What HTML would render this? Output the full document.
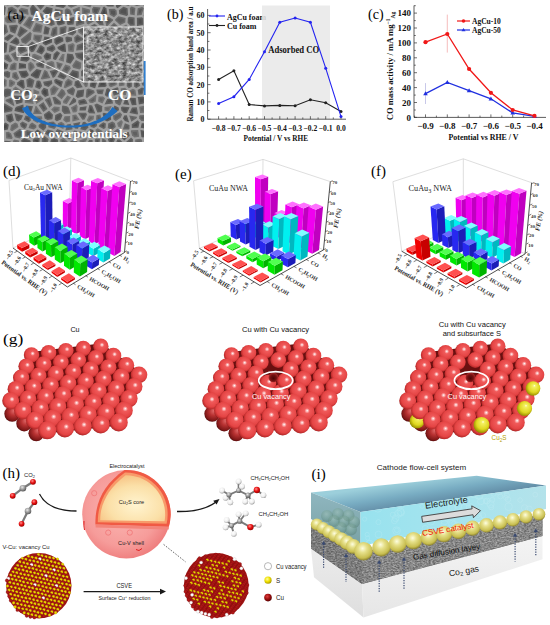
<!DOCTYPE html>
<html><head><meta charset="utf-8"><style>
html,body{margin:0;padding:0;background:#fff;}
svg{display:block;font-family:"Liberation Sans",sans-serif;}
</style></head><body>
<svg width="550" height="625" viewBox="0 0 550 625">
<rect width="550" height="625" fill="#fff"/>
<clipPath id="ca"><rect x="4" y="5" width="140" height="137"/></clipPath>
<g clip-path="url(#ca)">
<rect x="4" y="5" width="140" height="137" fill="#a0a0a0"/>
<filter id="bl5"><feGaussianBlur stdDeviation="0.6"/></filter><g filter="url(#bl5)">
<polygon points="13.2,-2.2 9.0,-4.2 2.5,-1.0 3.0,1.7 7.3,5.6 11.3,4.5" fill="rgb(111,111,111)"/>
<polygon points="11.3,-1.3 9.0,-2.4 4.2,-0.1 4.4,0.9 7.7,3.8 10.0,3.2" fill="rgb(96,96,96)" opacity="0.7"/>
<polygon points="17.7,7.8 19.9,5.9 20.6,-0.8 17.7,-2.4 15.5,-1.8 13.6,5.0" fill="rgb(110,110,110)"/>
<polygon points="17.6,5.8 18.4,5.1 18.9,0.1 17.5,-0.7 16.7,-0.5 15.4,4.3" fill="rgb(92,92,92)" opacity="0.7"/>
<polygon points="22.2,5.6 28.3,7.0 31.4,1.8 31.4,1.1 28.7,-1.6 22.9,-0.4" fill="rgb(108,108,108)"/>
<polygon points="24.0,4.4 27.5,5.2 29.6,1.6 28.2,0.2 24.3,0.9" fill="rgb(82,82,82)" opacity="0.7"/>
<polygon points="33.7,1.8 40.7,9.9 44.6,5.3 42.1,-0.9 33.7,1.6" fill="rgb(101,101,101)"/>
<polygon points="36.4,2.5 40.7,7.4 42.8,5.0 41.1,1.1" fill="rgb(86,86,86)" opacity="0.7"/>
<polygon points="46.8,4.5 53.2,6.0 55.3,-1.9 54.3,-2.9 44.2,-2.7 44.0,-2.3" fill="rgb(96,96,96)"/>
<polygon points="46.2,-1.2 48.0,3.1 52.1,4.1 53.5,-1.3" fill="rgb(80,80,80)" opacity="0.7"/>
<polygon points="66.2,-0.3 64.2,-2.0 57.5,-1.2 55.5,6.5 63.4,7.9 65.6,6.2" fill="rgb(92,92,92)"/>
<polygon points="64.5,0.4 63.7,-0.3 58.8,0.3 57.5,5.2 63.0,6.2 64.1,5.4" fill="rgb(73,73,73)" opacity="0.7"/>
<polygon points="68.5,0.0 67.9,6.1 71.2,7.7 77.2,5.2 72.8,-1.2" fill="rgb(106,106,106)"/>
<polygon points="70.0,1.3 69.6,5.2 71.2,5.9 74.7,4.4 72.1,0.6" fill="rgb(88,88,88)" opacity="0.7"/>
<polygon points="75.3,-1.7 79.6,4.7 80.6,5.0 84.9,-2.4 84.4,-2.8" fill="rgb(114,114,114)"/>
<polygon points="78.1,-0.4 80.2,2.6 82.2,-0.9" fill="rgb(86,86,86)" opacity="0.7"/>
<polygon points="90.3,7.4 91.5,5.2 90.0,-1.5 87.0,-1.5 83.1,5.3" fill="rgb(110,110,110)"/>
<polygon points="89.5,5.5 89.8,5.0 88.7,0.1 87.9,0.1 85.5,4.3" fill="rgb(84,84,84)" opacity="0.7"/>
<polygon points="92.2,-2.1 93.7,4.4 101.9,5.3 103.0,4.6 103.5,-1.2 102.1,-2.8" fill="rgb(98,98,98)"/>
<polygon points="94.2,-0.6 95.0,2.9 101.4,3.7 101.8,-0.7 101.4,-1.1" fill="rgb(73,73,73)" opacity="0.7"/>
<polygon points="113.7,0.2 110.4,-1.4 105.7,-0.6 105.3,4.7 107.8,6.6 113.7,6.5" fill="rgb(91,91,91)"/>
<polygon points="112.1,1.2 110.2,0.3 107.2,0.8 106.9,3.9 108.3,5.0 112.1,4.9" fill="rgb(79,79,79)" opacity="0.7"/>
<polygon points="116.0,0.4 116.0,7.1 117.6,8.3 121.9,4.9 120.8,-0.3 120.4,-0.6" fill="rgb(91,91,91)"/>
<polygon points="117.6,1.7 117.6,6.3 117.6,6.3 120.1,4.3 119.5,1.2" fill="rgb(74,74,74)" opacity="0.7"/>
<polygon points="131.5,-1.6 123.2,0.0 124.1,4.5 128.5,6.0 130.4,4.6" fill="rgb(108,108,108)"/>
<polygon points="129.5,0.5 125.1,1.3 125.5,3.3 128.2,4.2 128.9,3.7" fill="rgb(96,96,96)" opacity="0.7"/>
<polygon points="139.5,0.6 133.6,-0.5 132.7,4.5 136.8,6.1 140.9,5.1" fill="rgb(99,99,99)"/>
<polygon points="138.3,2.0 134.9,1.4 134.5,3.5 136.9,4.4 138.9,3.9" fill="rgb(77,77,77)" opacity="0.7"/>
<polygon points="141.7,-0.2 143.3,5.2 145.4,6.6 146.7,6.3 148.2,-0.2 143.4,-2.3" fill="rgb(112,112,112)"/>
<polygon points="143.5,0.2 144.7,4.2 145.5,4.7 146.4,0.7 143.9,-0.3" fill="rgb(90,90,90)" opacity="0.7"/>
<polygon points="2.0,4.0 -1.7,8.0 -0.6,15.0 3.1,16.5 5.0,14.3 5.8,7.3" fill="rgb(96,96,96)"/>
<polygon points="2.1,6.2 0.0,8.5 0.9,13.8 2.7,14.6 3.5,13.6 4.1,8.0" fill="rgb(83,83,83)" opacity="0.7"/>
<polygon points="16.7,9.8 12.0,6.7 8.0,7.8 7.4,13.6 15.9,13.8 16.7,12.7" fill="rgb(103,103,103)"/>
<polygon points="15.1,10.7 11.8,8.5 9.5,9.0 9.2,12.1 15.1,12.2" fill="rgb(77,77,77)" opacity="0.7"/>
<polygon points="19.0,9.7 19.0,12.2 27.9,14.8 28.6,14.5 27.8,9.3 21.3,7.7" fill="rgb(111,111,111)"/>
<polygon points="20.6,10.5 20.6,11.0 26.7,12.8 26.4,10.6 21.7,9.5" fill="rgb(88,88,88)" opacity="0.7"/>
<polygon points="30.0,8.6 30.9,14.5 33.7,15.8 39.0,11.4 32.7,4.1" fill="rgb(94,94,94)"/>
<polygon points="31.7,8.9 32.4,13.5 33.4,14.0 36.7,11.2 32.9,6.8" fill="rgb(81,81,81)" opacity="0.7"/>
<polygon points="42.5,11.3 48.0,16.6 51.6,15.8 52.7,8.3 46.4,6.8" fill="rgb(91,91,91)"/>
<polygon points="44.7,11.2 48.5,14.9 50.1,14.5 50.9,9.5 47.0,8.5" fill="rgb(75,75,75)" opacity="0.7"/>
<polygon points="55.0,8.7 53.8,16.4 54.9,17.4 62.6,15.0 62.6,10.1" fill="rgb(103,103,103)"/>
<polygon points="55.5,15.6 61.0,13.8 61.0,11.4 56.3,10.6" fill="rgb(89,89,89)" opacity="0.7"/>
<polygon points="66.9,8.2 64.8,9.7 64.9,15.4 65.8,16.5 72.3,14.9 70.2,9.8" fill="rgb(106,106,106)"/>
<polygon points="66.5,14.7 70.1,13.8 69.0,10.9 67.1,10.0 66.5,10.5" fill="rgb(89,89,89)" opacity="0.7"/>
<polygon points="74.7,14.9 75.8,15.6 79.9,13.9 79.8,7.1 79.0,6.9 72.6,9.5" fill="rgb(110,110,110)"/>
<polygon points="76.0,13.8 78.2,12.9 78.2,9.0 74.7,10.4" fill="rgb(89,89,89)" opacity="0.7"/>
<polygon points="82.1,7.4 82.2,14.0 84.1,15.1 90.1,12.5 89.8,9.6" fill="rgb(109,109,109)"/>
<polygon points="83.7,9.5 83.7,13.1 84.2,13.3 88.4,11.5 88.3,10.9" fill="rgb(93,93,93)" opacity="0.7"/>
<polygon points="97.7,14.5 100.6,7.5 93.4,6.7 92.0,9.0 92.4,12.6 96.1,15.1" fill="rgb(104,104,104)"/>
<polygon points="96.5,13.3 98.3,8.8 94.2,8.4 93.7,9.3 93.9,11.7 96.3,13.3" fill="rgb(77,77,77)" opacity="0.7"/>
<polygon points="100.1,14.8 103.3,16.1 107.4,14.7 106.4,8.4 104.1,6.6 103.2,7.3" fill="rgb(90,90,90)"/>
<polygon points="102.2,13.9 103.3,14.4 105.6,13.7 104.9,9.3 104.3,8.8" fill="rgb(62,62,62)" opacity="0.7"/>
<polygon points="114.0,17.3 116.9,14.5 116.6,10.4 114.5,8.8 108.8,8.9 109.7,14.8" fill="rgb(105,105,105)"/>
<polygon points="113.8,15.3 115.3,13.9 115.0,11.2 113.9,10.4 110.6,10.4 111.2,13.8" fill="rgb(76,76,76)" opacity="0.7"/>
<polygon points="119.2,14.0 126.6,15.9 128.0,14.9 127.6,8.2 123.4,6.7 118.9,10.3" fill="rgb(97,97,97)"/>
<polygon points="120.7,12.7 126.3,14.2 126.3,14.2 126.1,9.3 123.7,8.5 120.5,11.0" fill="rgb(77,77,77)" opacity="0.7"/>
<polygon points="135.4,8.1 131.6,6.5 129.9,7.9 130.2,14.5 134.6,15.3" fill="rgb(107,107,107)"/>
<polygon points="133.7,9.1 131.9,8.4 131.6,8.6 131.8,13.2 133.2,13.4" fill="rgb(85,85,85)" opacity="0.7"/>
<polygon points="136.9,15.4 141.6,15.0 143.8,8.3 142.1,7.1 137.7,8.2" fill="rgb(106,106,106)"/>
<polygon points="138.7,13.6 140.4,13.5 141.9,8.9 141.8,8.9 139.2,9.5" fill="rgb(79,79,79)" opacity="0.7"/>
<polygon points="170.1,15.8 147.6,8.5 146.1,8.8 143.7,15.8 144.7,16.9" fill="rgb(94,94,94)"/>
<polygon points="145.6,15.3 161.2,14.6 147.6,10.1 147.3,10.2" fill="rgb(70,70,70)" opacity="0.7"/>
<polygon points="-1.5,26.9 3.3,22.4 2.5,18.7 -1.7,17.0 -10.8,19.0" fill="rgb(101,101,101)"/>
<polygon points="-1.5,24.8 1.5,21.9 1.1,19.9 -1.8,18.7 -7.3,19.9" fill="rgb(73,73,73)" opacity="0.7"/>
<polygon points="15.8,22.5 15.4,16.1 6.7,15.9 4.7,18.2 5.5,22.1 7.8,23.3" fill="rgb(114,114,114)"/>
<polygon points="14.1,21.1 13.9,17.6 7.4,17.5 6.4,18.6 7.0,21.0 8.2,21.7" fill="rgb(95,95,95)" opacity="0.7"/>
<polygon points="18.3,14.4 17.7,15.3 18.1,23.0 19.7,24.2 20.7,24.2 26.1,16.7" fill="rgb(99,99,99)"/>
<polygon points="19.3,16.4 19.7,22.2 20.0,22.4 23.5,17.6" fill="rgb(71,71,71)" opacity="0.7"/>
<polygon points="29.8,16.6 28.7,17.0 23.0,25.0 30.2,29.4 34.0,21.4 32.9,18.0" fill="rgb(114,114,114)"/>
<polygon points="29.7,18.3 29.7,18.3 25.3,24.5 29.5,27.1 32.3,21.3 31.6,19.2" fill="rgb(89,89,89)" opacity="0.7"/>
<polygon points="35.2,17.6 36.2,20.5 43.2,22.7 46.2,18.0 40.8,12.8" fill="rgb(113,113,113)"/>
<polygon points="37.1,18.1 37.4,19.2 42.5,20.8 44.1,18.3 40.7,15.0" fill="rgb(84,84,84)" opacity="0.7"/>
<polygon points="45.3,23.8 51.3,26.1 54.9,24.5 53.6,19.3 52.2,18.0 48.3,18.9" fill="rgb(102,102,102)"/>
<polygon points="47.6,23.0 51.2,24.4 53.0,23.6 52.2,20.2 51.7,19.8 49.3,20.3" fill="rgb(84,84,84)" opacity="0.7"/>
<polygon points="64.7,24.0 64.3,18.2 63.4,17.2 56.0,19.5 57.2,24.4 58.7,25.4" fill="rgb(91,91,91)"/>
<polygon points="62.8,19.1 57.9,20.6 58.6,23.4 59.0,23.7 63.0,22.8" fill="rgb(72,72,72)" opacity="0.7"/>
<polygon points="73.6,16.9 66.6,18.7 67.0,24.3 68.1,24.9 73.6,24.6 74.4,17.5" fill="rgb(95,95,95)"/>
<polygon points="68.5,23.3 72.2,23.1 72.7,18.8 68.3,19.9" fill="rgb(70,70,70)" opacity="0.7"/>
<polygon points="76.7,17.7 75.9,25.2 76.8,26.0 84.4,23.7 83.0,17.1 80.9,16.0" fill="rgb(105,105,105)"/>
<polygon points="77.6,24.1 82.5,22.6 81.6,18.2 80.8,17.7 78.2,18.8" fill="rgb(77,77,77)" opacity="0.7"/>
<polygon points="94.7,17.0 91.2,14.6 85.3,17.0 86.8,23.8 88.3,24.6 93.7,21.5" fill="rgb(107,107,107)"/>
<polygon points="92.9,17.7 91.0,16.4 87.2,18.0 88.2,22.7 88.3,22.8 92.3,20.5" fill="rgb(91,91,91)" opacity="0.7"/>
<polygon points="98.6,16.6 97.0,17.3 96.0,21.8 99.5,24.9 103.7,25.2 102.2,18.2" fill="rgb(99,99,99)"/>
<polygon points="98.6,18.4 98.4,18.4 97.8,21.3 100.2,23.3 101.7,23.4 100.8,19.3" fill="rgb(78,78,78)" opacity="0.7"/>
<polygon points="112.9,20.6 113.0,19.4 108.5,16.8 104.6,18.1 106.2,25.7 107.1,26.3" fill="rgb(103,103,103)"/>
<polygon points="107.4,23.8 111.1,20.1 108.3,18.5 106.4,19.2" fill="rgb(75,75,75)" opacity="0.7"/>
<polygon points="125.3,22.4 125.6,18.1 118.4,16.2 115.3,19.3 115.2,20.6 120.1,25.1" fill="rgb(106,106,106)"/>
<polygon points="116.8,20.0 120.4,23.1 123.8,21.4 123.9,19.3 118.9,18.0" fill="rgb(89,89,89)" opacity="0.7"/>
<polygon points="130.3,25.8 134.7,25.4 134.6,17.6 129.4,16.7 127.9,17.8 127.6,22.7" fill="rgb(97,97,97)"/>
<polygon points="131.0,24.1 133.1,24.0 133.0,18.9 129.8,18.4 129.5,18.7 129.3,22.2" fill="rgb(75,75,75)" opacity="0.7"/>
<polygon points="137.1,26.0 143.3,24.8 143.1,18.5 142.0,17.3 136.9,17.7 137.0,25.9" fill="rgb(92,92,92)"/>
<polygon points="138.6,24.1 141.6,23.5 141.5,19.2 141.3,18.9 138.5,19.2" fill="rgb(72,72,72)" opacity="0.7"/>
<polygon points="145.6,25.2 145.8,25.4 166.8,22.8 178.4,18.1 176.4,17.8 145.4,19.2" fill="rgb(113,113,113)"/>
<polygon points="147.1,23.7 166.4,21.2 170.3,19.6 147.0,20.7" fill="rgb(85,85,85)" opacity="0.7"/>
<polygon points="8.1,32.1 6.6,25.3 4.7,24.2 -0.4,29.1 -1.0,31.0 3.3,35.7" fill="rgb(104,104,104)"/>
<polygon points="6.3,31.5 5.2,26.3 5.0,26.2 1.0,30.0 0.8,30.6 3.6,33.6" fill="rgb(83,83,83)" opacity="0.7"/>
<polygon points="10.4,31.8 15.2,33.7 18.0,25.8 16.6,24.7 9.0,25.5" fill="rgb(98,98,98)"/>
<polygon points="11.8,30.6 14.3,31.6 16.1,26.4 11.0,26.9" fill="rgb(76,76,76)" opacity="0.7"/>
<polygon points="17.2,35.0 19.7,37.4 27.9,30.7 21.0,26.5 20.2,26.5" fill="rgb(101,101,101)"/>
<polygon points="19.1,34.6 19.8,35.2 25.2,30.9 21.2,28.5" fill="rgb(78,78,78)" opacity="0.7"/>
<polygon points="32.2,30.5 33.4,32.0 41.2,32.7 42.7,24.9 35.9,22.8" fill="rgb(114,114,114)"/>
<polygon points="34.0,30.3 34.2,30.5 39.9,31.0 40.9,26.0 36.7,24.8" fill="rgb(89,89,89)" opacity="0.7"/>
<polygon points="44.1,34.2 48.3,34.5 49.9,28.1 44.8,26.1 43.4,33.6" fill="rgb(93,93,93)"/>
<polygon points="45.2,32.7 47.1,32.9 48.1,29.1 46.0,28.3" fill="rgb(78,78,78)" opacity="0.7"/>
<polygon points="50.5,35.3 53.2,37.1 57.3,34.4 57.3,27.2 56.1,26.4 52.3,28.2" fill="rgb(107,107,107)"/>
<polygon points="52.4,34.6 53.2,35.2 55.7,33.6 55.7,28.4 53.6,29.3" fill="rgb(78,78,78)" opacity="0.7"/>
<polygon points="65.7,26.1 59.6,27.5 59.6,34.3 63.9,35.7 65.7,34.5 66.6,26.7" fill="rgb(105,105,105)"/>
<polygon points="64.8,28.0 61.2,28.8 61.2,33.1 63.7,33.9 64.2,33.6" fill="rgb(78,78,78)" opacity="0.7"/>
<polygon points="68.8,27.2 68.0,34.3 72.7,35.4 76.1,32.5 75.5,27.9 74.3,26.9" fill="rgb(97,97,97)"/>
<polygon points="70.2,28.7 69.8,33.1 72.2,33.7 74.4,31.9 74.0,28.7 73.7,28.5" fill="rgb(81,81,81)" opacity="0.7"/>
<polygon points="84.4,36.4 88.0,31.0 87.2,26.6 85.6,25.8 77.8,28.1 78.4,32.4" fill="rgb(115,115,115)"/>
<polygon points="84.0,34.2 86.3,30.6 85.8,27.7 85.5,27.5 79.6,29.3 79.9,31.4" fill="rgb(88,88,88)" opacity="0.7"/>
<polygon points="95.3,32.0 97.7,26.3 94.6,23.7 89.5,26.5 90.2,30.4" fill="rgb(101,101,101)"/>
<polygon points="94.4,30.0 95.8,26.8 94.4,25.6 91.3,27.4 91.6,29.1" fill="rgb(75,75,75)" opacity="0.7"/>
<polygon points="105.8,34.3 107.1,33.1 106.3,28.5 104.8,27.6 99.8,27.2 97.6,32.5" fill="rgb(106,106,106)"/>
<polygon points="105.3,32.5 105.4,32.5 104.8,29.5 104.3,29.1 100.8,28.9 99.8,31.3" fill="rgb(80,80,80)" opacity="0.7"/>
<polygon points="118.5,32.1 118.7,26.9 114.0,22.7 108.6,28.1 109.4,32.7 111.4,33.4" fill="rgb(105,105,105)"/>
<polygon points="117.0,30.8 117.1,27.6 114.1,24.9 110.3,28.7 110.8,31.5 111.6,31.8" fill="rgb(81,81,81)" opacity="0.7"/>
<polygon points="127.0,31.4 128.5,27.2 126.2,24.6 121.0,27.2 120.8,32.5 122.5,33.7" fill="rgb(114,114,114)"/>
<polygon points="125.7,30.3 126.7,27.6 125.8,26.6 122.6,28.2 122.5,31.7 122.7,31.9" fill="rgb(95,95,95)" opacity="0.7"/>
<polygon points="136.0,33.6 135.7,27.8 135.6,27.7 130.7,28.1 129.3,31.8 134.1,34.9" fill="rgb(109,109,109)"/>
<polygon points="134.2,29.4 131.8,29.6 131.3,31.1 134.0,33.0 134.4,32.8" fill="rgb(80,80,80)" opacity="0.7"/>
<polygon points="138.3,33.4 142.7,35.2 144.8,33.9 144.4,27.2 144.1,27.0 138.1,28.1" fill="rgb(91,91,91)"/>
<polygon points="139.8,32.3 142.6,33.4 143.1,33.0 142.9,28.9 139.7,29.5" fill="rgb(75,75,75)" opacity="0.7"/>
<polygon points="150.2,34.7 162.7,25.6 146.7,27.7 147.0,33.6" fill="rgb(99,99,99)"/>
<polygon points="149.9,32.9 156.7,28.0 148.4,29.1 148.6,32.5" fill="rgb(77,77,77)" opacity="0.7"/>
<polygon points="2.2,39.7 2.1,37.8 -2.5,32.6 -14.4,38.0 0.2,41.7" fill="rgb(101,101,101)"/>
<polygon points="0.6,39.1 0.5,38.4 -3.0,34.6 -9.6,37.6 -0.3,40.0" fill="rgb(73,73,73)" opacity="0.7"/>
<polygon points="9.6,33.9 4.4,37.8 4.5,39.4 7.9,41.0 13.9,35.7" fill="rgb(94,94,94)"/>
<polygon points="6.2,38.5 7.6,39.1 10.9,36.2 9.8,35.7" fill="rgb(77,77,77)" opacity="0.7"/>
<polygon points="9.9,42.4 17.1,45.0 19.5,42.9 18.6,39.5 16.0,37.0" fill="rgb(91,91,91)"/>
<polygon points="13.0,41.8 16.8,43.1 17.7,42.3 17.2,40.4 15.9,39.2" fill="rgb(76,76,76)" opacity="0.7"/>
<polygon points="25.9,44.0 30.9,39.4 31.6,33.5 30.2,31.8 20.9,39.3 21.8,42.4" fill="rgb(105,105,105)"/>
<polygon points="25.5,42.1 29.4,38.6 29.9,34.1 22.7,39.9 23.1,41.2" fill="rgb(93,93,93)" opacity="0.7"/>
<polygon points="40.3,43.0 42.3,35.7 41.6,35.1 33.8,34.4 33.2,39.4 39.1,43.4" fill="rgb(114,114,114)"/>
<polygon points="39.1,41.4 40.4,36.6 35.2,36.1 34.9,38.6" fill="rgb(89,89,89)" opacity="0.7"/>
<polygon points="45.7,45.5 52.1,42.5 52.0,39.1 48.8,36.9 44.4,36.6 42.6,43.4" fill="rgb(92,92,92)"/>
<polygon points="45.9,43.7 50.5,41.5 50.4,39.9 48.3,38.5 45.6,38.3 44.4,42.7" fill="rgb(66,66,66)" opacity="0.7"/>
<polygon points="54.4,42.7 56.3,44.9 63.5,41.3 63.0,37.8 58.6,36.3 54.3,39.1" fill="rgb(93,93,93)"/>
<polygon points="56.0,42.1 56.7,43.0 61.7,40.4 61.6,39.0 58.8,38.1 55.9,39.9" fill="rgb(72,72,72)" opacity="0.7"/>
<polygon points="67.0,36.4 65.3,37.5 65.8,41.4 66.9,42.6 72.1,41.0 71.9,37.6" fill="rgb(95,95,95)"/>
<polygon points="67.3,38.2 67.0,38.3 67.3,40.7 67.4,40.8 70.4,39.8 70.4,38.9" fill="rgb(80,80,80)" opacity="0.7"/>
<polygon points="83.9,39.8 83.7,38.7 77.4,34.5 74.2,37.2 74.5,41.3 76.1,43.0 83.9,39.8" fill="rgb(103,103,103)"/>
<polygon points="81.4,39.1 77.5,36.5 75.8,37.9 76.0,40.6 76.5,41.1" fill="rgb(76,76,76)" opacity="0.7"/>
<polygon points="94.0,40.6 94.7,34.2 89.7,32.6 86.0,38.2 86.1,39.0" fill="rgb(92,92,92)"/>
<polygon points="88.2,37.8 92.6,38.7 93.0,35.3 90.4,34.5" fill="rgb(77,77,77)" opacity="0.7"/>
<polygon points="96.9,34.7 96.3,40.7 102.2,41.7 104.5,36.3" fill="rgb(102,102,102)"/>
<polygon points="98.4,36.6 98.1,39.4 101.3,39.9 102.3,37.5" fill="rgb(73,73,73)" opacity="0.7"/>
<polygon points="111.3,45.4 113.1,43.1 110.4,35.5 108.6,34.8 107.1,36.2 104.2,43.1 104.8,44.5" fill="rgb(99,99,99)"/>
<polygon points="105.9,43.0 110.6,43.7 111.3,42.8 109.1,36.7 109.0,36.7 108.4,37.2" fill="rgb(72,72,72)" opacity="0.7"/>
<polygon points="121.4,35.8 119.4,34.3 112.8,35.5 115.2,42.2 121.3,42.3 122.5,41.3" fill="rgb(104,104,104)"/>
<polygon points="119.9,36.7 119.0,36.0 115.0,36.7 116.4,40.6 120.7,40.7 120.7,40.7" fill="rgb(84,84,84)" opacity="0.7"/>
<polygon points="132.7,36.8 127.8,33.6 123.7,35.7 124.8,40.9 128.9,42.5 131.6,41.1" fill="rgb(109,109,109)"/>
<polygon points="130.9,37.5 127.7,35.4 125.5,36.6 126.2,39.7 128.8,40.7 130.3,40.0" fill="rgb(94,94,94)" opacity="0.7"/>
<polygon points="137.3,35.5 135.1,37.0 134.0,41.2 140.7,44.0 141.1,43.5 141.6,37.2" fill="rgb(103,103,103)"/>
<polygon points="137.5,37.3 136.5,38.0 135.9,40.2 139.6,41.8 139.9,38.3" fill="rgb(91,91,91)" opacity="0.7"/>
<polygon points="143.5,42.5 150.7,41.5 149.5,36.8 146.1,35.8 143.9,37.1" fill="rgb(103,103,103)"/>
<polygon points="145.2,40.7 148.7,40.2 148.1,38.1 146.3,37.5 145.5,38.1" fill="rgb(74,74,74)" opacity="0.7"/>
<polygon points="7.4,43.4 7.3,43.3 3.7,41.6 1.6,43.6 0.6,51.0 3.8,53.0 6.5,52.3" fill="rgb(91,91,91)"/>
<polygon points="5.7,44.3 4.0,43.5 3.1,44.3 2.4,50.2 4.1,51.3 5.0,51.0" fill="rgb(78,78,78)" opacity="0.7"/>
<polygon points="15.9,47.0 9.6,44.7 8.8,52.3 9.1,52.4 15.0,49.5" fill="rgb(104,104,104)"/>
<polygon points="10.7,49.9 13.7,48.4 13.8,47.9 11.0,46.9" fill="rgb(76,76,76)" opacity="0.7"/>
<polygon points="25.3,46.2 21.0,44.6 18.3,46.9 17.2,50.1 20.4,54.1 27.4,51.1" fill="rgb(104,104,104)"/>
<polygon points="24.1,47.5 21.4,46.5 19.7,47.9 19.0,49.8 20.9,52.1 25.3,50.2" fill="rgb(75,75,75)" opacity="0.7"/>
<polygon points="27.5,45.6 29.9,51.0 31.6,52.3 33.9,51.6 37.5,45.0 32.1,41.4" fill="rgb(98,98,98)"/>
<polygon points="29.4,46.0 31.2,49.9 32.0,50.5 32.9,50.3 35.4,45.6 32.2,43.4" fill="rgb(69,69,69)" opacity="0.7"/>
<polygon points="44.5,47.5 41.1,45.2 39.8,45.6 36.3,52.0 41.8,54.4 44.6,50.7" fill="rgb(95,95,95)"/>
<polygon points="40.8,47.0 38.6,51.3 41.3,52.4 43.0,50.2 43.0,48.3" fill="rgb(70,70,70)" opacity="0.7"/>
<polygon points="46.8,47.5 46.9,50.2 52.3,52.1 55.6,49.2 55.0,46.9 53.0,44.6" fill="rgb(98,98,98)"/>
<polygon points="48.5,48.5 48.5,49.1 52.0,50.3 53.8,48.7 53.6,47.7 52.6,46.6" fill="rgb(71,71,71)" opacity="0.7"/>
<polygon points="57.9,48.9 62.0,51.5 65.7,51.9 66.1,51.8 65.4,44.4 64.5,43.4 57.4,47.0" fill="rgb(90,90,90)"/>
<polygon points="59.3,47.9 62.5,50.0 64.3,50.2 63.9,45.5 59.3,47.8" fill="rgb(73,73,73)" opacity="0.7"/>
<polygon points="68.3,51.4 73.2,52.0 73.8,51.4 74.7,44.7 73.0,43.1 67.8,44.7" fill="rgb(114,114,114)"/>
<polygon points="69.8,50.0 72.3,50.3 73.0,45.3 72.6,44.9 69.5,45.9" fill="rgb(89,89,89)" opacity="0.7"/>
<polygon points="84.6,49.7 83.8,42.4 76.9,45.1 76.2,50.6" fill="rgb(102,102,102)"/>
<polygon points="82.8,48.3 82.4,44.6 78.4,46.3 78.0,48.8" fill="rgb(84,84,84)" opacity="0.7"/>
<polygon points="86.0,41.3 86.9,50.1 88.8,51.9 91.8,51.0 93.2,42.8" fill="rgb(114,114,114)"/>
<polygon points="87.8,43.3 88.4,49.4 89.2,50.1 90.4,49.7 91.4,44.0" fill="rgb(99,99,99)" opacity="0.7"/>
<polygon points="95.5,42.9 94.1,51.0 99.2,52.4 100.8,51.8 102.7,45.6 102.1,44.1" fill="rgb(94,94,94)"/>
<polygon points="96.8,44.7 95.9,49.9 99.1,50.7 99.5,50.6 101.0,45.6 101.0,45.5" fill="rgb(81,81,81)" opacity="0.7"/>
<polygon points="103.2,51.9 112.5,51.5 111.0,47.6 104.7,46.8" fill="rgb(107,107,107)"/>
<polygon points="105.4,50.2 110.2,50.0 109.9,49.1 105.9,48.6" fill="rgb(79,79,79)" opacity="0.7"/>
<polygon points="113.1,46.8 115.2,52.0 116.1,52.9 118.9,51.6 120.3,44.6 115.0,44.5" fill="rgb(93,93,93)"/>
<polygon points="115.0,47.1 116.5,51.0 117.5,50.5 118.3,46.2 115.7,46.1" fill="rgb(68,68,68)" opacity="0.7"/>
<polygon points="128.0,44.6 124.0,43.1 122.7,44.1 121.2,51.6 124.6,52.7 128.8,50.4" fill="rgb(109,109,109)"/>
<polygon points="126.5,45.7 124.3,44.9 124.2,45.0 123.1,50.6 124.5,51.0 127.1,49.5" fill="rgb(94,94,94)" opacity="0.7"/>
<polygon points="140.1,46.2 132.7,43.1 130.3,44.4 131.1,50.3 133.3,51.6 140.4,49.1" fill="rgb(103,103,103)"/>
<polygon points="138.6,47.3 132.8,44.9 132.0,45.3 132.6,49.3 133.5,49.9 138.6,48.0" fill="rgb(81,81,81)" opacity="0.7"/>
<polygon points="142.7,49.1 149.1,50.1 151.2,43.7 142.9,44.9 142.3,45.7" fill="rgb(91,91,91)"/>
<polygon points="144.0,46.4 144.1,47.7 148.0,48.3 148.9,45.7" fill="rgb(62,62,62)" opacity="0.7"/>
<polygon points="2.4,54.8 -0.8,52.8 -11.3,54.8 -1.5,64.5 1.9,59.4" fill="rgb(93,93,93)"/>
<polygon points="0.7,55.6 -1.1,54.5 -8.0,55.8 -1.7,62.0 0.4,58.9" fill="rgb(79,79,79)" opacity="0.7"/>
<polygon points="4.7,55.1 4.3,59.2 9.8,62.5 12.4,60.9 8.6,54.6 7.6,54.4" fill="rgb(108,108,108)"/>
<polygon points="6.2,56.4 6.0,58.4 9.8,60.6 10.2,60.4 7.6,56.1" fill="rgb(87,87,87)" opacity="0.7"/>
<polygon points="18.8,55.8 15.6,51.8 10.9,54.1 14.7,60.3 17.7,61.1 17.9,61.0" fill="rgb(110,110,110)"/>
<polygon points="16.6,59.1 17.1,56.2 15.1,53.8 13.2,54.8 15.7,58.9" fill="rgb(87,87,87)" opacity="0.7"/>
<polygon points="28.8,53.0 21.1,56.3 20.3,60.8 26.7,61.7 29.4,59.7 30.1,54.0" fill="rgb(92,92,92)"/>
<polygon points="28.4,54.9 22.5,57.4 22.1,59.4 26.3,60.0 27.9,58.8" fill="rgb(72,72,72)" opacity="0.7"/>
<polygon points="41.3,56.6 34.6,53.8 32.4,54.4 31.7,59.8 34.4,61.8 42.0,58.6" fill="rgb(115,115,115)"/>
<polygon points="39.8,57.7 34.5,55.5 33.8,55.7 33.4,59.1 34.6,59.9" fill="rgb(98,98,98)" opacity="0.7"/>
<polygon points="46.2,52.4 43.5,56.0 44.5,58.6 46.1,60.4 50.7,58.9 51.3,54.2" fill="rgb(94,94,94)"/>
<polygon points="46.8,54.3 45.3,56.2 45.9,57.7 46.6,58.5 49.2,57.7 49.6,55.3" fill="rgb(67,67,67)" opacity="0.7"/>
<polygon points="53.7,54.0 53.0,59.0 55.2,60.1 56.1,59.8 60.0,53.0 57.0,51.1" fill="rgb(92,92,92)"/>
<polygon points="55.1,58.3 57.9,53.5 57.1,53.1 55.2,54.8 54.7,58.1" fill="rgb(73,73,73)" opacity="0.7"/>
<polygon points="58.6,60.0 63.8,61.7 64.6,54.1 62.2,53.9" fill="rgb(115,115,115)"/>
<polygon points="61.0,59.1 62.4,59.5 62.8,56.0" fill="rgb(88,88,88)" opacity="0.7"/>
<polygon points="67.0,53.9 66.1,62.2 70.5,63.8 74.3,58.3 72.8,54.2 67.5,53.6" fill="rgb(93,93,93)"/>
<polygon points="68.4,55.3 67.8,61.2 69.9,61.9 72.5,58.1 71.7,55.7" fill="rgb(80,80,80)" opacity="0.7"/>
<polygon points="86.3,58.1 87.3,53.6 85.4,51.9 75.4,53.1 75.0,53.5 76.5,57.7 82.4,60.8" fill="rgb(102,102,102)"/>
<polygon points="77.1,54.5 77.8,56.5 82.3,58.9 84.9,57.2 85.5,54.1 84.9,53.6" fill="rgb(78,78,78)" opacity="0.7"/>
<polygon points="97.9,54.4 92.8,53.1 89.5,54.1 88.6,58.4 92.7,61.7 96.5,61.0" fill="rgb(111,111,111)"/>
<polygon points="96.0,55.6 92.8,54.7 90.9,55.3 90.4,57.7 93.1,60.0 95.2,59.6" fill="rgb(96,96,96)" opacity="0.7"/>
<polygon points="101.5,54.0 100.2,54.5 98.7,61.6 101.5,64.2 106.9,61.5" fill="rgb(101,101,101)"/>
<polygon points="101.4,56.6 100.5,61.0 101.8,62.2 104.5,60.9" fill="rgb(81,81,81)" opacity="0.7"/>
<polygon points="104.4,54.1 108.8,60.1 113.8,57.9 114.6,54.7 113.7,53.8" fill="rgb(97,97,97)"/>
<polygon points="107.5,55.6 109.3,58.1 112.4,56.7 112.8,55.4" fill="rgb(73,73,73)" opacity="0.7"/>
<polygon points="116.8,55.1 116.1,58.4 119.6,62.1 125.0,61.4 123.8,54.9 120.0,53.7" fill="rgb(104,104,104)"/>
<polygon points="118.2,56.3 117.8,57.9 120.2,60.4 123.1,60.1 122.4,56.1 120.1,55.4" fill="rgb(85,85,85)" opacity="0.7"/>
<polygon points="127.3,61.3 132.4,58.3 132.1,53.6 130.0,52.3 126.1,54.6" fill="rgb(110,110,110)"/>
<polygon points="128.5,58.8 130.7,57.4 130.5,54.5 130.0,54.2 127.8,55.4" fill="rgb(93,93,93)" opacity="0.7"/>
<polygon points="140.7,51.4 134.4,53.7 134.7,58.3 138.6,60.4 141.0,59.0" fill="rgb(105,105,105)"/>
<polygon points="139.2,53.6 136.1,54.8 136.2,57.3 138.6,58.6 139.4,58.1" fill="rgb(79,79,79)" opacity="0.7"/>
<polygon points="143.0,51.5 143.3,58.8 146.1,59.7 153.2,56.9 149.3,52.5" fill="rgb(98,98,98)"/>
<polygon points="144.7,53.4 144.8,57.6 146.0,58.0 150.5,56.3 148.5,54.0" fill="rgb(86,86,86)" opacity="0.7"/>
<polygon points="-0.1,66.5 2.2,69.8 7.0,68.9 8.4,64.4 3.4,61.4" fill="rgb(90,90,90)"/>
<polygon points="1.9,66.5 2.9,68.0 5.7,67.5 6.5,65.1 3.9,63.5" fill="rgb(64,64,64)" opacity="0.7"/>
<polygon points="11.7,70.5 16.3,69.8 16.3,69.8 16.7,63.2 14.1,62.5 10.8,64.6 9.3,69.3" fill="rgb(111,111,111)"/>
<polygon points="12.0,68.9 14.8,68.4 15.0,64.4 14.4,64.2 12.1,65.6 11.2,68.5" fill="rgb(87,87,87)" opacity="0.7"/>
<polygon points="18.7,68.8 26.0,68.3 25.9,63.9 19.2,62.9 19.0,63.0" fill="rgb(90,90,90)"/>
<polygon points="20.5,64.7 20.4,67.1 24.4,66.8 24.3,65.3" fill="rgb(74,74,74)" opacity="0.7"/>
<polygon points="28.3,69.0 30.0,71.9 34.9,67.3 33.3,63.8 30.5,61.8 28.2,63.5" fill="rgb(114,114,114)"/>
<polygon points="29.9,68.6 30.4,69.4 33.0,66.9 32.0,64.9 30.5,63.7 29.8,64.3" fill="rgb(92,92,92)" opacity="0.7"/>
<polygon points="43.0,68.3 43.7,67.9 44.6,62.1 43.2,60.6 35.8,63.7 37.1,66.6" fill="rgb(101,101,101)"/>
<polygon points="42.3,66.5 42.9,62.6 42.8,62.5 37.9,64.5 38.3,65.3" fill="rgb(72,72,72)" opacity="0.7"/>
<polygon points="54.1,62.1 51.7,61.0 46.8,62.6 46.0,68.0 48.2,69.1 54.8,67.4" fill="rgb(115,115,115)"/>
<polygon points="52.6,63.2 51.6,62.7 48.3,63.8 47.8,67.1 48.4,67.4 53.0,66.2" fill="rgb(99,99,99)" opacity="0.7"/>
<polygon points="57.0,61.9 56.4,62.1 57.1,67.6 59.8,69.5 62.9,63.8" fill="rgb(108,108,108)"/>
<polygon points="58.3,64.0 58.6,66.7 59.2,67.2 60.6,64.7" fill="rgb(82,82,82)" opacity="0.7"/>
<polygon points="65.3,64.4 61.9,70.4 67.1,73.4 70.8,68.6 70.0,66.1" fill="rgb(112,112,112)"/>
<polygon points="66.0,66.4 64.1,69.8 66.7,71.3 69.0,68.3 68.7,67.4" fill="rgb(84,84,84)" opacity="0.7"/>
<polygon points="81.3,62.8 75.9,60.0 72.2,65.4 73.0,67.8 79.5,69.4 81.0,68.0" fill="rgb(109,109,109)"/>
<polygon points="79.7,63.7 76.5,62.0 74.0,65.7 74.2,66.5 79.1,67.7 79.5,67.3" fill="rgb(96,96,96)" opacity="0.7"/>
<polygon points="91.1,63.4 87.3,60.2 83.6,62.7 83.3,67.7 86.9,68.7 90.6,67.6" fill="rgb(97,97,97)"/>
<polygon points="89.4,64.1 87.2,62.2 85.2,63.6 85.0,66.5 86.9,67.1 89.1,66.4" fill="rgb(82,82,82)" opacity="0.7"/>
<polygon points="97.1,63.2 93.4,63.9 92.8,68.0 95.8,70.6 99.5,69.0 100.0,66.0" fill="rgb(106,106,106)"/>
<polygon points="96.6,64.9 94.8,65.3 94.5,67.4 96.1,68.7 98.1,67.9 98.3,66.5" fill="rgb(85,85,85)" opacity="0.7"/>
<polygon points="107.4,63.8 102.3,66.3 101.8,69.4 105.4,72.8 109.9,70.2" fill="rgb(115,115,115)"/>
<polygon points="106.6,66.0 103.7,67.4 103.5,68.8 105.6,70.8 107.9,69.5" fill="rgb(99,99,99)" opacity="0.7"/>
<polygon points="109.3,62.4 112.1,69.8 114.0,70.2 116.7,68.5 117.9,63.7 114.5,60.1" fill="rgb(93,93,93)"/>
<polygon points="111.4,63.2 113.3,68.4 113.7,68.5 115.3,67.5 116.1,64.1 114.1,62.0" fill="rgb(81,81,81)" opacity="0.7"/>
<polygon points="128.2,69.3 126.2,63.6 126.2,63.6 120.0,64.4 119.0,68.6 124.9,71.8" fill="rgb(95,95,95)"/>
<polygon points="126.3,68.7 125.1,65.3 121.3,65.8 120.9,67.8 124.7,69.9" fill="rgb(67,67,67)" opacity="0.7"/>
<polygon points="137.4,62.4 133.6,60.3 128.5,63.3 130.3,68.1 136.9,66.6" fill="rgb(105,105,105)"/>
<polygon points="135.7,63.3 133.6,62.1 130.5,64.0 131.3,66.2 135.5,65.3" fill="rgb(89,89,89)" opacity="0.7"/>
<polygon points="139.8,62.4 139.2,67.2 142.3,70.4 145.8,69.8 145.0,61.8 142.3,60.9" fill="rgb(104,104,104)"/>
<polygon points="141.3,63.4 140.9,66.6 142.9,68.7 144.1,68.5 143.5,63.0 142.5,62.6" fill="rgb(81,81,81)" opacity="0.7"/>
<polygon points="9.8,77.3 10.3,72.4 7.7,71.1 2.7,72.0 2.1,75.0 7.9,78.0" fill="rgb(98,98,98)"/>
<polygon points="8.3,76.2 8.6,73.3 7.5,72.7 4.0,73.4 3.9,74.1 8.0,76.3" fill="rgb(86,86,86)" opacity="0.7"/>
<polygon points="19.2,78.2 16.4,72.1 12.6,72.7 12.1,77.5 16.6,80.2" fill="rgb(108,108,108)"/>
<polygon points="17.2,77.7 15.4,73.9 14.1,74.1 13.8,76.7 16.5,78.3" fill="rgb(86,86,86)" opacity="0.7"/>
<polygon points="18.5,71.2 21.4,77.5 24.8,78.0 28.5,75.8 28.6,74.0 26.5,70.6" fill="rgb(92,92,92)"/>
<polygon points="20.9,72.6 22.5,76.1 24.5,76.3 27.0,74.9 27.0,74.4 25.7,72.2" fill="rgb(71,71,71)" opacity="0.7"/>
<polygon points="36.0,78.5 38.6,78.2 41.6,70.3 36.6,68.9 30.9,74.2 30.8,75.8" fill="rgb(93,93,93)"/>
<polygon points="32.5,74.9 36.3,76.9 37.4,76.7 39.5,71.4 37.0,70.7" fill="rgb(74,74,74)" opacity="0.7"/>
<polygon points="40.8,78.8 41.9,79.6 50.3,78.1 47.2,71.2 44.8,69.9 44.1,70.4" fill="rgb(109,109,109)"/>
<polygon points="42.9,77.8 48.0,76.9 46.0,72.3 45.2,71.9" fill="rgb(87,87,87)" opacity="0.7"/>
<polygon points="52.8,78.1 55.0,76.7 58.2,71.2 55.8,69.5 49.7,71.1" fill="rgb(98,98,98)"/>
<polygon points="53.5,75.7 53.8,75.5 56.1,71.7 55.5,71.3 51.9,72.2" fill="rgb(73,73,73)" opacity="0.7"/>
<polygon points="60.3,72.1 57.5,76.9 63.9,79.5 66.6,76.6 66.4,75.7" fill="rgb(96,96,96)"/>
<polygon points="60.9,74.3 59.8,76.1 63.5,77.6 64.6,76.5" fill="rgb(73,73,73)" opacity="0.7"/>
<polygon points="78.3,77.7 78.8,77.0 78.7,71.6 72.5,70.1 68.7,75.2 68.9,76.2 73.9,79.4" fill="rgb(97,97,97)"/>
<polygon points="70.6,75.4 74.1,77.6 77.2,76.4 77.1,72.9 73.2,71.9" fill="rgb(74,74,74)" opacity="0.7"/>
<polygon points="87.7,76.9 85.9,70.9 82.5,69.8 81.0,71.2 81.1,76.3" fill="rgb(104,104,104)"/>
<polygon points="85.5,75.1 84.7,72.1 82.9,71.6 82.6,71.9 82.6,74.8" fill="rgb(82,82,82)" opacity="0.7"/>
<polygon points="90.2,77.2 93.2,76.2 94.3,72.3 91.3,69.8 88.3,70.7" fill="rgb(111,111,111)"/>
<polygon points="91.3,75.1 91.9,74.9 92.5,72.9 90.9,71.6 90.3,71.8" fill="rgb(85,85,85)" opacity="0.7"/>
<polygon points="99.0,79.6 103.8,78.5 104.1,74.7 100.3,71.2 96.5,72.8 95.4,76.6" fill="rgb(115,115,115)"/>
<polygon points="99.4,77.8 102.3,77.2 102.4,75.3 100.0,73.1 97.9,74.0 97.2,76.1" fill="rgb(99,99,99)" opacity="0.7"/>
<polygon points="106.1,79.0 107.5,80.4 114.5,77.9 113.2,72.4 111.4,72.0 106.4,74.9" fill="rgb(115,115,115)"/>
<polygon points="107.7,78.4 107.9,78.5 112.6,76.9 111.9,73.7 111.7,73.7 107.9,75.9" fill="rgb(91,91,91)" opacity="0.7"/>
<polygon points="118.2,78.9 122.9,77.5 123.7,73.8 117.8,70.5 115.5,72.0 116.8,77.9" fill="rgb(93,93,93)"/>
<polygon points="118.5,77.1 121.5,76.2 121.9,74.6 117.8,72.4 117.3,72.7 118.2,76.9" fill="rgb(81,81,81)" opacity="0.7"/>
<polygon points="133.7,78.5 129.1,71.5 126.0,73.9 125.2,78.0 126.3,79.1 132.5,79.6" fill="rgb(96,96,96)"/>
<polygon points="131.4,77.9 128.7,73.8 127.4,74.8 126.9,77.4 127.0,77.6" fill="rgb(76,76,76)" opacity="0.7"/>
<polygon points="131.0,70.3 135.8,77.5 137.9,77.2 138.3,76.8 140.5,71.9 137.6,68.8" fill="rgb(106,106,106)"/>
<polygon points="133.6,71.3 136.5,75.8 137.0,75.7 138.6,72.2 137.1,70.6" fill="rgb(79,79,79)" opacity="0.7"/>
<polygon points="140.8,76.9 149.1,79.9 145.8,72.1 142.7,72.7" fill="rgb(111,111,111)"/>
<polygon points="143.0,76.0 146.2,77.1 144.8,73.9 143.8,74.1" fill="rgb(83,83,83)" opacity="0.7"/>
<polygon points="6.7,80.0 1.1,77.1 -0.6,79.2 -0.3,82.7 4.1,86.8 6.5,86.3" fill="rgb(112,112,112)"/>
<polygon points="5.1,80.9 1.5,79.1 1.0,79.7 1.2,82.0 4.6,85.1 4.9,85.0" fill="rgb(85,85,85)" opacity="0.7"/>
<polygon points="14.5,84.4 15.3,82.1 10.7,79.4 9.0,80.1 8.8,86.4 11.4,87.0" fill="rgb(115,115,115)"/>
<polygon points="13.1,83.4 13.3,82.8 10.6,81.2 10.6,81.2 10.4,85.1 10.9,85.3" fill="rgb(90,90,90)" opacity="0.7"/>
<polygon points="23.3,89.1 24.8,87.5 24.0,80.2 20.9,79.8 17.6,82.3 16.8,84.6" fill="rgb(93,93,93)"/>
<polygon points="23.1,87.0 23.1,86.9 22.5,81.6 21.4,81.5 19.0,83.3 18.7,84.0" fill="rgb(71,71,71)" opacity="0.7"/>
<polygon points="32.7,87.3 34.5,80.3 29.7,77.8 26.3,79.8 27.1,86.9 32.0,87.8" fill="rgb(101,101,101)"/>
<polygon points="31.3,86.0 32.6,81.1 29.7,79.6 28.0,80.7 28.5,85.5" fill="rgb(77,77,77)" opacity="0.7"/>
<polygon points="35.1,87.3 39.8,89.3 42.1,86.1 40.6,81.5 39.1,80.4 36.7,80.7" fill="rgb(97,97,97)"/>
<polygon points="36.9,86.3 39.2,87.3 40.3,85.8 39.2,82.5 38.7,82.1 38.0,82.2" fill="rgb(69,69,69)" opacity="0.7"/>
<polygon points="43.1,81.7 44.3,85.5 48.6,87.1 52.4,83.4 51.8,80.2 51.7,80.2" fill="rgb(97,97,97)"/>
<polygon points="45.2,83.0 45.6,84.3 48.2,85.3 50.7,82.9 50.5,82.0" fill="rgb(77,77,77)" opacity="0.7"/>
<polygon points="60.8,87.0 61.4,86.9 62.9,81.6 56.0,78.8 54.1,80.0 54.7,83.1" fill="rgb(94,94,94)"/>
<polygon points="60.3,84.8 61.0,82.5 56.2,80.6 55.9,80.8 56.1,82.1" fill="rgb(66,66,66)" opacity="0.7"/>
<polygon points="72.1,84.9 72.6,81.2 68.1,78.4 65.3,81.5 63.7,87.4 65.2,88.3" fill="rgb(113,113,113)"/>
<polygon points="65.6,86.4 70.6,83.9 70.9,82.0 68.4,80.5 66.7,82.3" fill="rgb(84,84,84)" opacity="0.7"/>
<polygon points="82.7,87.3 78.5,80.0 74.9,81.5 74.4,85.3 77.0,88.3" fill="rgb(95,95,95)"/>
<polygon points="80.1,86.1 77.8,82.0 76.3,82.6 76.1,84.8 77.6,86.6" fill="rgb(77,77,77)" opacity="0.7"/>
<polygon points="87.5,86.5 88.5,79.3 80.5,78.5 80.4,78.6 85.3,87.3 85.4,87.3" fill="rgb(113,113,113)"/>
<polygon points="83.2,80.4 86.0,85.3 86.7,80.7" fill="rgb(86,86,86)" opacity="0.7"/>
<polygon points="95.3,87.8 97.4,81.2 93.9,78.3 90.9,79.4 89.8,86.6 94.8,88.2" fill="rgb(92,92,92)"/>
<polygon points="94.1,86.3 95.5,81.8 93.5,80.2 92.3,80.6 91.6,85.5" fill="rgb(72,72,72)" opacity="0.7"/>
<polygon points="97.9,87.3 105.0,87.1 106.6,86.0 106.1,82.3 104.5,80.7 99.6,81.8" fill="rgb(91,91,91)"/>
<polygon points="100.1,85.6 104.5,85.6 104.9,85.3 104.5,83.0 104.0,82.4 100.9,83.2" fill="rgb(65,65,65)" opacity="0.7"/>
<polygon points="108.9,85.9 110.9,87.3 116.6,85.1 116.9,80.7 115.7,79.9 108.4,82.5" fill="rgb(111,111,111)"/>
<polygon points="110.4,85.0 111.1,85.5 115.1,84.0 115.2,81.8 110.2,83.6" fill="rgb(83,83,83)" opacity="0.7"/>
<polygon points="119.8,86.3 124.4,85.5 124.6,80.7 123.6,79.7 119.2,81.0 118.9,85.5" fill="rgb(111,111,111)"/>
<polygon points="120.5,84.6 122.9,84.2 123.0,81.5 120.7,82.2" fill="rgb(92,92,92)" opacity="0.7"/>
<polygon points="126.9,81.5 126.7,86.1 128.8,88.3 131.8,86.8 131.8,81.8" fill="rgb(99,99,99)"/>
<polygon points="128.4,83.2 128.3,85.5 129.1,86.3 130.2,85.8 130.2,83.3" fill="rgb(76,76,76)" opacity="0.7"/>
<polygon points="137.7,79.5 135.7,79.8 134.1,81.3 134.1,86.8 136.4,88.0 140.2,85.8" fill="rgb(101,101,101)"/>
<polygon points="136.7,81.3 136.4,81.3 135.7,82.0 135.7,85.8 136.3,86.2 138.2,85.1" fill="rgb(72,72,72)" opacity="0.7"/>
<polygon points="140.0,79.0 142.5,85.4 145.5,86.3 148.4,85.3 149.3,82.4" fill="rgb(102,102,102)"/>
<polygon points="142.8,81.7 143.7,84.1 145.5,84.6 147.1,84.1 147.3,83.4" fill="rgb(82,82,82)" opacity="0.7"/>
<polygon points="2.4,88.4 -1.5,84.8 -11.6,92.7 -7.1,94.2 0.7,93.2" fill="rgb(115,115,115)"/>
<polygon points="0.6,88.9 -1.6,86.9 -8.3,92.1 -6.9,92.5 -0.5,91.7" fill="rgb(99,99,99)" opacity="0.7"/>
<polygon points="12.3,94.3 10.7,89.2 7.6,88.4 4.7,89.1 2.8,94.1 5.2,97.4 11.8,95.2" fill="rgb(98,98,98)"/>
<polygon points="10.5,93.9 9.5,90.6 7.5,90.1 5.9,90.4 4.6,93.9 5.8,95.5" fill="rgb(85,85,85)" opacity="0.7"/>
<polygon points="22.2,91.1 15.5,86.5 13.0,88.7 14.4,93.4 21.7,93.6" fill="rgb(114,114,114)"/>
<polygon points="20.4,91.8 15.6,88.5 14.8,89.2 15.6,91.8 20.4,92.0" fill="rgb(93,93,93)" opacity="0.7"/>
<polygon points="31.1,90.0 26.4,89.1 24.5,91.2 23.8,94.6 24.6,95.9 31.2,94.6" fill="rgb(101,101,101)"/>
<polygon points="25.5,94.1 29.6,93.3 29.6,91.3 27.0,90.8 26.0,91.9" fill="rgb(73,73,73)" opacity="0.7"/>
<polygon points="33.5,95.0 39.3,93.4 39.1,91.5 33.9,89.3 33.4,89.6" fill="rgb(113,113,113)"/>
<polygon points="35.1,91.5 35.1,92.9 37.0,92.4" fill="rgb(98,98,98)" opacity="0.7"/>
<polygon points="41.3,91.0 41.7,93.7 45.0,96.9 48.7,95.4 47.9,89.3 43.8,87.7" fill="rgb(93,93,93)"/>
<polygon points="43.0,91.5 43.2,92.9 45.3,95.0 46.9,94.4 46.4,90.5 44.4,89.7" fill="rgb(66,66,66)" opacity="0.7"/>
<polygon points="51.0,95.2 51.0,95.2 54.8,94.5 58.9,88.5 53.8,85.2 50.1,88.9" fill="rgb(114,114,114)"/>
<polygon points="52.3,93.4 53.8,93.1 56.7,89.0 54.0,87.3 51.8,89.5" fill="rgb(93,93,93)" opacity="0.7"/>
<polygon points="61.6,99.3 65.8,94.0 64.3,90.4 62.1,89.1 61.2,89.2 57.0,95.4" fill="rgb(108,108,108)"/>
<polygon points="61.4,97.0 63.9,93.7 63.0,91.5 62.0,90.9 59.1,95.1" fill="rgb(96,96,96)" opacity="0.7"/>
<polygon points="72.9,87.1 66.7,90.2 68.0,93.3 72.9,95.5 73.5,95.5 75.2,89.8" fill="rgb(102,102,102)"/>
<polygon points="72.4,93.5 73.4,90.2 72.5,89.1 68.7,91.0 69.2,92.1" fill="rgb(89,89,89)" opacity="0.7"/>
<polygon points="84.2,89.4 77.4,90.5 75.6,96.3 77.7,98.0 83.4,96.6" fill="rgb(93,93,93)"/>
<polygon points="82.4,91.3 78.6,92.0 77.5,95.7 78.1,96.2 81.9,95.3" fill="rgb(81,81,81)" opacity="0.7"/>
<polygon points="94.1,90.4 88.5,88.6 86.5,89.4 85.7,97.1 87.0,98.1 94.7,92.7" fill="rgb(103,103,103)"/>
<polygon points="87.4,95.8 92.9,92.1 92.8,91.6 88.6,90.3 88.0,90.5" fill="rgb(81,81,81)" opacity="0.7"/>
<polygon points="96.7,89.6 96.4,89.9 97.0,92.7 98.1,94.1 102.6,94.3 103.9,89.5" fill="rgb(101,101,101)"/>
<polygon points="98.3,91.2 98.5,92.0 98.9,92.5 101.4,92.6 101.8,91.1" fill="rgb(77,77,77)" opacity="0.7"/>
<polygon points="106.4,89.0 104.8,95.1 106.8,96.8 111.4,96.1 109.8,89.3 107.8,88.0" fill="rgb(92,92,92)"/>
<polygon points="107.8,90.0 106.6,94.5 107.3,95.1 109.4,94.8 108.4,90.3 107.8,89.9" fill="rgb(76,76,76)" opacity="0.7"/>
<polygon points="113.7,95.7 119.0,94.0 118.3,88.1 117.4,87.3 112.1,89.3" fill="rgb(94,94,94)"/>
<polygon points="114.8,93.6 117.2,92.9 116.8,89.2 114.0,90.3" fill="rgb(73,73,73)" opacity="0.7"/>
<polygon points="125.8,95.1 127.2,90.0 125.1,87.7 120.6,88.5 121.3,94.0 124.8,95.3" fill="rgb(110,110,110)"/>
<polygon points="124.6,93.5 125.4,90.4 124.5,89.5 122.4,89.8 122.7,92.8" fill="rgb(95,95,95)" opacity="0.7"/>
<polygon points="128.0,95.5 136.2,95.7 136.3,95.6 135.4,90.0 132.9,88.8 129.5,90.5" fill="rgb(113,113,113)"/>
<polygon points="130.1,93.9 134.4,94.0 134.0,91.1 132.9,90.6 130.8,91.6" fill="rgb(95,95,95)" opacity="0.7"/>
<polygon points="141.8,87.6 137.7,89.9 138.5,94.7 142.5,94.4 144.1,88.3" fill="rgb(95,95,95)"/>
<polygon points="142.0,89.3 139.5,90.7 139.8,93.0 141.3,92.9 142.2,89.4" fill="rgb(79,79,79)" opacity="0.7"/>
<polygon points="155.8,95.2 149.0,87.6 146.5,88.4 144.7,95.1 146.9,97.1" fill="rgb(109,109,109)"/>
<polygon points="152.8,94.2 148.5,89.4 147.8,89.7 146.5,94.5 147.4,95.3" fill="rgb(97,97,97)" opacity="0.7"/>
<polygon points="-0.6,105.1 -0.4,105.1 3.2,101.2 3.5,99.1 1.0,95.5 -5.4,96.3" fill="rgb(101,101,101)"/>
<polygon points="-0.2,102.5 1.7,100.5 1.8,99.5 0.2,97.2 -2.8,97.6" fill="rgb(84,84,84)" opacity="0.7"/>
<polygon points="14.4,105.4 11.9,97.6 5.7,99.7 5.5,101.1 13.8,106.1" fill="rgb(103,103,103)"/>
<polygon points="7.9,100.6 12.0,103.1 10.9,99.6" fill="rgb(84,84,84)" opacity="0.7"/>
<polygon points="21.9,95.9 14.2,95.6 13.9,96.2 16.4,104.2 22.5,102.4 22.8,97.5" fill="rgb(92,92,92)"/>
<polygon points="15.9,97.3 17.5,102.2 21.0,101.2 21.2,97.9 21.0,97.5" fill="rgb(78,78,78)" opacity="0.7"/>
<polygon points="32.2,96.9 32.1,96.8 25.1,98.2 24.8,102.8 25.0,103.0 33.7,103.9" fill="rgb(115,115,115)"/>
<polygon points="26.4,101.6 31.7,102.1 31.0,98.7 26.6,99.5" fill="rgb(93,93,93)" opacity="0.7"/>
<polygon points="34.6,97.1 36.1,103.7 36.7,103.8 42.9,99.5 43.3,98.5 40.3,95.5" fill="rgb(113,113,113)"/>
<polygon points="36.5,98.2 37.2,101.5 41.2,98.7 39.8,97.3" fill="rgb(84,84,84)" opacity="0.7"/>
<polygon points="45.6,99.1 45.1,100.2 49.4,107.8 52.4,105.0 50.0,97.3 50.0,97.3" fill="rgb(105,105,105)"/>
<polygon points="47.0,100.3 49.8,105.2 50.5,104.5 49.0,99.5" fill="rgb(77,77,77)" opacity="0.7"/>
<polygon points="52.4,97.3 54.5,104.3 60.4,104.7 61.0,104.0 60.7,101.5 55.1,96.8" fill="rgb(100,100,100)"/>
<polygon points="54.5,98.5 55.8,102.7 59.3,103.0 59.2,102.3 54.7,98.5" fill="rgb(83,83,83)" opacity="0.7"/>
<polygon points="63.0,101.2 63.3,103.3 66.8,103.9 71.0,97.2 67.4,95.6" fill="rgb(111,111,111)"/>
<polygon points="64.7,101.7 64.7,101.9 66.0,102.1 68.7,97.9 67.9,97.5" fill="rgb(94,94,94)" opacity="0.7"/>
<polygon points="68.9,104.9 69.7,105.5 76.1,102.0 76.2,99.7 73.9,97.8 73.3,97.8" fill="rgb(96,96,96)"/>
<polygon points="72.5,102.1 74.5,101.0 74.6,100.4 73.9,99.9" fill="rgb(76,76,76)" opacity="0.7"/>
<polygon points="87.5,103.8 87.6,103.7 86.0,100.3 84.2,98.8 78.5,100.2 78.3,102.5 79.4,105.0" fill="rgb(100,100,100)"/>
<polygon points="85.3,102.5 84.7,101.3 83.8,100.5 80.0,101.4 79.9,102.2 80.4,103.3" fill="rgb(71,71,71)" opacity="0.7"/>
<polygon points="95.8,101.5 96.4,95.6 95.8,94.8 88.4,99.9 89.7,102.7 92.7,103.1" fill="rgb(113,113,113)"/>
<polygon points="94.3,100.5 94.6,97.6 90.4,100.5 90.8,101.3 92.4,101.5" fill="rgb(88,88,88)" opacity="0.7"/>
<polygon points="98.1,101.5 102.5,103.5 105.1,98.3 103.0,96.6 98.6,96.4" fill="rgb(113,113,113)"/>
<polygon points="99.8,100.5 101.7,101.4 103.1,98.7 102.4,98.2 100.0,98.1" fill="rgb(97,97,97)" opacity="0.7"/>
<polygon points="104.5,104.6 113.0,103.4 112.0,98.3 107.2,99.1" fill="rgb(96,96,96)"/>
<polygon points="107.3,102.6 111.1,102.1 110.7,100.1 108.3,100.5" fill="rgb(78,78,78)" opacity="0.7"/>
<polygon points="120.7,104.5 123.3,97.2 120.2,96.0 114.3,97.9 115.4,103.2 119.5,105.5" fill="rgb(105,105,105)"/>
<polygon points="119.3,103.6 121.3,98.1 120.1,97.7 116.1,99.0 116.8,102.2" fill="rgb(93,93,93)" opacity="0.7"/>
<polygon points="123.2,104.2 129.3,104.9 126.7,97.4 126.5,97.3 125.6,97.5" fill="rgb(92,92,92)"/>
<polygon points="125.4,102.8 127.0,103.0 126.2,100.7" fill="rgb(76,76,76)" opacity="0.7"/>
<polygon points="131.9,105.2 136.5,104.9 135.7,98.0 129.3,97.8" fill="rgb(92,92,92)"/>
<polygon points="133.0,103.5 134.7,103.4 134.3,99.5 131.6,99.5" fill="rgb(76,76,76)" opacity="0.7"/>
<polygon points="145.3,98.7 143.0,96.6 138.1,97.1 137.9,97.2 138.8,104.6 143.7,103.5" fill="rgb(92,92,92)"/>
<polygon points="139.7,98.5 140.2,102.6 142.5,102.1 143.4,99.2 142.5,98.3" fill="rgb(75,75,75)" opacity="0.7"/>
<polygon points="196.2,112.1 157.9,97.1 147.5,99.3 145.9,104.0 147.1,105.0 171.3,110.8" fill="rgb(101,101,101)"/>
<polygon points="186.3,110.0 157.8,98.8 148.7,100.7 147.8,103.5 147.8,103.5 171.5,109.2" fill="rgb(80,80,80)" opacity="0.7"/>
<polygon points="-1.2,107.3 -8.1,109.5 -2.1,115.5 1.9,113.0 -0.8,107.4" fill="rgb(110,110,110)"/>
<polygon points="-1.8,109.2 -5.2,110.2 -1.9,113.5 -0.2,112.4" fill="rgb(93,93,93)" opacity="0.7"/>
<polygon points="12.1,111.2 12.8,108.1 4.5,103.2 1.3,106.6 4.2,112.6 4.8,112.8" fill="rgb(100,100,100)"/>
<polygon points="5.3,111.1 10.8,109.8 11.0,108.9 4.8,105.2 3.2,106.9" fill="rgb(73,73,73)" opacity="0.7"/>
<polygon points="23.3,104.6 16.3,106.7 15.1,108.1 14.5,111.0 24.1,113.3 23.4,104.7" fill="rgb(90,90,90)"/>
<polygon points="22.0,106.7 17.3,108.0 16.6,108.8 16.4,109.8 22.4,111.3" fill="rgb(69,69,69)" opacity="0.7"/>
<polygon points="25.8,105.4 26.4,113.2 30.7,114.1 33.0,106.2" fill="rgb(93,93,93)"/>
<polygon points="27.5,107.2 27.9,111.9 29.6,112.2 30.9,107.6" fill="rgb(81,81,81)" opacity="0.7"/>
<polygon points="35.5,106.0 33.1,114.1 41.8,114.0 41.9,113.7 36.4,106.1" fill="rgb(113,113,113)"/>
<polygon points="36.3,108.7 35.2,112.5 39.0,112.4" fill="rgb(90,90,90)" opacity="0.7"/>
<polygon points="43.5,101.9 38.7,105.2 43.4,111.9 47.5,109.0" fill="rgb(102,102,102)"/>
<polygon points="42.9,104.2 40.9,105.6 43.8,109.6 45.4,108.5" fill="rgb(76,76,76)" opacity="0.7"/>
<polygon points="51.1,109.4 54.5,112.9 59.5,110.7 59.7,106.9 54.1,106.5" fill="rgb(114,114,114)"/>
<polygon points="53.4,109.4 54.9,111.0 58.0,109.6 58.0,108.4 54.7,108.2" fill="rgb(92,92,92)" opacity="0.7"/>
<polygon points="62.7,105.6 62.0,106.3 61.8,111.0 64.3,113.9 70.7,113.5 68.6,107.6 66.9,106.2" fill="rgb(101,101,101)"/>
<polygon points="63.6,107.3 63.4,110.5 65.0,112.3 68.5,112.1 67.2,108.5 66.2,107.7" fill="rgb(89,89,89)" opacity="0.7"/>
<polygon points="77.2,111.0 77.6,106.5 76.6,104.3 70.9,107.4 72.8,112.6 76.1,112.2" fill="rgb(114,114,114)"/>
<polygon points="75.6,110.3 75.9,106.8 75.8,106.6 72.9,108.1 73.9,110.8 75.3,110.6" fill="rgb(89,89,89)" opacity="0.7"/>
<polygon points="85.7,110.4 86.7,106.3 79.8,107.3 79.5,110.4" fill="rgb(92,92,92)"/>
<polygon points="84.4,108.8 84.6,108.2 81.3,108.7 81.3,108.8" fill="rgb(72,72,72)" opacity="0.7"/>
<polygon points="95.2,113.3 92.1,105.4 89.5,105.0 89.3,105.3 87.8,111.3 89.0,113.2 94.9,113.5" fill="rgb(96,96,96)"/>
<polygon points="90.6,106.8 89.6,111.0 89.9,111.6 92.9,111.8 90.9,106.8" fill="rgb(67,67,67)" opacity="0.7"/>
<polygon points="102.2,111.0 102.2,106.2 102.1,105.9 96.9,103.5 94.3,104.8 97.4,112.5 100.8,112.3" fill="rgb(97,97,97)"/>
<polygon points="100.6,107.0 96.9,105.3 96.3,105.6 98.4,110.8 100.1,110.7 100.6,110.3" fill="rgb(83,83,83)" opacity="0.7"/>
<polygon points="109.0,111.6 111.7,105.9 104.5,106.9 104.5,110.6" fill="rgb(113,113,113)"/>
<polygon points="108.1,109.7 109.0,107.9 106.1,108.3 106.1,109.3" fill="rgb(96,96,96)" opacity="0.7"/>
<polygon points="111.0,112.7 111.9,113.6 119.0,110.2 118.6,107.6 114.5,105.4" fill="rgb(93,93,93)"/>
<polygon points="113.6,111.0 117.3,109.3 117.2,108.7 115.2,107.6" fill="rgb(80,80,80)" opacity="0.7"/>
<polygon points="123.9,113.1 127.0,113.0 129.6,107.2 122.0,106.4 120.9,107.4 121.4,110.4" fill="rgb(94,94,94)"/>
<polygon points="122.6,108.1 122.9,109.7 124.6,111.5 125.9,111.4 127.2,108.6" fill="rgb(75,75,75)" opacity="0.7"/>
<polygon points="132.0,107.5 129.5,113.1 137.5,114.6 138.0,113.8 136.8,107.2" fill="rgb(96,96,96)"/>
<polygon points="133.0,109.0 131.8,111.9 136.2,112.7 135.5,108.9" fill="rgb(72,72,72)" opacity="0.7"/>
<polygon points="144.1,112.8 145.3,106.5 144.3,105.7 139.1,106.8 140.1,112.9" fill="rgb(113,113,113)"/>
<polygon points="142.8,111.3 143.5,107.5 140.9,108.1 141.5,111.3" fill="rgb(99,99,99)" opacity="0.7"/>
<polygon points="147.1,113.7 164.6,111.5 147.5,107.4 146.3,113.4" fill="rgb(90,90,90)"/>
<polygon points="148.2,112.0 155.7,111.0 148.7,109.4" fill="rgb(65,65,65)" opacity="0.7"/>
<polygon points="3.6,114.8 3.5,114.8 -1.4,117.8 -2.6,119.9 0.1,124.0 4.4,120.6" fill="rgb(107,107,107)"/>
<polygon points="2.3,117.3 -0.3,118.9 -0.8,119.8 0.5,121.6 2.7,119.9" fill="rgb(80,80,80)" opacity="0.7"/>
<polygon points="12.1,113.5 6.0,114.9 6.7,120.5 10.1,122.8 13.9,120.6" fill="rgb(93,93,93)"/>
<polygon points="10.9,115.4 7.7,116.2 8.2,119.5 10.1,120.9 12.0,119.8" fill="rgb(69,69,69)" opacity="0.7"/>
<polygon points="14.4,113.3 16.2,120.4 18.5,121.6 21.4,119.3 23.0,115.4" fill="rgb(97,97,97)"/>
<polygon points="16.6,115.5 17.6,119.3 18.3,119.7 20.1,118.3 20.8,116.5" fill="rgb(82,82,82)" opacity="0.7"/>
<polygon points="25.5,115.4 23.8,119.6 28.7,122.2 30.8,120.6 30.3,116.4 25.6,115.4" fill="rgb(99,99,99)"/>
<polygon points="26.5,117.2 25.8,118.8 28.6,120.3 29.1,119.9 28.8,117.7" fill="rgb(72,72,72)" opacity="0.7"/>
<polygon points="32.6,116.5 33.1,120.4 37.4,123.1 42.4,118.8 41.8,116.3" fill="rgb(111,111,111)"/>
<polygon points="34.4,118.0 34.6,119.5 37.2,121.1 40.6,118.3 40.6,117.9" fill="rgb(84,84,84)" opacity="0.7"/>
<polygon points="49.1,110.7 44.1,114.2 43.9,115.1 44.7,118.5 47.5,120.1 52.4,119.2 53.0,114.7" fill="rgb(96,96,96)"/>
<polygon points="48.9,112.8 45.5,115.1 45.5,115.2 46.1,117.4 47.8,118.5 51.0,117.9 51.4,115.3" fill="rgb(76,76,76)" opacity="0.7"/>
<polygon points="56.8,121.3 60.8,119.5 62.5,115.3 60.3,112.8 55.3,115.1 54.7,119.7" fill="rgb(94,94,94)"/>
<polygon points="57.0,119.4 59.5,118.3 60.6,115.6 59.9,114.8 56.8,116.2 56.4,119.0" fill="rgb(79,79,79)" opacity="0.7"/>
<polygon points="70.1,121.5 70.1,115.9 64.6,116.2 63.1,120.0 66.2,122.4" fill="rgb(111,111,111)"/>
<polygon points="68.5,120.2 68.5,117.6 65.7,117.7 65.0,119.5 66.6,120.7" fill="rgb(98,98,98)" opacity="0.7"/>
<polygon points="72.4,121.4 79.6,119.8 76.1,114.5 72.6,114.9 72.4,115.1" fill="rgb(113,113,113)"/>
<polygon points="74.0,116.4 74.0,119.4 77.0,118.8 75.3,116.2" fill="rgb(84,84,84)" opacity="0.7"/>
<polygon points="86.0,112.7 78.8,112.7 78.1,113.4 82.4,119.8 82.4,119.8 84.6,119.5 87.0,114.4" fill="rgb(101,101,101)"/>
<polygon points="80.6,114.3 83.2,118.1 83.5,118.1 85.2,114.5 85.1,114.3" fill="rgb(79,79,79)" opacity="0.7"/>
<polygon points="86.8,120.3 88.8,122.2 93.7,119.3 94.0,115.8 89.0,115.5" fill="rgb(115,115,115)"/>
<polygon points="88.7,120.0 89.0,120.2 92.2,118.3 92.3,117.3 90.0,117.2" fill="rgb(91,91,91)" opacity="0.7"/>
<polygon points="100.4,114.6 97.0,114.9 96.4,115.3 96.0,119.6 98.5,122.7 101.9,120.4" fill="rgb(110,110,110)"/>
<polygon points="97.9,116.4 97.6,119.1 98.8,120.6 100.1,119.7 99.2,116.3" fill="rgb(85,85,85)" opacity="0.7"/>
<polygon points="109.0,114.0 103.7,112.7 102.6,113.8 104.2,120.1 107.1,121.6 111.2,119.7 110.6,115.5" fill="rgb(91,91,91)"/>
<polygon points="104.4,114.5 105.6,119.0 107.1,119.8 109.4,118.7 109.1,116.3 108.2,115.4" fill="rgb(65,65,65)" opacity="0.7"/>
<polygon points="120.7,117.8 122.1,114.5 120.0,112.3 113.0,115.6 113.5,119.6 115.8,121.0" fill="rgb(108,108,108)"/>
<polygon points="119.4,116.8 120.2,114.9 119.6,114.3 114.7,116.6 115.0,118.7 115.7,119.1" fill="rgb(90,90,90)" opacity="0.7"/>
<polygon points="124.9,120.9 129.2,122.4 126.8,115.3 124.2,115.4 122.9,118.4" fill="rgb(91,91,91)"/>
<polygon points="125.9,119.5 126.6,119.8 125.6,116.9 125.3,116.9 124.8,118.2" fill="rgb(73,73,73)" opacity="0.7"/>
<polygon points="129.2,115.4 131.4,121.8 136.9,118.1 136.9,116.8" fill="rgb(104,104,104)"/>
<polygon points="131.6,117.5 132.2,119.3 134.2,118.0" fill="rgb(86,86,86)" opacity="0.7"/>
<polygon points="139.2,118.3 141.3,120.9 144.9,120.9 145.6,115.6 144.8,115.1 139.8,115.2 139.2,116.2" fill="rgb(105,105,105)"/>
<polygon points="140.8,117.8 142.0,119.3 143.5,119.3 143.8,116.8 140.8,116.8" fill="rgb(86,86,86)" opacity="0.7"/>
<polygon points="147.2,121.1 164.0,122.0 199.8,114.6 171.1,113.1 147.9,115.9" fill="rgb(108,108,108)"/>
<polygon points="149.0,119.6 163.9,120.3 187.3,115.5 171.2,114.7 149.3,117.4" fill="rgb(80,80,80)" opacity="0.7"/>
<polygon points="5.6,122.5 0.9,126.2 0.8,129.3 4.6,130.2 7.9,129.6 8.8,124.7" fill="rgb(90,90,90)"/>
<polygon points="5.7,124.5 2.5,127.0 2.5,128.0 4.6,128.6 6.5,128.2 7.0,125.4" fill="rgb(67,67,67)" opacity="0.7"/>
<polygon points="15.2,122.5 11.1,124.9 10.1,130.0 12.1,131.3 18.5,126.9 17.6,123.7" fill="rgb(111,111,111)"/>
<polygon points="15.3,124.3 12.5,125.9 11.9,129.3 12.1,129.4 16.7,126.2 16.3,124.8" fill="rgb(99,99,99)" opacity="0.7"/>
<polygon points="22.5,121.4 19.9,123.4 20.9,126.7 24.3,129.1 26.1,128.0 27.4,124.1" fill="rgb(101,101,101)"/>
<polygon points="22.6,123.3 21.7,124.0 22.3,125.7 24.3,127.2 24.7,127.0 25.5,124.9" fill="rgb(75,75,75)" opacity="0.7"/>
<polygon points="32.1,122.5 29.8,124.3 28.5,128.0 33.8,129.4 36.4,127.4 36.3,125.2" fill="rgb(107,107,107)"/>
<polygon points="32.2,124.5 31.2,125.2 30.6,126.9 33.4,127.6 34.8,126.6 34.8,126.1" fill="rgb(89,89,89)" opacity="0.7"/>
<polygon points="38.6,125.0 38.7,127.3 43.4,130.8 46.1,127.7 46.1,122.0 43.9,120.6" fill="rgb(98,98,98)"/>
<polygon points="40.3,125.8 40.3,126.5 43.2,128.7 44.5,127.1 44.5,122.9 44.0,122.6" fill="rgb(86,86,86)" opacity="0.7"/>
<polygon points="55.9,127.2 55.5,123.2 53.2,121.4 48.4,122.3 48.4,127.2 54.4,128.9" fill="rgb(103,103,103)"/>
<polygon points="54.2,126.6 54.0,124.1 52.8,123.1 50.0,123.6 50.0,126.0 53.8,127.1" fill="rgb(77,77,77)" opacity="0.7"/>
<polygon points="64.6,124.1 61.5,121.7 57.8,123.3 58.1,126.7 63.3,128.9" fill="rgb(111,111,111)"/>
<polygon points="62.8,124.7 61.3,123.6 59.5,124.3 59.6,125.6 62.3,126.7" fill="rgb(87,87,87)" opacity="0.7"/>
<polygon points="70.7,123.7 66.9,124.6 65.4,130.3 65.5,130.5 71.8,129.6 72.7,129.0" fill="rgb(102,102,102)"/>
<polygon points="67.5,128.6 70.7,128.2 69.7,125.6 68.2,126.0" fill="rgb(86,86,86)" opacity="0.7"/>
<polygon points="73.2,123.6 74.9,128.4 77.9,128.8 80.4,122.0" fill="rgb(97,97,97)"/>
<polygon points="75.3,124.8 76.1,126.9 76.8,127.1 77.9,124.2" fill="rgb(82,82,82)" opacity="0.7"/>
<polygon points="88.5,127.5 87.6,124.3 85.0,121.8 82.9,122.0 80.2,129.2 85.3,130.5" fill="rgb(98,98,98)"/>
<polygon points="86.7,127.0 86.2,125.1 84.4,123.5 84.0,123.5 82.3,128.1 84.8,128.7" fill="rgb(86,86,86)" opacity="0.7"/>
<polygon points="96.7,126.3 97.1,124.6 94.5,121.5 89.9,124.2 90.7,126.9 94.1,127.9" fill="rgb(101,101,101)"/>
<polygon points="95.3,125.3 95.3,125.0 94.2,123.5 91.8,124.9 92.0,125.7 93.8,126.2" fill="rgb(75,75,75)" opacity="0.7"/>
<polygon points="105.9,123.5 103.3,122.2 99.4,125.0 99.0,126.4 103.7,129.1 105.5,128.0" fill="rgb(98,98,98)"/>
<polygon points="101.1,125.7 103.7,127.3 103.9,127.1 104.2,124.4 103.5,124.1" fill="rgb(71,71,71)" opacity="0.7"/>
<polygon points="115.8,127.0 114.8,123.1 112.3,121.6 108.2,123.6 107.8,128.0 112.1,130.1" fill="rgb(104,104,104)"/>
<polygon points="114.0,126.4 113.4,124.2 112.2,123.5 109.7,124.7 109.5,127.0 111.9,128.2" fill="rgb(78,78,78)" opacity="0.7"/>
<polygon points="118.0,126.6 120.9,128.0 122.9,122.1 121.4,120.1 117.1,122.9" fill="rgb(115,115,115)"/>
<polygon points="119.4,125.5 119.9,125.7 121.1,122.4 121.0,122.3 118.9,123.6" fill="rgb(102,102,102)" opacity="0.7"/>
<polygon points="122.9,129.2 123.2,129.6 129.0,129.6 129.5,128.8 129.5,124.9 124.9,123.3" fill="rgb(100,100,100)"/>
<polygon points="125.0,128.0 127.9,128.0 127.9,126.0 125.9,125.4" fill="rgb(86,86,86)" opacity="0.7"/>
<polygon points="131.7,124.3 131.8,128.0 138.4,127.8 139.5,122.4 137.8,120.3" fill="rgb(93,93,93)"/>
<polygon points="133.4,125.2 133.4,126.3 137.1,126.2 137.8,122.8 137.5,122.4" fill="rgb(69,69,69)" opacity="0.7"/>
<polygon points="140.7,127.8 145.1,128.4 144.9,123.2 141.7,123.2" fill="rgb(90,90,90)"/>
<polygon points="142.6,126.5 143.4,126.6 143.4,124.8 143.0,124.8" fill="rgb(68,68,68)" opacity="0.7"/>
<polygon points="147.2,123.4 147.5,129.2 147.6,129.2 159.2,124.0" fill="rgb(113,113,113)"/>
<polygon points="149.0,126.9 152.5,125.3 148.9,125.1" fill="rgb(94,94,94)" opacity="0.7"/>
<polygon points="1.8,140.8 3.9,139.1 3.5,132.3 -0.2,131.4 -0.6,131.7 -2.5,137.9" fill="rgb(107,107,107)"/>
<polygon points="0.6,133.2 -0.6,137.2 1.7,138.8 2.3,138.4 1.9,133.6" fill="rgb(93,93,93)" opacity="0.7"/>
<polygon points="11.7,139.0 12.7,138.0 11.1,133.4 8.6,131.8 5.8,132.3 6.2,138.5" fill="rgb(109,109,109)"/>
<polygon points="10.7,137.3 9.8,134.5 8.3,133.5 7.5,133.6 7.7,137.0" fill="rgb(84,84,84)" opacity="0.7"/>
<polygon points="14.9,137.3 19.7,138.5 22.9,136.0 23.0,131.1 19.9,128.8 13.4,133.2" fill="rgb(105,105,105)"/>
<polygon points="16.1,136.0 19.3,136.7 21.3,135.2 21.4,131.9 19.8,130.7 15.3,133.8" fill="rgb(77,77,77)" opacity="0.7"/>
<polygon points="31.1,138.3 32.5,136.7 32.8,131.5 27.2,130.0 25.3,131.2 25.2,135.8" fill="rgb(104,104,104)"/>
<polygon points="30.7,136.4 31.0,136.1 31.2,132.7 27.4,131.8 26.9,132.1 26.9,134.7" fill="rgb(82,82,82)" opacity="0.7"/>
<polygon points="34.9,136.0 40.3,135.7 42.6,133.6 42.6,133.0 37.6,129.4 35.2,131.2" fill="rgb(90,90,90)"/>
<polygon points="36.6,134.3 39.7,134.1 40.4,133.4 37.6,131.4 36.7,132.0" fill="rgb(64,64,64)" opacity="0.7"/>
<polygon points="44.9,133.4 50.0,137.3 53.0,135.9 53.5,131.0 47.7,129.4 44.8,132.7" fill="rgb(98,98,98)"/>
<polygon points="46.8,132.9 50.2,135.4 51.5,134.8 51.8,132.2 48.2,131.2" fill="rgb(74,74,74)" opacity="0.7"/>
<polygon points="63.4,131.4 57.4,128.9 55.9,130.7 55.3,135.9 59.0,137.4 62.7,135.7 63.7,131.9" fill="rgb(102,102,102)"/>
<polygon points="61.9,132.5 57.8,130.8 57.4,131.3 57.0,134.9 58.9,135.7 61.4,134.5" fill="rgb(88,88,88)" opacity="0.7"/>
<polygon points="71.1,132.0 65.9,132.7 65.0,136.1 69.0,139.5 70.9,138.5" fill="rgb(102,102,102)"/>
<polygon points="69.4,133.9 67.1,134.2 66.8,135.5 69.2,137.6 69.3,137.5" fill="rgb(74,74,74)" opacity="0.7"/>
<polygon points="73.4,131.3 73.2,138.2 77.1,138.8 77.1,131.1 74.4,130.6" fill="rgb(107,107,107)"/>
<polygon points="75.0,132.3 74.9,136.9 75.5,137.0 75.5,132.4" fill="rgb(93,93,93)" opacity="0.7"/>
<polygon points="79.4,131.3 79.4,138.0 85.4,135.8 84.6,132.7" fill="rgb(104,104,104)"/>
<polygon points="81.0,133.4 81.0,135.7 83.5,134.8 83.3,134.0" fill="rgb(76,76,76)" opacity="0.7"/>
<polygon points="94.6,136.8 93.3,130.1 90.1,129.1 86.9,132.2 87.8,136.0 89.1,137.4 93.3,137.8" fill="rgb(90,90,90)"/>
<polygon points="92.8,136.1 91.9,131.3 90.5,130.9 88.6,132.7 89.2,135.2 89.9,135.9 92.8,136.1" fill="rgb(78,78,78)" opacity="0.7"/>
<polygon points="102.5,131.1 97.7,128.3 95.5,129.7 96.8,136.2 101.0,136.6 101.5,136.4" fill="rgb(111,111,111)"/>
<polygon points="100.1,134.9 100.7,131.9 97.8,130.2 97.3,130.5 98.2,134.7" fill="rgb(89,89,89)" opacity="0.7"/>
<polygon points="111.2,132.2 106.6,130.0 104.8,131.2 103.8,136.5 106.3,137.6 111.2,134.6" fill="rgb(109,109,109)"/>
<polygon points="109.6,133.2 106.7,131.8 106.2,132.2 105.6,135.5 106.2,135.8 109.6,133.7" fill="rgb(92,92,92)" opacity="0.7"/>
<polygon points="117.2,128.8 113.5,132.0 113.5,134.7 116.8,137.4 119.0,137.0 121.4,131.0 120.9,130.6" fill="rgb(104,104,104)"/>
<polygon points="117.5,130.7 115.1,132.7 115.1,133.9 117.2,135.7 117.8,135.6 119.4,131.6" fill="rgb(90,90,90)" opacity="0.7"/>
<polygon points="123.6,131.9 121.2,137.7 124.3,140.6 129.7,135.7 128.7,131.9" fill="rgb(93,93,93)"/>
<polygon points="124.6,133.5 123.1,137.3 124.3,138.4 127.9,135.2 127.4,133.5" fill="rgb(72,72,72)" opacity="0.7"/>
<polygon points="131.3,130.3 130.8,131.0 132.0,135.4 134.5,137.4 139.1,136.7 138.2,130.1" fill="rgb(112,112,112)"/>
<polygon points="132.7,131.9 133.4,134.5 135.0,135.7 137.3,135.3 136.8,131.7" fill="rgb(91,91,91)" opacity="0.7"/>
<polygon points="140.5,130.1 141.4,136.9 143.1,137.6 146.1,136.0 146.2,131.1 145.9,130.9" fill="rgb(90,90,90)"/>
<polygon points="142.4,132.0 142.9,135.8 143.0,135.8 144.5,135.0 144.6,132.3" fill="rgb(78,78,78)" opacity="0.7"/>
<polygon points="0.8,142.9 -3.9,139.7 -8.9,142.2 -2.3,147.8 1.2,145.4" fill="rgb(109,109,109)"/>
<polygon points="-0.7,143.8 -4.0,141.6 -6.0,142.6 -2.2,145.8 -0.5,144.6" fill="rgb(91,91,91)" opacity="0.7"/>
<polygon points="3.1,142.7 3.5,145.2 8.2,148.0 9.2,147.1 10.7,141.2 5.5,140.8" fill="rgb(95,95,95)"/>
<polygon points="4.8,143.3 5.0,144.2 7.8,146.0 8.7,142.6 6.0,142.4" fill="rgb(79,79,79)" opacity="0.7"/>
<polygon points="13.1,140.7 11.7,146.7 18.6,147.5 19.8,145.9 18.9,140.6 14.3,139.6" fill="rgb(113,113,113)"/>
<polygon points="14.6,141.6 13.7,145.3 17.9,145.8 18.1,145.5 17.5,142.0 14.8,141.3" fill="rgb(93,93,93)" opacity="0.7"/>
<polygon points="30.4,140.5 24.2,137.9 21.2,140.2 22.0,145.2 27.9,146.7 30.9,142.5" fill="rgb(93,93,93)"/>
<polygon points="29.1,141.7 24.5,139.7 22.9,140.9 23.4,143.9 27.3,144.9 29.2,142.2" fill="rgb(78,78,78)" opacity="0.7"/>
<polygon points="32.7,140.0 33.2,141.9 36.7,143.7 39.4,143.5 39.6,138.0 34.2,138.3" fill="rgb(91,91,91)"/>
<polygon points="34.4,140.4 34.5,140.8 37.0,142.0 37.9,142.0 37.9,139.7 34.9,139.9" fill="rgb(62,62,62)" opacity="0.7"/>
<polygon points="41.7,143.9 45.4,145.9 47.3,144.9 48.6,139.1 43.9,135.5 41.9,137.3" fill="rgb(101,101,101)"/>
<polygon points="43.3,142.9 45.4,144.1 45.9,143.8 46.8,139.7 44.0,137.6 43.5,138.1" fill="rgb(81,81,81)" opacity="0.7"/>
<polygon points="49.7,145.0 53.7,147.1 58.4,146.0 57.9,139.5 54.1,137.9 50.9,139.4" fill="rgb(91,91,91)"/>
<polygon points="51.5,144.2 53.9,145.5 56.7,144.8 56.4,140.6 54.1,139.6 52.3,140.5" fill="rgb(75,75,75)" opacity="0.7"/>
<polygon points="61.8,146.9 67.2,145.3 67.6,141.4 63.5,137.8 60.2,139.4 60.7,146.3" fill="rgb(111,111,111)"/>
<polygon points="62.2,145.1 65.7,144.1 66.0,142.1 63.3,139.7 61.9,140.4" fill="rgb(84,84,84)" opacity="0.7"/>
<polygon points="77.1,141.1 72.2,140.4 69.9,141.7 69.5,145.7 70.7,146.7 78.1,144.3" fill="rgb(101,101,101)"/>
<polygon points="71.2,144.8 76.1,143.3 75.9,142.6 72.5,142.1 71.4,142.7" fill="rgb(84,84,84)" opacity="0.7"/>
<polygon points="79.3,140.5 80.5,144.4 81.3,145.0 84.1,144.6 87.2,138.7 86.4,137.9" fill="rgb(114,114,114)"/>
<polygon points="81.3,141.5 81.9,143.3 83.0,143.2 84.6,140.2" fill="rgb(97,97,97)" opacity="0.7"/>
<polygon points="92.5,140.0 89.2,139.7 86.3,145.3 89.7,147.7 92.9,144.4" fill="rgb(97,97,97)"/>
<polygon points="91.1,141.5 90.1,141.4 88.4,144.8 89.5,145.6 91.3,143.8" fill="rgb(83,83,83)" opacity="0.7"/>
<polygon points="96.2,138.4 94.8,139.5 95.2,144.1 99.4,146.1 99.9,138.8" fill="rgb(102,102,102)"/>
<polygon points="96.7,140.1 96.5,140.3 96.7,143.0 98.0,143.6 98.2,140.2" fill="rgb(75,75,75)" opacity="0.7"/>
<polygon points="101.7,146.6 107.8,145.9 107.9,145.8 105.5,139.7 102.5,138.4 102.2,138.5" fill="rgb(103,103,103)"/>
<polygon points="103.7,140.7 103.4,144.8 105.7,144.5 104.2,140.9" fill="rgb(77,77,77)" opacity="0.7"/>
<polygon points="110.0,144.9 112.8,144.8 115.1,139.0 112.2,136.6 107.8,139.3" fill="rgb(98,98,98)"/>
<polygon points="111.1,143.3 111.7,143.2 113.2,139.5 112.1,138.6 109.8,140.0" fill="rgb(74,74,74)" opacity="0.7"/>
<polygon points="115.0,145.6 117.2,147.4 123.3,144.2 123.2,142.7 119.5,139.2 117.3,139.6" fill="rgb(94,94,94)"/>
<polygon points="116.9,145.1 117.4,145.5 121.5,143.3 119.0,140.9 118.5,141.0" fill="rgb(74,74,74)" opacity="0.7"/>
<polygon points="125.7,144.2 132.6,145.7 133.0,139.2 131.1,137.6 125.5,142.6" fill="rgb(98,98,98)"/>
<polygon points="127.5,143.0 131.1,143.8 131.4,139.9 131.1,139.7" fill="rgb(81,81,81)" opacity="0.7"/>
<polygon points="140.2,138.8 135.3,139.6 134.8,146.0 137.5,146.5 142.1,143.7 142.0,139.7" fill="rgb(109,109,109)"/>
<polygon points="140.0,140.5 136.8,141.0 136.5,144.7 137.2,144.8 140.4,142.8 140.4,140.7" fill="rgb(94,94,94)" opacity="0.7"/>
<polygon points="144.4,143.8 147.9,146.7 150.9,144.8 150.5,139.2 147.3,138.0 144.3,139.6" fill="rgb(103,103,103)"/>
<polygon points="145.9,143.0 148.0,144.7 149.2,144.0 149.0,140.3 147.4,139.7 145.9,140.5" fill="rgb(85,85,85)" opacity="0.7"/>
<polygon points="35.3,145.5 32.6,144.2 29.7,148.2 33.6,164.9" fill="rgb(113,113,113)"/>
<polygon points="33.6,146.5 33.1,146.2 31.4,148.6 32.9,154.9" fill="rgb(97,97,97)" opacity="0.7"/>
</g>
</g>
<rect x="83.5" y="27" width="59.5" height="55" fill="#9a9a9a"/>
<filter id="nz2" color-interpolation-filters="sRGB" x="0" y="0" width="1" height="1" filterUnits="objectBoundingBox"><feTurbulence type="fractalNoise" baseFrequency="0.22 0.32" numOctaves="3" seed="9"/><feColorMatrix type="matrix" values="0.95 0 0 0 0.08  0.95 0 0 0 0.08  0.95 0 0 0 0.08  0 0 0 0 1"/></filter>
<rect x="83.5" y="27" width="59.5" height="55" filter="url(#nz2)"/>
<rect x="83.5" y="27" width="59.5" height="55" fill="none" stroke="#f2f2f2" stroke-width="0.9"/>
<rect x="17" y="46.5" width="11.3" height="9.8" fill="none" stroke="#f2f2f2" stroke-width="0.9"/>
<line x1="28.3" y1="46.5" x2="83.5" y2="27" stroke="#f2f2f2" stroke-width="0.9"/>
<line x1="28.3" y1="56.3" x2="83.5" y2="82" stroke="#f2f2f2" stroke-width="0.9"/>
<text x="7.5" y="18.8" font-size="13" fill="#000" font-weight="normal" text-anchor="start" style='font-family:"Liberation Serif",serif'  textLength="16.5" lengthAdjust="spacingAndGlyphs">(a)</text>
<text x="31.5" y="21.3" font-size="15" fill="#fff" font-weight="bold" text-anchor="start" style='font-family:"Liberation Serif",serif'  textLength="76.5" lengthAdjust="spacingAndGlyphs">AgCu foam</text>
<text x="10.2" y="99.7" font-size="15" fill="#fff" font-weight="bold" text-anchor="start" style='font-family:"Liberation Serif",serif' >CO<tspan font-size="9.5" dy="1.5">2</tspan></text>
<text x="108" y="99.7" font-size="15" fill="#fff" font-weight="bold" text-anchor="start" style='font-family:"Liberation Serif",serif'  textLength="23.5" lengthAdjust="spacingAndGlyphs">CO</text>
<polygon points="22.0,108.2 22.5,109.2 23.2,110.3 23.8,111.3 24.5,112.2 25.3,113.1 26.1,114.0 26.9,114.8 27.7,115.6 28.6,116.4 29.6,117.1 30.5,117.8 31.5,118.5 32.5,119.1 33.5,119.7 34.6,120.3 35.7,120.9 36.8,121.4 37.9,121.9 39.1,122.4 40.3,122.8 41.5,123.3 42.7,123.7 44.0,124.1 45.3,124.4 46.6,124.8 47.9,125.1 49.2,125.4 50.6,125.7 52.0,125.9 53.3,126.2 54.8,126.4 56.2,126.6 57.6,126.8 59.1,126.9 60.5,127.1 62.0,127.2 63.5,127.3 65.0,127.4 66.5,127.5 68.0,127.5 68.0,127.5 69.6,127.5 71.3,127.5 72.9,127.5 74.5,127.4 76.0,127.4 77.6,127.3 79.1,127.1 80.6,127.0 82.1,126.8 83.5,126.6 85.0,126.4 86.4,126.2 87.8,125.9 89.1,125.6 90.5,125.3 91.8,125.0 93.1,124.6 94.4,124.3 95.7,123.9 96.9,123.5 98.1,123.0 99.3,122.6 100.5,122.1 101.7,121.6 102.8,121.1 103.9,120.6 105.0,120.0 106.1,119.4 107.2,118.9 108.2,118.2 109.2,117.6 110.2,117.0 111.2,116.3 112.2,115.6 113.1,114.9 114.0,114.2 114.9,113.4 115.8,112.7 116.7,111.9 117.5,111.1 112.5,106.9 111.9,107.8 111.4,108.6 110.8,109.4 110.1,110.2 109.5,111.0 108.8,111.7 108.1,112.5 107.3,113.2 106.5,113.9 105.7,114.6 104.8,115.3 103.9,116.0 103.0,116.7 102.1,117.3 101.1,117.9 100.1,118.5 99.1,119.1 98.0,119.6 96.9,120.2 95.8,120.7 94.7,121.1 93.5,121.6 92.3,122.0 91.1,122.5 89.8,122.9 88.6,123.2 87.3,123.6 85.9,123.9 84.6,124.2 83.2,124.4 81.8,124.7 80.3,124.9 78.9,125.0 77.4,125.2 75.9,125.3 74.4,125.4 72.8,125.5 71.2,125.5 69.6,125.5 68.0,125.5 68.0,125.5 66.5,125.5 65.1,125.4 63.6,125.3 62.2,125.2 60.7,125.0 59.3,124.9 57.9,124.7 56.5,124.5 55.1,124.2 53.7,124.0 52.4,123.7 51.1,123.4 49.8,123.1 48.5,122.7 47.3,122.3 46.1,121.9 44.9,121.5 43.7,121.0 42.6,120.6 41.5,120.1 40.4,119.5 39.3,119.0 38.4,118.4 37.4,117.8 36.5,117.2 35.6,116.6 34.7,115.9 33.9,115.2 33.2,114.5 32.5,113.8 31.8,113.1 31.2,112.3 30.6,111.6 30.1,110.8 29.6,110.0 29.2,109.2 28.9,108.4 28.5,107.5 28.3,106.7 28.0,105.8" fill="#1e6ec0"/>
<text x="20.7" y="138" font-size="12.8" fill="#fff" font-weight="bold" text-anchor="start" style='font-family:"Liberation Serif",serif'  textLength="107" lengthAdjust="spacingAndGlyphs">Low overpotentials</text>
<rect x="143.8" y="61" width="1.8" height="34" fill="#2f7fd0"/>
<rect x="262" y="5.5" width="68" height="113.7" fill="#ebebeb"/>
<line x1="207.6" y1="9" x2="207.6" y2="119.2" stroke="#333" stroke-width="0.8"/>
<line x1="207.6" y1="119.2" x2="346" y2="119.2" stroke="#333" stroke-width="0.8"/>
<line x1="207.6" y1="119.2" x2="210.6" y2="119.2" stroke="#333" stroke-width="0.7"/>
<text x="204.6" y="122.2" font-size="8" fill="#111" font-weight="bold" text-anchor="end" style='font-family:"Liberation Serif",serif' >0</text>
<line x1="207.6" y1="110.5" x2="209.4" y2="110.5" stroke="#333" stroke-width="0.7"/>
<line x1="207.6" y1="101.9" x2="210.6" y2="101.9" stroke="#333" stroke-width="0.7"/>
<text x="204.6" y="104.9" font-size="8" fill="#111" font-weight="bold" text-anchor="end" style='font-family:"Liberation Serif",serif' >10</text>
<line x1="207.6" y1="93.2" x2="209.4" y2="93.2" stroke="#333" stroke-width="0.7"/>
<line x1="207.6" y1="84.6" x2="210.6" y2="84.6" stroke="#333" stroke-width="0.7"/>
<text x="204.6" y="87.6" font-size="8" fill="#111" font-weight="bold" text-anchor="end" style='font-family:"Liberation Serif",serif' >20</text>
<line x1="207.6" y1="76.0" x2="209.4" y2="76.0" stroke="#333" stroke-width="0.7"/>
<line x1="207.6" y1="67.3" x2="210.6" y2="67.3" stroke="#333" stroke-width="0.7"/>
<text x="204.6" y="70.30000000000001" font-size="8" fill="#111" font-weight="bold" text-anchor="end" style='font-family:"Liberation Serif",serif' >30</text>
<line x1="207.6" y1="58.7" x2="209.4" y2="58.7" stroke="#333" stroke-width="0.7"/>
<line x1="207.6" y1="50.0" x2="210.6" y2="50.0" stroke="#333" stroke-width="0.7"/>
<text x="204.6" y="53.0" font-size="8" fill="#111" font-weight="bold" text-anchor="end" style='font-family:"Liberation Serif",serif' >40</text>
<line x1="207.6" y1="41.4" x2="209.4" y2="41.4" stroke="#333" stroke-width="0.7"/>
<line x1="207.6" y1="32.7" x2="210.6" y2="32.7" stroke="#333" stroke-width="0.7"/>
<text x="204.6" y="35.7" font-size="8" fill="#111" font-weight="bold" text-anchor="end" style='font-family:"Liberation Serif",serif' >50</text>
<line x1="207.6" y1="24.0" x2="209.4" y2="24.0" stroke="#333" stroke-width="0.7"/>
<line x1="207.6" y1="15.4" x2="210.6" y2="15.4" stroke="#333" stroke-width="0.7"/>
<text x="204.6" y="18.400000000000006" font-size="8" fill="#111" font-weight="bold" text-anchor="end" style='font-family:"Liberation Serif",serif' >60</text>
<line x1="218.6" y1="119.2" x2="218.6" y2="116.2" stroke="#333" stroke-width="0.7"/>
<text x="218.6" y="130.7" font-size="7.6" fill="#111" font-weight="bold" text-anchor="middle" style='font-family:"Liberation Serif",serif' >−0.8</text>
<line x1="226.2" y1="119.2" x2="226.2" y2="117.4" stroke="#333" stroke-width="0.7"/>
<line x1="233.9" y1="119.2" x2="233.9" y2="116.2" stroke="#333" stroke-width="0.7"/>
<text x="233.89999999999998" y="130.7" font-size="7.6" fill="#111" font-weight="bold" text-anchor="middle" style='font-family:"Liberation Serif",serif' >−0.7</text>
<line x1="241.6" y1="119.2" x2="241.6" y2="117.4" stroke="#333" stroke-width="0.7"/>
<line x1="249.2" y1="119.2" x2="249.2" y2="116.2" stroke="#333" stroke-width="0.7"/>
<text x="249.2" y="130.7" font-size="7.6" fill="#111" font-weight="bold" text-anchor="middle" style='font-family:"Liberation Serif",serif' >−0.6</text>
<line x1="256.9" y1="119.2" x2="256.9" y2="117.4" stroke="#333" stroke-width="0.7"/>
<line x1="264.5" y1="119.2" x2="264.5" y2="116.2" stroke="#333" stroke-width="0.7"/>
<text x="264.5" y="130.7" font-size="7.6" fill="#111" font-weight="bold" text-anchor="middle" style='font-family:"Liberation Serif",serif' >−0.5</text>
<line x1="272.1" y1="119.2" x2="272.1" y2="117.4" stroke="#333" stroke-width="0.7"/>
<line x1="279.8" y1="119.2" x2="279.8" y2="116.2" stroke="#333" stroke-width="0.7"/>
<text x="279.8" y="130.7" font-size="7.6" fill="#111" font-weight="bold" text-anchor="middle" style='font-family:"Liberation Serif",serif' >−0.4</text>
<line x1="287.4" y1="119.2" x2="287.4" y2="117.4" stroke="#333" stroke-width="0.7"/>
<line x1="295.1" y1="119.2" x2="295.1" y2="116.2" stroke="#333" stroke-width="0.7"/>
<text x="295.1" y="130.7" font-size="7.6" fill="#111" font-weight="bold" text-anchor="middle" style='font-family:"Liberation Serif",serif' >−0.3</text>
<line x1="302.8" y1="119.2" x2="302.8" y2="117.4" stroke="#333" stroke-width="0.7"/>
<line x1="310.4" y1="119.2" x2="310.4" y2="116.2" stroke="#333" stroke-width="0.7"/>
<text x="310.4" y="130.7" font-size="7.6" fill="#111" font-weight="bold" text-anchor="middle" style='font-family:"Liberation Serif",serif' >−0.2</text>
<line x1="318.1" y1="119.2" x2="318.1" y2="117.4" stroke="#333" stroke-width="0.7"/>
<line x1="325.7" y1="119.2" x2="325.7" y2="116.2" stroke="#333" stroke-width="0.7"/>
<text x="325.7" y="130.7" font-size="7.6" fill="#111" font-weight="bold" text-anchor="middle" style='font-family:"Liberation Serif",serif' >−0.1</text>
<line x1="333.3" y1="119.2" x2="333.3" y2="117.4" stroke="#333" stroke-width="0.7"/>
<line x1="341.0" y1="119.2" x2="341.0" y2="116.2" stroke="#333" stroke-width="0.7"/>
<text x="341.0" y="130.7" font-size="7.6" fill="#111" font-weight="bold" text-anchor="middle" style='font-family:"Liberation Serif",serif' >0.0</text>
<text x="275.8" y="140.8" font-size="8" fill="#111" font-weight="bold" text-anchor="middle" style='font-family:"Liberation Serif",serif'  textLength="64.5" lengthAdjust="spacingAndGlyphs">Potential / V vs RHE</text>
<text x="0" y="0" font-size="7.8" fill="#111" font-weight="bold" text-anchor="middle" style='font-family:"Liberation Serif",serif' transform="translate(193,64) rotate(-90)" textLength="115" lengthAdjust="spacingAndGlyphs">Raman CO adsorption band area / a.u</text>
<polyline points="218.6,79.4 233.9,70.8 249.2,104.5 264.5,105.9 279.8,105.4 295.1,105.7 310.4,99.8 325.7,102.8 341.0,111.4" fill="none" stroke="#222" stroke-width="1.1"/>
<circle cx="218.6" cy="79.4" r="1.5" fill="#222"/>
<circle cx="233.9" cy="70.8" r="1.5" fill="#222"/>
<circle cx="249.2" cy="104.5" r="1.5" fill="#222"/>
<circle cx="264.5" cy="105.9" r="1.5" fill="#222"/>
<circle cx="279.8" cy="105.4" r="1.5" fill="#222"/>
<circle cx="295.1" cy="105.7" r="1.5" fill="#222"/>
<circle cx="310.4" cy="99.8" r="1.5" fill="#222"/>
<circle cx="325.7" cy="102.8" r="1.5" fill="#222"/>
<circle cx="341.0" cy="111.4" r="1.5" fill="#222"/>
<polyline points="218.6,103.6 233.9,96.7 249.2,79.4 264.5,51.7 279.8,22.3 295.1,18.0 310.4,22.3 325.7,68.2 341.0,116.6" fill="none" stroke="#2424f0" stroke-width="1.1"/>
<circle cx="218.6" cy="103.6" r="1.5" fill="#2424f0"/>
<circle cx="233.9" cy="96.7" r="1.5" fill="#2424f0"/>
<circle cx="249.2" cy="79.4" r="1.5" fill="#2424f0"/>
<circle cx="264.5" cy="51.7" r="1.5" fill="#2424f0"/>
<circle cx="279.8" cy="22.3" r="1.5" fill="#2424f0"/>
<circle cx="295.1" cy="18.0" r="1.5" fill="#2424f0"/>
<circle cx="310.4" cy="22.3" r="1.5" fill="#2424f0"/>
<circle cx="325.7" cy="68.2" r="1.5" fill="#2424f0"/>
<circle cx="341.0" cy="116.6" r="1.5" fill="#2424f0"/>
<line x1="209" y1="16" x2="225" y2="16" stroke="#2424f0" stroke-width="1.1"/><circle cx="217" cy="16" r="1.4" fill="#2424f0"/>
<line x1="209" y1="25.5" x2="225" y2="25.5" stroke="#222" stroke-width="1.1"/><circle cx="217" cy="25.5" r="1.4" fill="#222"/>
<text x="227" y="19.5" font-size="9" fill="#111" font-weight="bold" text-anchor="start" style='font-family:"Liberation Serif",serif'  textLength="39" lengthAdjust="spacingAndGlyphs">AgCu foam</text>
<text x="227" y="29" font-size="9" fill="#111" font-weight="bold" text-anchor="start" style='font-family:"Liberation Serif",serif'  textLength="29.4" lengthAdjust="spacingAndGlyphs">Cu foam</text>
<rect x="262" y="11" width="8" height="11" fill="#ebebeb" opacity="0.85"/>
<text x="268.2" y="52.5" font-size="9.6" fill="#111" font-weight="bold" text-anchor="start" style='font-family:"Liberation Serif",serif'  textLength="51" lengthAdjust="spacingAndGlyphs">Adsorbed CO</text>
<text x="167" y="19" font-size="14" fill="#000" font-weight="normal" text-anchor="start" style='font-family:"Liberation Serif",serif' >(b)</text>
<line x1="414.0" y1="5.5" x2="414.0" y2="117.4" stroke="#333" stroke-width="0.8"/>
<line x1="414.0" y1="117.4" x2="546" y2="117.4" stroke="#333" stroke-width="0.8"/>
<line x1="414.0" y1="117.4" x2="417.0" y2="117.4" stroke="#333" stroke-width="0.7"/>
<text x="411.0" y="120.60000000000001" font-size="9" fill="#111" font-weight="bold" text-anchor="end" style='font-family:"Liberation Serif",serif' >0</text>
<line x1="414.0" y1="110.0" x2="415.8" y2="110.0" stroke="#333" stroke-width="0.7"/>
<line x1="414.0" y1="102.5" x2="417.0" y2="102.5" stroke="#333" stroke-width="0.7"/>
<text x="411.0" y="105.7" font-size="9" fill="#111" font-weight="bold" text-anchor="end" style='font-family:"Liberation Serif",serif' >20</text>
<line x1="414.0" y1="95.1" x2="415.8" y2="95.1" stroke="#333" stroke-width="0.7"/>
<line x1="414.0" y1="87.6" x2="417.0" y2="87.6" stroke="#333" stroke-width="0.7"/>
<text x="411.0" y="90.80000000000001" font-size="9" fill="#111" font-weight="bold" text-anchor="end" style='font-family:"Liberation Serif",serif' >40</text>
<line x1="414.0" y1="80.2" x2="415.8" y2="80.2" stroke="#333" stroke-width="0.7"/>
<line x1="414.0" y1="72.7" x2="417.0" y2="72.7" stroke="#333" stroke-width="0.7"/>
<text x="411.0" y="75.9" font-size="9" fill="#111" font-weight="bold" text-anchor="end" style='font-family:"Liberation Serif",serif' >60</text>
<line x1="414.0" y1="65.2" x2="415.8" y2="65.2" stroke="#333" stroke-width="0.7"/>
<line x1="414.0" y1="57.8" x2="417.0" y2="57.8" stroke="#333" stroke-width="0.7"/>
<text x="411.0" y="61.00000000000001" font-size="9" fill="#111" font-weight="bold" text-anchor="end" style='font-family:"Liberation Serif",serif' >80</text>
<line x1="414.0" y1="50.4" x2="415.8" y2="50.4" stroke="#333" stroke-width="0.7"/>
<line x1="414.0" y1="42.9" x2="417.0" y2="42.9" stroke="#333" stroke-width="0.7"/>
<text x="411.0" y="46.10000000000001" font-size="9" fill="#111" font-weight="bold" text-anchor="end" style='font-family:"Liberation Serif",serif' >100</text>
<line x1="414.0" y1="35.5" x2="415.8" y2="35.5" stroke="#333" stroke-width="0.7"/>
<line x1="414.0" y1="28.0" x2="417.0" y2="28.0" stroke="#333" stroke-width="0.7"/>
<text x="411.0" y="31.2" font-size="9" fill="#111" font-weight="bold" text-anchor="end" style='font-family:"Liberation Serif",serif' >120</text>
<line x1="414.0" y1="20.6" x2="415.8" y2="20.6" stroke="#333" stroke-width="0.7"/>
<line x1="414.0" y1="13.1" x2="417.0" y2="13.1" stroke="#333" stroke-width="0.7"/>
<text x="411.0" y="16.300000000000008" font-size="9" fill="#111" font-weight="bold" text-anchor="end" style='font-family:"Liberation Serif",serif' >140</text>
<line x1="414.0" y1="5.7" x2="415.8" y2="5.7" stroke="#333" stroke-width="0.7"/>
<line x1="414.6" y1="117.4" x2="414.6" y2="115.60000000000001" stroke="#333" stroke-width="0.7"/>
<line x1="425.5" y1="117.4" x2="425.5" y2="114.4" stroke="#333" stroke-width="0.7"/>
<text x="425.5" y="128.9" font-size="9" fill="#111" font-weight="bold" text-anchor="middle" style='font-family:"Liberation Serif",serif' >−0.9</text>
<line x1="436.4" y1="117.4" x2="436.4" y2="115.60000000000001" stroke="#333" stroke-width="0.7"/>
<line x1="447.3" y1="117.4" x2="447.3" y2="114.4" stroke="#333" stroke-width="0.7"/>
<text x="447.3" y="128.9" font-size="9" fill="#111" font-weight="bold" text-anchor="middle" style='font-family:"Liberation Serif",serif' >−0.8</text>
<line x1="458.2" y1="117.4" x2="458.2" y2="115.60000000000001" stroke="#333" stroke-width="0.7"/>
<line x1="469.1" y1="117.4" x2="469.1" y2="114.4" stroke="#333" stroke-width="0.7"/>
<text x="469.1" y="128.9" font-size="9" fill="#111" font-weight="bold" text-anchor="middle" style='font-family:"Liberation Serif",serif' >−0.7</text>
<line x1="480.0" y1="117.4" x2="480.0" y2="115.60000000000001" stroke="#333" stroke-width="0.7"/>
<line x1="490.9" y1="117.4" x2="490.9" y2="114.4" stroke="#333" stroke-width="0.7"/>
<text x="490.90000000000003" y="128.9" font-size="9" fill="#111" font-weight="bold" text-anchor="middle" style='font-family:"Liberation Serif",serif' >−0.6</text>
<line x1="501.8" y1="117.4" x2="501.8" y2="115.60000000000001" stroke="#333" stroke-width="0.7"/>
<line x1="512.7" y1="117.4" x2="512.7" y2="114.4" stroke="#333" stroke-width="0.7"/>
<text x="512.7" y="128.9" font-size="9" fill="#111" font-weight="bold" text-anchor="middle" style='font-family:"Liberation Serif",serif' >−0.5</text>
<line x1="523.6" y1="117.4" x2="523.6" y2="115.60000000000001" stroke="#333" stroke-width="0.7"/>
<line x1="534.5" y1="117.4" x2="534.5" y2="114.4" stroke="#333" stroke-width="0.7"/>
<text x="534.5" y="128.9" font-size="9" fill="#111" font-weight="bold" text-anchor="middle" style='font-family:"Liberation Serif",serif' >−0.4</text>
<text x="483.5" y="139.5" font-size="9" fill="#111" font-weight="bold" text-anchor="middle" style='font-family:"Liberation Serif",serif'  textLength="70" lengthAdjust="spacingAndGlyphs">Potential vs RHE / V</text>
<text x="0" y="0" font-size="8.6" fill="#111" font-weight="bold" text-anchor="middle" style='font-family:"Liberation Serif",serif' transform="translate(393,66) rotate(-90)">CO mass activity / mA mg<tspan font-size="5.5" dy="-3">−1</tspan><tspan font-size="5.5" dy="5">Ag</tspan></text>
<line x1="447.3" y1="14.6" x2="447.3" y2="52.6" stroke="#f0a0a0" stroke-width="0.7"/>
<line x1="425.5" y1="83.1" x2="425.5" y2="104.0" stroke="#b0b0e0" stroke-width="0.7"/>
<polyline points="425.5,93.6 447.3,82.4 469.1,90.6 490.9,98.8 512.7,112.9 534.5,116.3" fill="none" stroke="#2030e0" stroke-width="1.3"/>
<path d="M425.5,91.2 L427.8,95.2 L423.2,95.2 Z" fill="#2030e0"/>
<path d="M447.3,80.0 L449.6,84.0 L445.0,84.0 Z" fill="#2030e0"/>
<path d="M469.1,88.2 L471.4,92.2 L466.8,92.2 Z" fill="#2030e0"/>
<path d="M490.9,96.4 L493.2,100.4 L488.6,100.4 Z" fill="#2030e0"/>
<path d="M512.7,110.5 L515.0,114.5 L510.4,114.5 Z" fill="#2030e0"/>
<path d="M534.5,113.9 L536.8,117.9 L532.2,117.9 Z" fill="#2030e0"/>
<polyline points="425.5,42.2 447.3,34.0 469.1,69.0 490.9,92.8 512.7,110.0 534.5,115.9" fill="none" stroke="#f01818" stroke-width="1.3"/>
<circle cx="425.5" cy="42.2" r="2.1" fill="#f01818"/>
<circle cx="447.3" cy="34.0" r="2.1" fill="#f01818"/>
<circle cx="469.1" cy="69.0" r="2.1" fill="#f01818"/>
<circle cx="490.9" cy="92.8" r="2.1" fill="#f01818"/>
<circle cx="512.7" cy="110.0" r="2.1" fill="#f01818"/>
<circle cx="534.5" cy="115.9" r="2.1" fill="#f01818"/>
<line x1="457" y1="21" x2="470" y2="21" stroke="#f01818" stroke-width="1.2"/><circle cx="463.5" cy="21" r="1.8" fill="#f01818"/>
<line x1="457" y1="30" x2="470" y2="30" stroke="#2030e0" stroke-width="1.2"/><path d="M463.5,28 L465.5,31.3 L461.5,31.3 Z" fill="#2030e0"/>
<text x="472" y="24" font-size="7.5" fill="#111" font-weight="bold" text-anchor="start" style='font-family:"Liberation Serif",serif' >AgCu-10</text>
<text x="472" y="33" font-size="7.5" fill="#111" font-weight="bold" text-anchor="start" style='font-family:"Liberation Serif",serif' >AgCu-50</text>
<text x="368" y="19" font-size="14" fill="#000" font-weight="normal" text-anchor="start" style='font-family:"Liberation Serif",serif' >(c)</text>
<line x1="9.0" y1="180.5" x2="70.8" y2="158.0" stroke="#c8c8c8" stroke-width="0.6"/>
<line x1="70.8" y1="158.0" x2="130.5" y2="181.0" stroke="#c8c8c8" stroke-width="0.6"/>
<line x1="70.8" y1="158.0" x2="69.4" y2="221.5" stroke="#c8c8c8" stroke-width="0.6"/>
<line x1="9.0" y1="180.5" x2="13.0" y2="248.0" stroke="#c8c8c8" stroke-width="0.6"/>
<line x1="69.4" y1="221.5" x2="13.0" y2="248.0" stroke="#c8c8c8" stroke-width="0.6"/>
<line x1="69.4" y1="221.5" x2="124.5" y2="252.5" stroke="#c8c8c8" stroke-width="0.6"/>
<polygon points="62.8,226.4 67.7,229.2 68.0,203.5 62.9,200.9" fill="#f000f0"/>
<polygon points="67.7,229.2 73.9,226.2 74.4,200.6 68.0,203.5" fill="#c000c0"/>
<polygon points="62.9,200.9 68.0,203.5 74.4,200.6 69.3,198.1" fill="#ff70ff"/>
<polygon points="52.1,231.6 57.0,234.5 57.0,227.5 52.0,224.6" fill="#00f0f0"/>
<polygon points="57.0,234.5 63.5,231.3 63.5,224.3 57.0,227.5" fill="#00b8c0"/>
<polygon points="52.0,224.6 57.0,227.5 63.5,224.3 58.5,221.5" fill="#80ffff"/>
<polygon points="71.1,231.2 76.2,234.1 77.3,182.9 71.9,180.5" fill="#f000f0"/>
<polygon points="76.2,234.1 82.5,230.9 84.0,180.2 77.3,182.9" fill="#c000c0"/>
<polygon points="71.9,180.5 77.3,182.9 84.0,180.2 78.5,177.8" fill="#ff70ff"/>
<polygon points="41.0,237.0 45.8,240.0 45.1,195.2 40.0,192.6" fill="#2828f0"/>
<polygon points="45.8,240.0 52.6,236.7 52.2,192.2 45.1,195.2" fill="#1c1cb8"/>
<polygon points="40.0,192.6 45.1,195.2 52.2,192.2 47.1,189.7" fill="#6a6aff"/>
<polygon points="60.3,236.5 65.4,239.6 65.5,232.5 60.3,229.5" fill="#00f0f0"/>
<polygon points="65.4,239.6 71.9,236.3 72.1,229.2 65.5,232.5" fill="#00b8c0"/>
<polygon points="60.3,229.5 65.5,232.5 72.1,229.2 66.9,226.3" fill="#80ffff"/>
<polygon points="79.7,236.1 85.1,239.2 86.7,190.2 81.0,187.6" fill="#f000f0"/>
<polygon points="85.1,239.2 91.4,235.9 93.4,187.3 86.7,190.2" fill="#c000c0"/>
<polygon points="81.0,187.6 86.7,190.2 93.4,187.3 87.6,184.8" fill="#ff70ff"/>
<polygon points="29.4,242.6 34.2,245.8 33.9,237.6 29.1,234.5" fill="#00e800"/>
<polygon points="34.2,245.8 41.2,242.3 41.0,234.2 33.9,237.6" fill="#00b400"/>
<polygon points="29.1,234.5 33.9,237.6 41.0,234.2 36.2,231.2" fill="#50ff50"/>
<polygon points="49.1,242.1 54.2,245.4 54.1,223.2 48.9,220.2" fill="#2828f0"/>
<polygon points="54.2,245.4 61.0,241.9 61.1,219.9 54.1,223.2" fill="#1c1cb8"/>
<polygon points="48.9,220.2 54.1,223.2 61.1,219.9 55.8,217.0" fill="#6a6aff"/>
<polygon points="68.9,241.7 74.3,244.9 74.4,239.5 69.0,236.3" fill="#00f0f0"/>
<polygon points="74.3,244.9 80.8,241.5 81.0,236.1 74.4,239.5" fill="#00b8c0"/>
<polygon points="69.0,236.3 74.4,239.5 81.0,236.1 75.6,233.0" fill="#80ffff"/>
<polygon points="88.8,241.3 94.4,244.5 97.2,183.3 91.1,180.7" fill="#f000f0"/>
<polygon points="94.4,244.5 100.7,241.0 104.0,180.4 97.2,183.3" fill="#c000c0"/>
<polygon points="91.1,180.7 97.2,183.3 104.0,180.4 97.8,177.9" fill="#ff70ff"/>
<polygon points="17.3,248.4 22.1,251.8 21.9,248.1 17.1,244.8" fill="#f00000"/>
<polygon points="22.1,251.8 29.4,248.2 29.3,244.5 21.9,248.1" fill="#c80000"/>
<polygon points="17.1,244.8 21.9,248.1 29.3,244.5 24.5,241.3" fill="#ff5050"/>
<polygon points="37.5,248.0 42.5,251.4 42.3,242.1 37.2,238.9" fill="#00e800"/>
<polygon points="42.5,251.4 49.6,247.7 49.5,238.6 42.3,242.1" fill="#00b400"/>
<polygon points="37.2,238.9 42.3,242.1 49.5,238.6 44.4,235.4" fill="#50ff50"/>
<polygon points="57.7,247.6 63.0,250.9 63.1,234.2 57.6,230.9" fill="#2828f0"/>
<polygon points="63.0,250.9 69.8,247.3 70.0,230.7 63.1,234.2" fill="#1c1cb8"/>
<polygon points="57.6,230.9 63.1,234.2 70.0,230.7 64.6,227.6" fill="#6a6aff"/>
<polygon points="77.9,247.1 83.5,250.5 83.7,245.0 78.0,241.7" fill="#00f0f0"/>
<polygon points="83.5,250.5 90.1,246.9 90.3,241.4 83.7,245.0" fill="#00b8c0"/>
<polygon points="78.0,241.7 83.7,245.0 90.3,241.4 84.7,238.2" fill="#80ffff"/>
<polygon points="98.2,246.7 104.1,250.1 107.6,191.0 101.2,188.2" fill="#f000f0"/>
<polygon points="104.1,250.1 110.4,246.4 114.3,187.9 107.6,191.0" fill="#c000c0"/>
<polygon points="101.2,188.2 107.6,191.0 114.3,187.9 107.9,185.2" fill="#ff70ff"/>
<polygon points="25.3,254.1 30.2,257.6 30.1,254.8 25.2,251.3" fill="#f00000"/>
<polygon points="30.2,257.6 37.6,253.8 37.6,251.1 30.1,254.8" fill="#c80000"/>
<polygon points="25.2,251.3 30.1,254.8 37.6,251.1 32.6,247.7" fill="#ff5050"/>
<polygon points="45.9,253.7 51.2,257.2 51.0,245.0 45.7,241.6" fill="#00e800"/>
<polygon points="51.2,257.2 58.3,253.4 58.3,241.3 51.0,245.0" fill="#00b400"/>
<polygon points="45.7,241.6 51.0,245.0 58.3,241.3 52.9,238.0" fill="#50ff50"/>
<polygon points="66.6,253.2 72.1,256.8 72.4,244.5 66.7,241.1" fill="#2828f0"/>
<polygon points="72.1,256.8 79.0,253.0 79.3,240.8 72.4,244.5" fill="#1c1cb8"/>
<polygon points="66.7,241.1 72.4,244.5 79.3,240.8 73.7,237.5" fill="#6a6aff"/>
<polygon points="87.3,252.8 93.2,256.3 93.5,248.8 87.6,245.4" fill="#00f0f0"/>
<polygon points="93.2,256.3 99.8,252.5 100.2,245.1 93.5,248.8" fill="#00b8c0"/>
<polygon points="87.6,245.4 93.5,248.8 100.2,245.1 94.3,241.7" fill="#80ffff"/>
<polygon points="108.1,252.4 114.3,255.9 119.3,187.0 112.5,184.2" fill="#f000f0"/>
<polygon points="114.3,255.9 120.6,252.1 126.1,183.9 119.3,187.0" fill="#c000c0"/>
<polygon points="112.5,184.2 119.3,187.0 126.1,183.9 119.3,181.2" fill="#ff70ff"/>
<polygon points="33.6,260.0 38.8,263.7 38.8,260.9 33.5,257.2" fill="#f00000"/>
<polygon points="38.8,263.7 46.3,259.8 46.3,257.0 38.8,260.9" fill="#c80000"/>
<polygon points="33.5,257.2 38.8,260.9 46.3,257.0 41.0,253.4" fill="#ff5050"/>
<polygon points="54.8,259.6 60.3,263.3 60.3,250.9 54.7,247.3" fill="#00e800"/>
<polygon points="60.3,263.3 67.5,259.3 67.6,247.0 60.3,250.9" fill="#00b400"/>
<polygon points="54.7,247.3 60.3,250.9 67.6,247.0 62.0,243.6" fill="#50ff50"/>
<polygon points="75.9,259.2 81.8,262.9 82.2,248.5 76.3,244.9" fill="#2828f0"/>
<polygon points="81.8,262.9 88.7,258.9 89.2,244.6 82.2,248.5" fill="#1c1cb8"/>
<polygon points="76.3,244.9 82.2,248.5 89.2,244.6 83.3,241.2" fill="#6a6aff"/>
<polygon points="97.2,258.7 103.3,262.4 103.9,252.9 97.7,249.3" fill="#00f0f0"/>
<polygon points="103.3,262.4 110.0,258.5 110.6,249.0 103.9,252.9" fill="#00b8c0"/>
<polygon points="97.7,249.3 103.9,252.9 110.6,249.0 104.4,245.5" fill="#80ffff"/>
<polygon points="42.4,266.2 47.8,270.1 47.8,268.2 42.3,264.4" fill="#f00000"/>
<polygon points="47.8,270.1 55.4,266.0 55.4,264.1 47.8,268.2" fill="#c80000"/>
<polygon points="42.3,264.4 47.8,268.2 55.4,264.1 49.8,260.3" fill="#ff5050"/>
<polygon points="64.0,265.8 69.8,269.7 70.0,257.6 64.1,253.8" fill="#00e800"/>
<polygon points="69.8,269.7 77.1,265.6 77.3,253.5 70.0,257.6" fill="#00b400"/>
<polygon points="64.1,253.8 70.0,257.6 77.3,253.5 71.4,249.9" fill="#50ff50"/>
<polygon points="85.7,265.4 91.9,269.3 92.2,262.5 86.0,258.7" fill="#2828f0"/>
<polygon points="91.9,269.3 98.8,265.1 99.2,258.4 92.2,262.5" fill="#1c1cb8"/>
<polygon points="86.0,258.7 92.2,262.5 99.2,258.4 93.0,254.7" fill="#6a6aff"/>
<polygon points="51.6,272.8 57.3,276.9 57.3,274.9 51.6,270.9" fill="#f00000"/>
<polygon points="57.3,276.9 64.9,272.5 64.9,270.6 57.3,274.9" fill="#c80000"/>
<polygon points="51.6,270.9 57.3,274.9 64.9,270.6 59.1,266.7" fill="#ff5050"/>
<polygon points="73.8,272.4 79.9,276.4 80.2,263.6 74.0,259.7" fill="#00e800"/>
<polygon points="79.9,276.4 87.1,272.1 87.6,259.4 80.2,263.6" fill="#00b400"/>
<polygon points="74.0,259.7 80.2,263.6 87.6,259.4 81.4,255.5" fill="#50ff50"/>
<polygon points="61.2,279.7 67.3,284.0 67.3,282.0 61.2,277.7" fill="#f00000"/>
<polygon points="67.3,284.0 74.9,279.4 74.9,277.4 67.3,282.0" fill="#c80000"/>
<polygon points="61.2,277.7 67.3,282.0 74.9,277.4 68.9,273.3" fill="#ff5050"/>
<line x1="13" y1="248" x2="67.4" y2="287" stroke="#222" stroke-width="0.8"/>
<line x1="67.4" y1="287" x2="124.5" y2="252.5" stroke="#222" stroke-width="0.8"/>
<line x1="124.5" y1="252.5" x2="130.5" y2="181" stroke="#222" stroke-width="0.8"/>
<line x1="17.2" y1="251.3" x2="14.4" y2="252.6" stroke="#222" stroke-width="0.6"/>
<text x="9.4" y="256.9" font-size="5.4" font-weight="bold" text-anchor="middle" fill="#333" style='font-family:"Liberation Serif",serif' transform="rotate(-62 9.4 255.1)">−0.5</text>
<line x1="25.2" y1="257.1" x2="22.5" y2="258.5" stroke="#222" stroke-width="0.6"/>
<text x="17.3" y="262.9" font-size="5.4" font-weight="bold" text-anchor="middle" fill="#333" style='font-family:"Liberation Serif",serif' transform="rotate(-62 17.3 261.1)">−0.6</text>
<line x1="33.7" y1="263.2" x2="30.9" y2="264.7" stroke="#222" stroke-width="0.6"/>
<text x="25.7" y="269.2" font-size="5.4" font-weight="bold" text-anchor="middle" fill="#333" style='font-family:"Liberation Serif",serif' transform="rotate(-62 25.7 267.4)">−0.7</text>
<line x1="42.5" y1="269.6" x2="39.7" y2="271.1" stroke="#222" stroke-width="0.6"/>
<text x="34.5" y="275.7" font-size="5.4" font-weight="bold" text-anchor="middle" fill="#333" style='font-family:"Liberation Serif",serif' transform="rotate(-62 34.5 273.9)">−0.8</text>
<line x1="51.8" y1="276.3" x2="49.0" y2="277.9" stroke="#222" stroke-width="0.6"/>
<text x="43.7" y="282.7" font-size="5.4" font-weight="bold" text-anchor="middle" fill="#333" style='font-family:"Liberation Serif",serif' transform="rotate(-62 43.7 280.9)">−0.9</text>
<line x1="61.6" y1="283.3" x2="58.8" y2="285.0" stroke="#222" stroke-width="0.6"/>
<text x="53.5" y="289.9" font-size="5.4" font-weight="bold" text-anchor="middle" fill="#333" style='font-family:"Liberation Serif",serif' transform="rotate(-62 53.5 288.1)">−1.0</text>
<line x1="73.2" y1="283.1" x2="75.5" y2="284.7" stroke="#222" stroke-width="0.6"/>
<text x="77.6" y="288.0" font-size="5.6" font-weight="bold" fill="#333" style='font-family:"Liberation Serif",serif' transform="rotate(30 77.6 286.2)">CH<tspan font-size="4" dy="1.5">3</tspan><tspan dy="-1.5">OH</tspan></text>
<line x1="85.6" y1="275.6" x2="87.9" y2="277.1" stroke="#222" stroke-width="0.6"/>
<text x="90.0" y="280.3" font-size="5.6" font-weight="bold" fill="#333" style='font-family:"Liberation Serif",serif' transform="rotate(30 90.0 278.5)">HCOOH</text>
<line x1="97.4" y1="268.5" x2="99.8" y2="269.9" stroke="#222" stroke-width="0.6"/>
<text x="101.9" y="273.1" font-size="5.6" font-weight="bold" fill="#333" style='font-family:"Liberation Serif",serif' transform="rotate(30 101.9 271.3)">C<tspan font-size="4" dy="1.5">2</tspan><tspan dy="-1.5">H</tspan><tspan font-size="4" dy="1.5">5</tspan><tspan dy="-1.5">OH</tspan></text>
<line x1="108.8" y1="261.7" x2="111.1" y2="263.1" stroke="#222" stroke-width="0.6"/>
<text x="113.2" y="266.1" font-size="5.6" font-weight="bold" fill="#333" style='font-family:"Liberation Serif",serif' transform="rotate(30 113.2 264.3)">CO</text>
<line x1="119.6" y1="255.2" x2="121.9" y2="256.5" stroke="#222" stroke-width="0.6"/>
<text x="124.0" y="259.5" font-size="5.6" font-weight="bold" fill="#333" style='font-family:"Liberation Serif",serif' transform="rotate(30 124.0 257.7)">H<tspan font-size="4" dy="1.5">2</tspan></text>
<line x1="124.8" y1="252.0" x2="126.9" y2="250.8" stroke="#222" stroke-width="0.6"/>
<text x="126.6" y="254.4" font-size="5" font-weight="bold" fill="#333" style='font-family:"Liberation Serif",serif'>0</text>
<line x1="125.6" y1="242.7" x2="127.7" y2="241.5" stroke="#222" stroke-width="0.6"/>
<text x="127.4" y="245.1" font-size="5" font-weight="bold" fill="#333" style='font-family:"Liberation Serif",serif'>10</text>
<line x1="126.4" y1="233.1" x2="128.5" y2="231.9" stroke="#222" stroke-width="0.6"/>
<text x="128.2" y="235.5" font-size="5" font-weight="bold" fill="#333" style='font-family:"Liberation Serif",serif'>20</text>
<line x1="127.3" y1="223.3" x2="129.4" y2="222.1" stroke="#222" stroke-width="0.6"/>
<text x="129.1" y="225.7" font-size="5" font-weight="bold" fill="#333" style='font-family:"Liberation Serif",serif'>30</text>
<line x1="128.1" y1="213.3" x2="130.3" y2="212.1" stroke="#222" stroke-width="0.6"/>
<text x="129.9" y="215.7" font-size="5" font-weight="bold" fill="#333" style='font-family:"Liberation Serif",serif'>40</text>
<line x1="129.0" y1="203.0" x2="131.2" y2="201.9" stroke="#222" stroke-width="0.6"/>
<text x="130.8" y="205.4" font-size="5" font-weight="bold" fill="#333" style='font-family:"Liberation Serif",serif'>50</text>
<line x1="129.9" y1="192.4" x2="132.1" y2="191.3" stroke="#222" stroke-width="0.6"/>
<text x="131.7" y="194.8" font-size="5" font-weight="bold" fill="#333" style='font-family:"Liberation Serif",serif'>60</text>
<line x1="130.8" y1="181.5" x2="133.0" y2="180.5" stroke="#222" stroke-width="0.6"/>
<text x="132.6" y="183.9" font-size="5" font-weight="bold" fill="#333" style='font-family:"Liberation Serif",serif'>70</text>
<text x="140.2" y="219.3" font-size="6.3" font-weight="bold" font-style="italic" text-anchor="middle" fill="#222" style='font-family:"Liberation Serif",serif' transform="rotate(-80 140.2 219.3)" textLength="20" lengthAdjust="spacingAndGlyphs">FE (%)</text>
<text x="24.6" y="280.0" font-size="6.6" font-weight="bold" text-anchor="middle" fill="#222" style='font-family:"Liberation Serif",serif' transform="rotate(35.8 24.6 277.8)" textLength="55" lengthAdjust="spacingAndGlyphs">Potential vs. RHE (V)</text>
<text x="24" y="189.8" font-size="8" fill="#222" style='font-family:"Liberation Serif",serif' textLength="38.5" lengthAdjust="spacingAndGlyphs">Cu<tspan font-size="5" dy="1.5">3</tspan><tspan dy="-1.5">Au NWA</tspan></text>
<text x="3" y="176" font-size="15" fill="#000" style='font-family:"Liberation Serif",serif'>(d)</text>
<line x1="193.6" y1="180.8" x2="263.0" y2="159.4" stroke="#c8c8c8" stroke-width="0.6"/>
<line x1="263.0" y1="159.4" x2="330.3" y2="181.6" stroke="#c8c8c8" stroke-width="0.6"/>
<line x1="263.0" y1="159.4" x2="262.4" y2="221.2" stroke="#c8c8c8" stroke-width="0.6"/>
<line x1="193.6" y1="180.8" x2="199.4" y2="248.4" stroke="#c8c8c8" stroke-width="0.6"/>
<line x1="262.4" y1="221.2" x2="199.4" y2="248.4" stroke="#c8c8c8" stroke-width="0.6"/>
<line x1="262.4" y1="221.2" x2="323.5" y2="249.9" stroke="#c8c8c8" stroke-width="0.6"/>
<polygon points="255.1,226.0 260.6,228.7 260.9,179.3 255.0,177.1" fill="#f000f0"/>
<polygon points="260.6,228.7 267.5,225.7 268.2,176.7 260.9,179.3" fill="#c000c0"/>
<polygon points="255.0,177.1 260.9,179.3 268.2,176.7 262.3,174.6" fill="#ff70ff"/>
<polygon points="243.2,231.2 248.7,234.0 248.6,225.5 243.1,222.7" fill="#00f0f0"/>
<polygon points="248.7,234.0 255.9,230.8 255.9,222.3 248.6,225.5" fill="#00b8c0"/>
<polygon points="243.1,222.7 248.6,225.5 255.9,222.3 250.4,219.7" fill="#80ffff"/>
<polygon points="264.3,230.5 270.1,233.3 270.8,194.1 264.8,191.7" fill="#f000f0"/>
<polygon points="270.1,233.3 276.9,230.1 278.1,191.3 270.8,194.1" fill="#c000c0"/>
<polygon points="264.8,191.7 270.8,194.1 278.1,191.3 272.0,189.0" fill="#ff70ff"/>
<polygon points="230.8,236.6 236.3,239.6 235.8,224.9 230.3,222.1" fill="#2828f0"/>
<polygon points="236.3,239.6 243.8,236.2 243.5,221.7 235.8,224.9" fill="#1c1cb8"/>
<polygon points="230.3,222.1 235.8,224.9 243.5,221.7 238.0,219.0" fill="#6a6aff"/>
<polygon points="252.4,235.9 258.2,238.8 258.2,225.7 252.4,222.9" fill="#00f0f0"/>
<polygon points="258.2,238.8 265.4,235.5 265.5,222.5 258.2,225.7" fill="#00b8c0"/>
<polygon points="252.4,222.9 258.2,225.7 265.5,222.5 259.7,219.8" fill="#80ffff"/>
<polygon points="273.9,235.2 279.9,238.1 280.7,215.7 274.5,213.0" fill="#f000f0"/>
<polygon points="279.9,238.1 286.8,234.8 287.8,212.6 280.7,215.7" fill="#c000c0"/>
<polygon points="274.5,213.0 280.7,215.7 287.8,212.6 281.6,209.9" fill="#ff70ff"/>
<polygon points="217.8,242.3 223.2,245.4 222.9,241.0 217.5,238.0" fill="#00e800"/>
<polygon points="223.2,245.4 231.1,241.9 230.9,237.5 222.9,241.0" fill="#00b400"/>
<polygon points="217.5,238.0 222.9,241.0 230.9,237.5 225.5,234.6" fill="#50ff50"/>
<polygon points="240.0,241.6 245.7,244.6 245.3,224.1 239.5,221.2" fill="#2828f0"/>
<polygon points="245.7,244.6 253.2,241.1 253.1,220.8 245.3,224.1" fill="#1c1cb8"/>
<polygon points="239.5,221.2 245.3,224.1 253.1,220.8 247.3,218.0" fill="#6a6aff"/>
<polygon points="262.0,240.8 268.0,243.9 268.3,227.4 262.2,224.5" fill="#00f0f0"/>
<polygon points="268.0,243.9 275.2,240.4 275.7,224.1 268.3,227.4" fill="#00b8c0"/>
<polygon points="262.2,224.5 268.3,227.4 275.7,224.1 269.5,221.3" fill="#80ffff"/>
<polygon points="284.0,240.1 290.2,243.1 292.0,207.3 285.4,204.6" fill="#f000f0"/>
<polygon points="290.2,243.1 297.1,239.6 299.2,204.2 292.0,207.3" fill="#c000c0"/>
<polygon points="285.4,204.6 292.0,207.3 299.2,204.2 292.6,201.6" fill="#ff70ff"/>
<polygon points="204.0,248.3 209.4,251.6 209.3,249.8 203.9,246.6" fill="#f00000"/>
<polygon points="209.4,251.6 217.7,247.8 217.6,246.1 209.3,249.8" fill="#c80000"/>
<polygon points="203.9,246.6 209.3,249.8 217.6,246.1 212.2,243.0" fill="#ff5050"/>
<polygon points="226.9,247.5 232.5,250.8 232.5,249.4 226.8,246.2" fill="#00e800"/>
<polygon points="232.5,250.8 240.5,247.0 240.4,245.7 232.5,249.4" fill="#00b400"/>
<polygon points="226.8,246.2 232.5,249.4 240.4,245.7 234.8,242.6" fill="#50ff50"/>
<polygon points="249.5,246.7 255.5,249.9 255.4,209.7 249.1,206.8" fill="#2828f0"/>
<polygon points="255.5,249.9 263.1,246.3 263.4,206.4 255.4,209.7" fill="#1c1cb8"/>
<polygon points="249.1,206.8 255.4,209.7 263.4,206.4 257.1,203.7" fill="#6a6aff"/>
<polygon points="272.1,245.9 278.3,249.1 279.2,219.1 272.7,216.2" fill="#00f0f0"/>
<polygon points="278.3,249.1 285.5,245.5 286.8,215.8 279.2,219.1" fill="#00b8c0"/>
<polygon points="272.7,216.2 279.2,219.1 286.8,215.8 280.3,212.9" fill="#80ffff"/>
<polygon points="294.4,245.2 300.9,248.3 303.6,208.4 296.6,205.6" fill="#f000f0"/>
<polygon points="300.9,248.3 307.8,244.7 310.8,205.2 303.6,208.4" fill="#c000c0"/>
<polygon points="296.6,205.6 303.6,208.4 310.8,205.2 303.9,202.5" fill="#ff70ff"/>
<polygon points="213.1,253.8 218.7,257.2 218.6,255.4 212.9,252.0" fill="#f00000"/>
<polygon points="218.7,257.2 227.1,253.3 227.0,251.5 218.6,255.4" fill="#c80000"/>
<polygon points="212.9,252.0 218.6,255.4 227.0,251.5 221.3,248.2" fill="#ff5050"/>
<polygon points="236.4,252.9 242.3,256.3 242.2,254.3 236.3,251.0" fill="#00e800"/>
<polygon points="242.3,256.3 250.3,252.4 250.3,250.5 242.2,254.3" fill="#00b400"/>
<polygon points="236.3,251.0 242.2,254.3 250.3,250.5 244.3,247.2" fill="#50ff50"/>
<polygon points="259.5,252.1 265.7,255.5 265.9,243.8 259.6,240.5" fill="#2828f0"/>
<polygon points="265.7,255.5 273.3,251.6 273.6,240.1 265.9,243.8" fill="#1c1cb8"/>
<polygon points="259.6,240.5 265.9,243.8 273.6,240.1 267.3,236.9" fill="#6a6aff"/>
<polygon points="282.5,251.3 289.0,254.6 290.8,219.3 283.9,216.3" fill="#00f0f0"/>
<polygon points="289.0,254.6 296.3,250.8 298.3,215.9 290.8,219.3" fill="#00b8c0"/>
<polygon points="283.9,216.3 290.8,219.3 298.3,215.9 291.4,213.0" fill="#80ffff"/>
<polygon points="305.4,250.5 312.2,253.8 315.9,209.7 308.6,206.8" fill="#f000f0"/>
<polygon points="312.2,253.8 319.0,250.0 323.1,206.4 315.9,209.7" fill="#c000c0"/>
<polygon points="308.6,206.8 315.9,209.7 323.1,206.4 315.8,203.6" fill="#ff70ff"/>
<polygon points="222.5,259.5 228.4,263.1 228.3,261.2 222.4,257.7" fill="#f00000"/>
<polygon points="228.4,263.1 236.8,259.0 236.8,257.2 228.3,261.2" fill="#c80000"/>
<polygon points="222.4,257.7 228.3,261.2 236.8,257.2 230.8,253.7" fill="#ff5050"/>
<polygon points="246.3,258.6 252.5,262.2 252.5,258.9 246.3,255.4" fill="#00e800"/>
<polygon points="252.5,262.2 260.5,258.1 260.6,254.8 252.5,258.9" fill="#00b400"/>
<polygon points="246.3,255.4 252.5,258.9 260.6,254.8 254.3,251.4" fill="#50ff50"/>
<polygon points="270.0,257.7 276.5,261.3 276.6,256.7 270.1,253.2" fill="#2828f0"/>
<polygon points="276.5,261.3 284.1,257.2 284.3,252.7 276.6,256.7" fill="#1c1cb8"/>
<polygon points="270.1,253.2 276.6,256.7 284.3,252.7 277.7,249.3" fill="#6a6aff"/>
<polygon points="293.5,256.9 300.3,260.4 301.9,236.5 294.8,233.2" fill="#00f0f0"/>
<polygon points="300.3,260.4 307.5,256.4 309.3,232.7 301.9,236.5" fill="#00b8c0"/>
<polygon points="294.8,233.2 301.9,236.5 309.3,232.7 302.2,229.6" fill="#80ffff"/>
<polygon points="232.4,265.5 238.6,269.2 238.5,267.8 232.3,264.1" fill="#f00000"/>
<polygon points="238.6,269.2 247.0,264.9 247.0,263.6 238.5,267.8" fill="#c80000"/>
<polygon points="232.3,264.1 238.5,267.8 247.0,263.6 240.8,260.0" fill="#ff5050"/>
<polygon points="256.7,264.6 263.2,268.3 263.3,261.2 256.7,257.5" fill="#00e800"/>
<polygon points="263.2,268.3 271.3,264.0 271.4,257.0 263.3,261.2" fill="#00b400"/>
<polygon points="256.7,257.5 263.3,261.2 271.4,257.0 264.9,253.5" fill="#50ff50"/>
<polygon points="280.9,263.6 287.8,267.3 288.1,259.1 281.2,255.5" fill="#2828f0"/>
<polygon points="287.8,267.3 295.4,263.1 295.8,255.0 288.1,259.1" fill="#1c1cb8"/>
<polygon points="281.2,255.5 288.1,259.1 295.8,255.0 288.9,251.5" fill="#6a6aff"/>
<polygon points="242.8,271.8 249.2,275.7 249.2,274.3 242.7,270.4" fill="#f00000"/>
<polygon points="249.2,275.7 257.7,271.2 257.7,269.8 249.2,274.3" fill="#c80000"/>
<polygon points="242.7,270.4 249.2,274.3 257.7,269.8 251.2,266.0" fill="#ff5050"/>
<polygon points="267.7,270.8 274.5,274.7 274.8,265.7 267.8,261.9" fill="#00e800"/>
<polygon points="274.5,274.7 282.5,270.2 282.9,261.4 274.8,265.7" fill="#00b400"/>
<polygon points="267.8,261.9 274.8,265.7 282.9,261.4 276.0,257.7" fill="#50ff50"/>
<polygon points="253.7,278.4 260.5,282.5 260.5,281.0 253.7,276.9" fill="#f00000"/>
<polygon points="260.5,282.5 269.0,277.7 269.0,276.3 260.5,281.0" fill="#c80000"/>
<polygon points="253.7,276.9 260.5,281.0 269.0,276.3 262.2,272.4" fill="#ff5050"/>
<line x1="199.4" y1="248.4" x2="260" y2="285.5" stroke="#222" stroke-width="0.8"/>
<line x1="260" y1="285.5" x2="323.5" y2="249.9" stroke="#222" stroke-width="0.8"/>
<line x1="323.5" y1="249.9" x2="330.3" y2="181.6" stroke="#222" stroke-width="0.8"/>
<line x1="203.9" y1="251.2" x2="200.7" y2="252.6" stroke="#222" stroke-width="0.6"/>
<text x="194.9" y="257.0" font-size="5.4" font-weight="bold" text-anchor="middle" fill="#333" style='font-family:"Liberation Serif",serif' transform="rotate(-62 194.9 255.2)">−0.5</text>
<line x1="213.0" y1="256.8" x2="209.8" y2="258.2" stroke="#222" stroke-width="0.6"/>
<text x="204.0" y="262.7" font-size="5.4" font-weight="bold" text-anchor="middle" fill="#333" style='font-family:"Liberation Serif",serif' transform="rotate(-62 204.0 260.9)">−0.6</text>
<line x1="222.5" y1="262.6" x2="219.4" y2="264.2" stroke="#222" stroke-width="0.6"/>
<text x="213.5" y="268.8" font-size="5.4" font-weight="bold" text-anchor="middle" fill="#333" style='font-family:"Liberation Serif",serif' transform="rotate(-62 213.5 267.0)">−0.7</text>
<line x1="232.6" y1="268.8" x2="229.4" y2="270.4" stroke="#222" stroke-width="0.6"/>
<text x="223.4" y="275.1" font-size="5.4" font-weight="bold" text-anchor="middle" fill="#333" style='font-family:"Liberation Serif",serif' transform="rotate(-62 223.4 273.3)">−0.8</text>
<line x1="243.1" y1="275.2" x2="239.9" y2="276.9" stroke="#222" stroke-width="0.6"/>
<text x="233.9" y="281.8" font-size="5.4" font-weight="bold" text-anchor="middle" fill="#333" style='font-family:"Liberation Serif",serif' transform="rotate(-62 233.9 280.0)">−0.9</text>
<line x1="254.1" y1="282.0" x2="250.9" y2="283.8" stroke="#222" stroke-width="0.6"/>
<text x="244.9" y="288.8" font-size="5.4" font-weight="bold" text-anchor="middle" fill="#333" style='font-family:"Liberation Serif",serif' transform="rotate(-62 244.9 287.0)">−1.0</text>
<line x1="267.1" y1="281.5" x2="269.7" y2="283.0" stroke="#222" stroke-width="0.6"/>
<text x="272.0" y="286.2" font-size="5.6" font-weight="bold" fill="#333" style='font-family:"Liberation Serif",serif' transform="rotate(30 272.0 284.4)">CH<tspan font-size="4" dy="1.5">3</tspan><tspan dy="-1.5">OH</tspan></text>
<line x1="280.9" y1="273.7" x2="283.5" y2="275.2" stroke="#222" stroke-width="0.6"/>
<text x="285.8" y="278.3" font-size="5.6" font-weight="bold" fill="#333" style='font-family:"Liberation Serif",serif' transform="rotate(30 285.8 276.5)">HCOOH</text>
<line x1="293.9" y1="266.4" x2="296.5" y2="267.8" stroke="#222" stroke-width="0.6"/>
<text x="298.8" y="270.8" font-size="5.6" font-weight="bold" fill="#333" style='font-family:"Liberation Serif",serif' transform="rotate(30 298.8 269.0)">C<tspan font-size="4" dy="1.5">2</tspan><tspan dy="-1.5">H</tspan><tspan font-size="4" dy="1.5">5</tspan><tspan dy="-1.5">OH</tspan></text>
<line x1="306.2" y1="259.5" x2="308.8" y2="260.8" stroke="#222" stroke-width="0.6"/>
<text x="311.2" y="263.8" font-size="5.6" font-weight="bold" fill="#333" style='font-family:"Liberation Serif",serif' transform="rotate(30 311.2 262.0)">CO</text>
<line x1="317.9" y1="253.0" x2="320.5" y2="254.2" stroke="#222" stroke-width="0.6"/>
<text x="322.8" y="257.1" font-size="5.6" font-weight="bold" fill="#333" style='font-family:"Liberation Serif",serif' transform="rotate(30 322.8 255.3)">H<tspan font-size="4" dy="1.5">2</tspan></text>
<line x1="323.5" y1="249.8" x2="325.8" y2="248.6" stroke="#222" stroke-width="0.6"/>
<text x="325.3" y="252.2" font-size="5" font-weight="bold" fill="#333" style='font-family:"Liberation Serif",serif'>0</text>
<line x1="324.4" y1="240.9" x2="326.7" y2="239.7" stroke="#222" stroke-width="0.6"/>
<text x="326.2" y="243.3" font-size="5" font-weight="bold" fill="#333" style='font-family:"Liberation Serif",serif'>10</text>
<line x1="325.4" y1="231.7" x2="327.6" y2="230.5" stroke="#222" stroke-width="0.6"/>
<text x="327.2" y="234.1" font-size="5" font-weight="bold" fill="#333" style='font-family:"Liberation Serif",serif'>20</text>
<line x1="326.3" y1="222.2" x2="328.6" y2="221.1" stroke="#222" stroke-width="0.6"/>
<text x="328.1" y="224.6" font-size="5" font-weight="bold" fill="#333" style='font-family:"Liberation Serif",serif'>30</text>
<line x1="327.3" y1="212.5" x2="329.6" y2="211.4" stroke="#222" stroke-width="0.6"/>
<text x="329.1" y="214.9" font-size="5" font-weight="bold" fill="#333" style='font-family:"Liberation Serif",serif'>40</text>
<line x1="328.3" y1="202.5" x2="330.6" y2="201.5" stroke="#222" stroke-width="0.6"/>
<text x="330.1" y="204.9" font-size="5" font-weight="bold" fill="#333" style='font-family:"Liberation Serif",serif'>50</text>
<line x1="329.3" y1="192.3" x2="331.7" y2="191.2" stroke="#222" stroke-width="0.6"/>
<text x="331.1" y="194.7" font-size="5" font-weight="bold" fill="#333" style='font-family:"Liberation Serif",serif'>60</text>
<line x1="330.4" y1="181.7" x2="332.7" y2="180.7" stroke="#222" stroke-width="0.6"/>
<text x="332.2" y="184.1" font-size="5" font-weight="bold" fill="#333" style='font-family:"Liberation Serif",serif'>70</text>
<text x="339.3" y="218.4" font-size="6.3" font-weight="bold" font-style="italic" text-anchor="middle" fill="#222" style='font-family:"Liberation Serif",serif' transform="rotate(-80 339.3 218.4)" textLength="20" lengthAdjust="spacingAndGlyphs">FE (%)</text>
<text x="214.5" y="280.4" font-size="6.6" font-weight="bold" text-anchor="middle" fill="#222" style='font-family:"Liberation Serif",serif' transform="rotate(31.5 214.5 278.2)" textLength="55" lengthAdjust="spacingAndGlyphs">Potential vs. RHE (V)</text>
<text x="209" y="191" font-size="8" fill="#222" style='font-family:"Liberation Serif",serif' textLength="39" lengthAdjust="spacingAndGlyphs">CuAu NWA</text>
<text x="175" y="179" font-size="15" fill="#000" style='font-family:"Liberation Serif",serif'>(e)</text>
<line x1="392.9" y1="181.7" x2="463.3" y2="158.8" stroke="#c8c8c8" stroke-width="0.6"/>
<line x1="463.3" y1="158.8" x2="531.6" y2="182.7" stroke="#c8c8c8" stroke-width="0.6"/>
<line x1="463.3" y1="158.8" x2="463.4" y2="224.3" stroke="#c8c8c8" stroke-width="0.6"/>
<line x1="392.9" y1="181.7" x2="401.7" y2="251.2" stroke="#c8c8c8" stroke-width="0.6"/>
<line x1="463.4" y1="224.3" x2="401.7" y2="251.2" stroke="#c8c8c8" stroke-width="0.6"/>
<line x1="463.4" y1="224.3" x2="525.1" y2="253.9" stroke="#c8c8c8" stroke-width="0.6"/>
<polygon points="456.4,229.2 462.1,232.0 461.6,200.3 455.6,197.8" fill="#f000f0"/>
<polygon points="462.1,232.0 468.8,228.9 468.6,197.5 461.6,200.3" fill="#c000c0"/>
<polygon points="455.6,197.8 461.6,200.3 468.6,197.5 462.6,195.0" fill="#ff70ff"/>
<polygon points="444.9,234.5 450.6,237.3 450.0,220.8 444.1,218.0" fill="#00f0f0"/>
<polygon points="450.6,237.3 457.6,234.1 457.2,217.7 450.0,220.8" fill="#00b8c0"/>
<polygon points="444.1,218.0 450.0,220.8 457.2,217.7 451.3,215.0" fill="#80ffff"/>
<polygon points="466.0,233.8 472.0,236.7 471.9,197.9 465.6,195.3" fill="#f000f0"/>
<polygon points="472.0,236.7 478.6,233.4 479.0,195.0 471.9,197.9" fill="#c000c0"/>
<polygon points="465.6,195.3 471.9,197.9 479.0,195.0 472.7,192.5" fill="#ff70ff"/>
<polygon points="432.8,240.0 438.5,243.0 436.6,209.4 430.5,206.6" fill="#2828f0"/>
<polygon points="438.5,243.0 445.8,239.6 444.3,206.3 436.6,209.4" fill="#1c1cb8"/>
<polygon points="430.5,206.6 436.6,209.4 444.3,206.3 438.3,203.5" fill="#6a6aff"/>
<polygon points="454.5,239.3 460.4,242.2 460.0,221.9 453.9,219.0" fill="#00f0f0"/>
<polygon points="460.4,242.2 467.4,238.8 467.3,218.7 460.0,221.9" fill="#00b8c0"/>
<polygon points="453.9,219.0 460.0,221.9 467.3,218.7 461.1,215.9" fill="#80ffff"/>
<polygon points="476.0,238.6 482.1,241.5 482.8,197.4 476.3,194.7" fill="#f000f0"/>
<polygon points="482.1,241.5 488.7,238.2 490.0,194.4 482.8,197.4" fill="#c000c0"/>
<polygon points="476.3,194.7 482.8,197.4 490.0,194.4 483.4,191.8" fill="#ff70ff"/>
<polygon points="420.1,245.7 425.9,248.9 425.6,246.2 419.8,243.1" fill="#00e800"/>
<polygon points="425.9,248.9 433.5,245.3 433.3,242.6 425.6,246.2" fill="#00b400"/>
<polygon points="419.8,243.1 425.6,246.2 433.3,242.6 427.6,239.6" fill="#50ff50"/>
<polygon points="442.4,245.0 448.4,248.1 447.9,237.2 441.9,234.2" fill="#2828f0"/>
<polygon points="448.4,248.1 455.7,244.5 455.4,233.7 447.9,237.2" fill="#1c1cb8"/>
<polygon points="441.9,234.2 447.9,237.2 455.4,233.7 449.3,230.8" fill="#6a6aff"/>
<polygon points="464.5,244.2 470.6,247.3 470.6,228.7 464.2,225.8" fill="#00f0f0"/>
<polygon points="470.6,247.3 477.6,243.8 477.7,225.4 470.6,228.7" fill="#00b8c0"/>
<polygon points="464.2,225.8 470.6,228.7 477.7,225.4 471.4,222.5" fill="#80ffff"/>
<polygon points="486.2,243.5 492.6,246.5 494.4,195.8 487.5,193.0" fill="#f000f0"/>
<polygon points="492.6,246.5 499.1,243.0 501.5,192.8 494.4,195.8" fill="#c000c0"/>
<polygon points="487.5,193.0 494.4,195.8 501.5,192.8 494.6,190.1" fill="#ff70ff"/>
<polygon points="406.8,251.8 412.5,255.0 412.2,251.9 406.4,248.6" fill="#f00000"/>
<polygon points="412.5,255.0 420.6,251.3 420.3,248.1 412.2,251.9" fill="#c80000"/>
<polygon points="406.4,248.6 412.2,251.9 420.3,248.1 414.5,245.0" fill="#ff5050"/>
<polygon points="429.8,251.0 435.7,254.2 435.5,250.6 429.5,247.4" fill="#00e800"/>
<polygon points="435.7,254.2 443.4,250.5 443.2,246.9 435.5,250.6" fill="#00b400"/>
<polygon points="429.5,247.4 435.5,250.6 443.2,246.9 437.2,243.8" fill="#50ff50"/>
<polygon points="452.4,250.1 458.6,253.3 458.1,231.0 451.7,227.9" fill="#2828f0"/>
<polygon points="458.6,253.3 465.9,249.7 465.6,227.5 458.1,231.0" fill="#1c1cb8"/>
<polygon points="451.7,227.9 458.1,231.0 465.6,227.5 459.3,224.5" fill="#6a6aff"/>
<polygon points="474.8,249.3 481.2,252.5 481.4,235.4 474.9,232.4" fill="#00f0f0"/>
<polygon points="481.2,252.5 488.1,248.9 488.5,231.9 481.4,235.4" fill="#00b8c0"/>
<polygon points="474.9,232.4 481.4,235.4 488.5,231.9 482.0,228.9" fill="#80ffff"/>
<polygon points="496.9,248.6 503.4,251.7 506.5,195.1 499.3,192.3" fill="#f000f0"/>
<polygon points="503.4,251.7 509.9,248.1 513.6,192.1 506.5,195.1" fill="#c000c0"/>
<polygon points="499.3,192.3 506.5,195.1 513.6,192.1 506.5,189.4" fill="#ff70ff"/>
<polygon points="416.5,257.3 422.4,260.6 420.7,241.3 414.6,238.1" fill="#f00000"/>
<polygon points="422.4,260.6 430.5,256.7 429.1,237.6 420.7,241.3" fill="#c80000"/>
<polygon points="414.6,238.1 420.7,241.3 429.1,237.6 422.9,234.4" fill="#ff5050"/>
<polygon points="439.8,256.4 446.0,259.7 445.8,255.1 439.5,251.8" fill="#00e800"/>
<polygon points="446.0,259.7 453.6,255.8 453.5,251.3 445.8,255.1" fill="#00b400"/>
<polygon points="439.5,251.8 445.8,255.1 453.5,251.3 447.3,248.1" fill="#50ff50"/>
<polygon points="462.8,255.5 469.2,258.8 469.1,245.6 462.6,242.3" fill="#2828f0"/>
<polygon points="469.2,258.8 476.4,255.0 476.5,241.9 469.1,245.6" fill="#1c1cb8"/>
<polygon points="462.6,242.3 469.1,245.6 476.5,241.9 470.0,238.7" fill="#6a6aff"/>
<polygon points="485.5,254.6 492.1,257.9 492.6,242.2 485.8,239.0" fill="#00f0f0"/>
<polygon points="492.1,257.9 498.9,254.1 499.7,238.6 492.6,242.2" fill="#00b8c0"/>
<polygon points="485.8,239.0 492.6,242.2 499.7,238.6 492.9,235.5" fill="#80ffff"/>
<polygon points="507.8,253.8 514.6,257.0 519.4,193.8 511.8,191.0" fill="#f000f0"/>
<polygon points="514.6,257.0 521.1,253.3 526.5,190.7 519.4,193.8" fill="#c000c0"/>
<polygon points="511.8,191.0 519.4,193.8 526.5,190.7 519.0,187.9" fill="#ff70ff"/>
<polygon points="426.5,262.9 432.7,266.4 432.6,264.6 426.4,261.1" fill="#f00000"/>
<polygon points="432.7,266.4 440.8,262.3 440.7,260.5 432.6,264.6" fill="#c80000"/>
<polygon points="426.4,261.1 432.6,264.6 440.7,260.5 434.4,257.1" fill="#ff5050"/>
<polygon points="450.2,262.0 456.6,265.4 456.4,258.9 449.9,255.5" fill="#00e800"/>
<polygon points="456.6,265.4 464.2,261.4 464.1,255.0 456.4,258.9" fill="#00b400"/>
<polygon points="449.9,255.5 456.4,258.9 464.1,255.0 457.7,251.7" fill="#50ff50"/>
<polygon points="473.5,261.1 480.2,264.5 480.3,255.7 473.6,252.3" fill="#2828f0"/>
<polygon points="480.2,264.5 487.4,260.5 487.6,251.8 480.3,255.7" fill="#1c1cb8"/>
<polygon points="473.6,252.3 480.3,255.7 487.6,251.8 480.9,248.5" fill="#6a6aff"/>
<polygon points="496.5,260.1 503.4,263.5 504.1,250.0 497.1,246.7" fill="#00f0f0"/>
<polygon points="503.4,263.5 510.2,259.6 511.1,246.2 504.1,250.0" fill="#00b8c0"/>
<polygon points="497.1,246.7 504.1,250.0 511.1,246.2 504.1,242.9" fill="#80ffff"/>
<polygon points="436.9,268.8 443.4,272.4 443.3,270.5 436.8,266.9" fill="#f00000"/>
<polygon points="443.4,272.4 451.4,268.2 451.3,266.3 443.3,270.5" fill="#c80000"/>
<polygon points="436.8,266.9 443.3,270.5 451.3,266.3 444.9,262.8" fill="#ff5050"/>
<polygon points="461.0,267.8 467.6,271.4 467.5,262.5 460.8,258.9" fill="#00e800"/>
<polygon points="467.6,271.4 475.2,267.2 475.3,258.4 467.5,262.5" fill="#00b400"/>
<polygon points="460.8,258.9 467.5,262.5 475.3,258.4 468.5,254.9" fill="#50ff50"/>
<polygon points="484.7,266.8 491.5,270.4 491.8,263.5 484.8,260.0" fill="#2828f0"/>
<polygon points="491.5,270.4 498.7,266.2 499.0,259.4 491.8,263.5" fill="#1c1cb8"/>
<polygon points="484.8,260.0 491.8,263.5 499.0,259.4 492.1,256.0" fill="#6a6aff"/>
<polygon points="447.7,274.9 454.4,278.6 454.4,276.8 447.6,273.0" fill="#f00000"/>
<polygon points="454.4,278.6 462.4,274.2 462.4,272.4 454.4,276.8" fill="#c80000"/>
<polygon points="447.6,273.0 454.4,276.8 462.4,272.4 455.7,268.7" fill="#ff5050"/>
<polygon points="472.1,273.8 479.1,277.5 479.2,264.8 472.1,261.1" fill="#00e800"/>
<polygon points="479.1,277.5 486.6,273.2 487.0,260.5 479.2,264.8" fill="#00b400"/>
<polygon points="472.1,261.1 479.2,264.8 487.0,260.5 479.9,257.0" fill="#50ff50"/>
<polygon points="459.0,281.2 465.9,285.1 465.9,283.2 458.9,279.3" fill="#f00000"/>
<polygon points="465.9,285.1 473.9,280.5 473.9,278.6 465.9,283.2" fill="#c80000"/>
<polygon points="458.9,279.3 465.9,283.2 473.9,278.6 466.9,274.9" fill="#ff5050"/>
<line x1="401.7" y1="251.2" x2="466.5" y2="288" stroke="#222" stroke-width="0.8"/>
<line x1="466.5" y1="288" x2="525.1" y2="253.9" stroke="#222" stroke-width="0.8"/>
<line x1="525.1" y1="253.9" x2="531.6" y2="182.7" stroke="#222" stroke-width="0.8"/>
<line x1="406.9" y1="254.7" x2="403.9" y2="256.1" stroke="#222" stroke-width="0.6"/>
<text x="398.2" y="260.5" font-size="5.4" font-weight="bold" text-anchor="middle" fill="#333" style='font-family:"Liberation Serif",serif' transform="rotate(-62 398.2 258.7)">−0.5</text>
<line x1="416.7" y1="260.2" x2="413.7" y2="261.7" stroke="#222" stroke-width="0.6"/>
<text x="408.0" y="266.2" font-size="5.4" font-weight="bold" text-anchor="middle" fill="#333" style='font-family:"Liberation Serif",serif' transform="rotate(-62 408.0 264.4)">−0.6</text>
<line x1="426.9" y1="266.0" x2="423.8" y2="267.5" stroke="#222" stroke-width="0.6"/>
<text x="418.2" y="272.1" font-size="5.4" font-weight="bold" text-anchor="middle" fill="#333" style='font-family:"Liberation Serif",serif' transform="rotate(-62 418.2 270.3)">−0.7</text>
<line x1="437.4" y1="272.0" x2="434.3" y2="273.6" stroke="#222" stroke-width="0.6"/>
<text x="428.7" y="278.3" font-size="5.4" font-weight="bold" text-anchor="middle" fill="#333" style='font-family:"Liberation Serif",serif' transform="rotate(-62 428.7 276.5)">−0.8</text>
<line x1="448.3" y1="278.2" x2="445.3" y2="279.9" stroke="#222" stroke-width="0.6"/>
<text x="439.7" y="284.7" font-size="5.4" font-weight="bold" text-anchor="middle" fill="#333" style='font-family:"Liberation Serif",serif' transform="rotate(-62 439.7 282.9)">−0.9</text>
<line x1="459.7" y1="284.7" x2="456.7" y2="286.4" stroke="#222" stroke-width="0.6"/>
<text x="451.1" y="291.4" font-size="5.4" font-weight="bold" text-anchor="middle" fill="#333" style='font-family:"Liberation Serif",serif' transform="rotate(-62 451.1 289.6)">−1.0</text>
<line x1="472.3" y1="284.1" x2="474.9" y2="285.6" stroke="#222" stroke-width="0.6"/>
<text x="477.3" y="288.7" font-size="5.6" font-weight="bold" fill="#333" style='font-family:"Liberation Serif",serif' transform="rotate(30 477.3 286.9)">CH<tspan font-size="4" dy="1.5">3</tspan><tspan dy="-1.5">OH</tspan></text>
<line x1="485.2" y1="276.6" x2="487.8" y2="278.0" stroke="#222" stroke-width="0.6"/>
<text x="490.2" y="281.0" font-size="5.6" font-weight="bold" fill="#333" style='font-family:"Liberation Serif",serif' transform="rotate(30 490.2 279.2)">HCOOH</text>
<line x1="497.5" y1="269.5" x2="500.0" y2="270.8" stroke="#222" stroke-width="0.6"/>
<text x="502.4" y="273.8" font-size="5.6" font-weight="bold" fill="#333" style='font-family:"Liberation Serif",serif' transform="rotate(30 502.4 272.0)">C<tspan font-size="4" dy="1.5">2</tspan><tspan dy="-1.5">H</tspan><tspan font-size="4" dy="1.5">5</tspan><tspan dy="-1.5">OH</tspan></text>
<line x1="509.1" y1="262.7" x2="511.7" y2="263.9" stroke="#222" stroke-width="0.6"/>
<text x="514.0" y="266.9" font-size="5.6" font-weight="bold" fill="#333" style='font-family:"Liberation Serif",serif' transform="rotate(30 514.0 265.1)">CO</text>
<line x1="520.2" y1="256.2" x2="522.7" y2="257.4" stroke="#222" stroke-width="0.6"/>
<text x="525.0" y="260.3" font-size="5.6" font-weight="bold" fill="#333" style='font-family:"Liberation Serif",serif' transform="rotate(30 525.0 258.5)">H<tspan font-size="4" dy="1.5">2</tspan></text>
<line x1="525.5" y1="253.1" x2="527.6" y2="251.9" stroke="#222" stroke-width="0.6"/>
<text x="527.3" y="255.5" font-size="5" font-weight="bold" fill="#333" style='font-family:"Liberation Serif",serif'>0</text>
<line x1="526.4" y1="244.1" x2="528.5" y2="242.9" stroke="#222" stroke-width="0.6"/>
<text x="528.2" y="246.5" font-size="5" font-weight="bold" fill="#333" style='font-family:"Liberation Serif",serif'>10</text>
<line x1="527.2" y1="234.9" x2="529.4" y2="233.7" stroke="#222" stroke-width="0.6"/>
<text x="529.0" y="237.3" font-size="5" font-weight="bold" fill="#333" style='font-family:"Liberation Serif",serif'>20</text>
<line x1="528.1" y1="225.3" x2="530.3" y2="224.1" stroke="#222" stroke-width="0.6"/>
<text x="529.9" y="227.7" font-size="5" font-weight="bold" fill="#333" style='font-family:"Liberation Serif",serif'>30</text>
<line x1="529.1" y1="215.4" x2="531.3" y2="214.2" stroke="#222" stroke-width="0.6"/>
<text x="530.9" y="217.8" font-size="5" font-weight="bold" fill="#333" style='font-family:"Liberation Serif",serif'>40</text>
<line x1="530.0" y1="205.1" x2="532.3" y2="204.0" stroke="#222" stroke-width="0.6"/>
<text x="531.8" y="207.5" font-size="5" font-weight="bold" fill="#333" style='font-family:"Liberation Serif",serif'>50</text>
<line x1="531.0" y1="194.5" x2="533.3" y2="193.5" stroke="#222" stroke-width="0.6"/>
<text x="532.8" y="196.9" font-size="5" font-weight="bold" fill="#333" style='font-family:"Liberation Serif",serif'>60</text>
<line x1="532.1" y1="183.5" x2="534.4" y2="182.5" stroke="#222" stroke-width="0.6"/>
<text x="533.9" y="185.9" font-size="5" font-weight="bold" fill="#333" style='font-family:"Liberation Serif",serif'>70</text>
<text x="541.1" y="221.3" font-size="6.3" font-weight="bold" font-style="italic" text-anchor="middle" fill="#222" style='font-family:"Liberation Serif",serif' transform="rotate(-80 541.1 221.3)" textLength="20" lengthAdjust="spacingAndGlyphs">FE (%)</text>
<text x="419.0" y="283.3" font-size="6.6" font-weight="bold" text-anchor="middle" fill="#222" style='font-family:"Liberation Serif",serif' transform="rotate(29.6 419.0 281.1)" textLength="55" lengthAdjust="spacingAndGlyphs">Potential vs. RHE (V)</text>
<text x="408.6" y="191" font-size="8" fill="#222" style='font-family:"Liberation Serif",serif' textLength="43.4" lengthAdjust="spacingAndGlyphs">CuAu<tspan font-size="6" dy="1.5">3</tspan><tspan dy="-1.5"> NWA</tspan></text>
<text x="371" y="176" font-size="15" fill="#000" style='font-family:"Liberation Serif",serif'>(f)</text>
<radialGradient id="gr" cx="0.55" cy="0.45" r="0.6" fx="0.58" fy="0.4">
<stop offset="0" stop-color="#ffffff"/><stop offset="0.1" stop-color="#fbb8b8"/><stop offset="0.25" stop-color="#f05a5a"/>
<stop offset="0.7" stop-color="#e44444"/><stop offset="0.9" stop-color="#b82a2a"/><stop offset="1" stop-color="#701414"/></radialGradient>
<radialGradient id="grd" cx="0.55" cy="0.45" r="0.62" fx="0.6" fy="0.3">
<stop offset="0" stop-color="#e06a6a"/><stop offset="0.4" stop-color="#b83232"/><stop offset="0.8" stop-color="#801818"/><stop offset="1" stop-color="#400606"/></radialGradient>
<radialGradient id="gh" cx="0.5" cy="0.5" r="0.6" fx="0.5" fy="0.6">
<stop offset="0" stop-color="#4a0404"/><stop offset="0.5" stop-color="#701010"/><stop offset="0.85" stop-color="#a82828"/><stop offset="1" stop-color="#c83838"/></radialGradient>
<radialGradient id="gy" cx="0.55" cy="0.45" r="0.62" fx="0.6" fy="0.3">
<stop offset="0" stop-color="#ffffe0"/><stop offset="0.15" stop-color="#f4f060"/><stop offset="0.6" stop-color="#e0d820"/><stop offset="0.9" stop-color="#9a9000"/><stop offset="1" stop-color="#606000"/></radialGradient>
<circle cx="12.2" cy="413.8" r="7.9" fill="url(#grd)"/>
<circle cx="24.2" cy="423.5" r="7.9" fill="url(#grd)"/>
<circle cx="36.3" cy="433.3" r="7.9" fill="url(#grd)"/>
<polygon points="102.6,343.9 102.3,343.8 102.1,343.6 101.8,343.5 101.5,343.4 101.2,343.4 101.0,343.3 100.7,343.3 100.4,343.4 31.1,351.9 30.8,352.0 30.5,352.1 30.2,352.2 29.9,352.3 29.7,352.5 29.4,352.7 29.2,352.9 29.0,353.1 28.9,353.4 28.7,353.7 7.9,399.6 7.8,399.8 7.7,400.1 7.7,400.4 7.7,400.7 7.7,401.0 7.7,401.3 7.8,401.6 7.9,401.9 8.0,402.2 8.2,402.5 8.3,402.7 8.5,402.9 8.8,403.1 45.3,432.5 45.5,432.7 45.8,432.9 46.0,433.0 46.3,433.1 46.6,433.1 46.9,433.2 47.2,433.2 47.5,433.2 101.0,427.4 119.1,425.4 119.3,425.4 119.6,425.3 119.9,425.2 120.2,425.1 120.4,424.9 120.6,424.8 120.8,424.6 121.0,424.3 121.2,424.1 121.4,423.9 121.5,423.6 126.6,411.6 141.8,376.0 141.9,375.7 142.0,375.4 142.0,375.2 142.0,374.9 142.0,374.6 142.0,374.3 141.9,374.0 141.8,373.8 141.7,373.5 141.6,373.2 141.4,373.0 141.3,372.8 141.1,372.6 140.8,372.4 127.9,362.8" fill="#6a1010"/>
<circle cx="100.8" cy="346.3" r="7.7" fill="url(#gr)"/>
<circle cx="83.3" cy="348.5" r="7.7" fill="url(#gr)"/>
<circle cx="65.9" cy="350.6" r="7.7" fill="url(#gr)"/>
<circle cx="48.6" cy="352.8" r="7.7" fill="url(#gr)"/>
<circle cx="31.5" cy="354.9" r="7.7" fill="url(#gr)"/>
<circle cx="113.4" cy="355.7" r="7.9" fill="url(#gr)"/>
<circle cx="95.7" cy="357.9" r="7.9" fill="url(#gr)"/>
<circle cx="78.2" cy="360.0" r="7.9" fill="url(#gr)"/>
<circle cx="60.8" cy="362.1" r="7.9" fill="url(#gr)"/>
<circle cx="43.5" cy="364.2" r="7.9" fill="url(#gr)"/>
<circle cx="26.3" cy="366.3" r="7.9" fill="url(#gr)"/>
<circle cx="126.1" cy="365.2" r="8.1" fill="url(#gr)"/>
<circle cx="108.3" cy="367.3" r="8.1" fill="url(#gr)"/>
<circle cx="90.6" cy="369.4" r="8.1" fill="url(#gr)"/>
<circle cx="73.1" cy="371.5" r="8.1" fill="url(#gr)"/>
<circle cx="55.6" cy="373.6" r="8.1" fill="url(#gr)"/>
<circle cx="38.3" cy="375.7" r="8.1" fill="url(#gr)"/>
<circle cx="21.1" cy="377.7" r="8.1" fill="url(#gr)"/>
<circle cx="139.0" cy="374.8" r="8.3" fill="url(#gr)"/>
<circle cx="121.1" cy="376.9" r="8.3" fill="url(#gr)"/>
<circle cx="103.3" cy="379.0" r="8.3" fill="url(#gr)"/>
<circle cx="85.5" cy="381.1" r="8.3" fill="url(#gr)"/>
<circle cx="68.0" cy="383.1" r="8.3" fill="url(#gr)"/>
<circle cx="50.5" cy="385.2" r="8.3" fill="url(#gr)"/>
<circle cx="33.1" cy="387.2" r="8.3" fill="url(#gr)"/>
<circle cx="15.9" cy="389.2" r="8.3" fill="url(#gr)"/>
<circle cx="134.0" cy="386.6" r="8.5" fill="url(#gr)"/>
<circle cx="116.0" cy="388.7" r="8.5" fill="url(#gr)"/>
<circle cx="98.2" cy="390.7" r="8.5" fill="url(#gr)"/>
<circle cx="80.4" cy="392.8" r="8.5" fill="url(#gr)"/>
<circle cx="62.8" cy="394.8" r="8.5" fill="url(#gr)"/>
<circle cx="45.3" cy="396.8" r="8.5" fill="url(#gr)"/>
<circle cx="27.9" cy="398.8" r="8.5" fill="url(#gr)"/>
<circle cx="10.7" cy="400.8" r="8.5" fill="url(#gr)"/>
<circle cx="128.9" cy="398.5" r="8.7" fill="url(#gr)"/>
<circle cx="110.9" cy="400.5" r="8.7" fill="url(#gr)"/>
<circle cx="93.0" cy="402.5" r="8.7" fill="url(#gr)"/>
<circle cx="75.3" cy="404.5" r="8.7" fill="url(#gr)"/>
<circle cx="57.6" cy="406.5" r="8.7" fill="url(#gr)"/>
<circle cx="40.1" cy="408.5" r="8.7" fill="url(#gr)"/>
<circle cx="22.7" cy="410.5" r="8.7" fill="url(#gr)"/>
<circle cx="123.9" cy="410.4" r="8.9" fill="url(#gr)"/>
<circle cx="105.8" cy="412.4" r="8.9" fill="url(#gr)"/>
<circle cx="87.9" cy="414.4" r="8.9" fill="url(#gr)"/>
<circle cx="70.1" cy="416.4" r="8.9" fill="url(#gr)"/>
<circle cx="52.4" cy="418.3" r="8.9" fill="url(#gr)"/>
<circle cx="34.8" cy="420.3" r="8.9" fill="url(#gr)"/>
<circle cx="118.7" cy="422.4" r="9.1" fill="url(#gr)"/>
<circle cx="100.7" cy="424.4" r="9.1" fill="url(#gr)"/>
<circle cx="82.7" cy="426.3" r="9.1" fill="url(#gr)"/>
<circle cx="64.9" cy="428.3" r="9.1" fill="url(#gr)"/>
<circle cx="47.2" cy="430.2" r="9.1" fill="url(#gr)"/>
<circle cx="212.2" cy="413.8" r="7.9" fill="url(#grd)"/>
<circle cx="224.2" cy="423.5" r="7.9" fill="url(#grd)"/>
<circle cx="236.3" cy="433.3" r="7.9" fill="url(#grd)"/>
<polygon points="302.6,343.9 302.3,343.8 302.1,343.6 301.8,343.5 301.5,343.4 301.2,343.4 301.0,343.3 300.7,343.3 300.4,343.4 231.1,351.9 230.8,352.0 230.5,352.1 230.2,352.2 229.9,352.3 229.7,352.5 229.4,352.7 229.2,352.9 229.0,353.1 228.9,353.4 228.7,353.7 207.9,399.6 207.8,399.8 207.7,400.1 207.7,400.4 207.7,400.7 207.7,401.0 207.7,401.3 207.8,401.6 207.9,401.9 208.0,402.2 208.2,402.5 208.3,402.7 208.5,402.9 208.8,403.1 245.3,432.5 245.5,432.7 245.8,432.9 246.0,433.0 246.3,433.1 246.6,433.1 246.9,433.2 247.2,433.2 247.5,433.2 301.0,427.4 319.1,425.4 319.3,425.4 319.6,425.3 319.9,425.2 320.2,425.1 320.4,424.9 320.6,424.8 320.8,424.6 321.0,424.3 321.2,424.1 321.4,423.9 321.5,423.6 326.6,411.6 341.8,376.0 341.9,375.7 342.0,375.4 342.0,375.2 342.0,374.9 342.0,374.6 342.0,374.3 341.9,374.0 341.8,373.8 341.7,373.5 341.6,373.2 341.4,373.0 341.3,372.8 341.1,372.6 340.8,372.4 327.9,362.8" fill="#6a1010"/>
<circle cx="300.8" cy="346.3" r="7.7" fill="url(#gr)"/>
<circle cx="283.3" cy="348.5" r="7.7" fill="url(#gr)"/>
<circle cx="265.9" cy="350.6" r="7.7" fill="url(#gr)"/>
<circle cx="248.6" cy="352.8" r="7.7" fill="url(#gr)"/>
<circle cx="231.5" cy="354.9" r="7.7" fill="url(#gr)"/>
<circle cx="313.4" cy="355.7" r="7.9" fill="url(#gr)"/>
<circle cx="295.7" cy="357.9" r="7.9" fill="url(#gr)"/>
<circle cx="278.2" cy="360.0" r="7.9" fill="url(#gr)"/>
<circle cx="260.8" cy="362.1" r="7.9" fill="url(#gr)"/>
<circle cx="243.5" cy="364.2" r="7.9" fill="url(#gr)"/>
<circle cx="226.3" cy="366.3" r="7.9" fill="url(#gr)"/>
<circle cx="326.1" cy="365.2" r="8.1" fill="url(#gr)"/>
<circle cx="308.3" cy="367.3" r="8.1" fill="url(#gr)"/>
<circle cx="290.6" cy="369.4" r="8.1" fill="url(#gr)"/>
<circle cx="255.6" cy="373.6" r="8.1" fill="url(#gr)"/>
<circle cx="238.3" cy="375.7" r="8.1" fill="url(#gr)"/>
<circle cx="221.1" cy="377.7" r="8.1" fill="url(#gr)"/>
<circle cx="339.0" cy="374.8" r="8.3" fill="url(#gr)"/>
<circle cx="321.1" cy="376.9" r="8.3" fill="url(#gr)"/>
<circle cx="303.3" cy="379.0" r="8.3" fill="url(#gr)"/>
<circle cx="285.5" cy="381.1" r="8.3" fill="url(#gr)"/>
<circle cx="268.0" cy="383.1" r="8.3" fill="url(#gr)"/>
<circle cx="250.5" cy="385.2" r="8.3" fill="url(#gr)"/>
<circle cx="233.1" cy="387.2" r="8.3" fill="url(#gr)"/>
<circle cx="215.9" cy="389.2" r="8.3" fill="url(#gr)"/>
<circle cx="334.0" cy="386.6" r="8.5" fill="url(#gr)"/>
<circle cx="316.0" cy="388.7" r="8.5" fill="url(#gr)"/>
<circle cx="298.2" cy="390.7" r="8.5" fill="url(#gr)"/>
<circle cx="280.4" cy="392.8" r="8.5" fill="url(#gr)"/>
<circle cx="262.8" cy="394.8" r="8.5" fill="url(#gr)"/>
<circle cx="245.3" cy="396.8" r="8.5" fill="url(#gr)"/>
<circle cx="227.9" cy="398.8" r="8.5" fill="url(#gr)"/>
<circle cx="210.7" cy="400.8" r="8.5" fill="url(#gr)"/>
<circle cx="328.9" cy="398.5" r="8.7" fill="url(#gr)"/>
<circle cx="310.9" cy="400.5" r="8.7" fill="url(#gr)"/>
<circle cx="293.0" cy="402.5" r="8.7" fill="url(#gr)"/>
<circle cx="275.3" cy="404.5" r="8.7" fill="url(#gr)"/>
<circle cx="257.6" cy="406.5" r="8.7" fill="url(#gr)"/>
<circle cx="240.1" cy="408.5" r="8.7" fill="url(#gr)"/>
<circle cx="222.7" cy="410.5" r="8.7" fill="url(#gr)"/>
<circle cx="323.9" cy="410.4" r="8.9" fill="url(#gr)"/>
<circle cx="305.8" cy="412.4" r="8.9" fill="url(#gr)"/>
<circle cx="287.9" cy="414.4" r="8.9" fill="url(#gr)"/>
<circle cx="270.1" cy="416.4" r="8.9" fill="url(#gr)"/>
<circle cx="252.4" cy="418.3" r="8.9" fill="url(#gr)"/>
<circle cx="234.8" cy="420.3" r="8.9" fill="url(#gr)"/>
<circle cx="318.7" cy="422.4" r="9.1" fill="url(#gr)"/>
<circle cx="300.7" cy="424.4" r="9.1" fill="url(#gr)"/>
<circle cx="282.7" cy="426.3" r="9.1" fill="url(#gr)"/>
<circle cx="264.9" cy="428.3" r="9.1" fill="url(#gr)"/>
<circle cx="247.2" cy="430.2" r="9.1" fill="url(#gr)"/>
<circle cx="273.4" cy="377.5" r="4.8" fill="url(#gh)"/>
<circle cx="285.5" cy="381.1" r="8.3" fill="url(#gr)"/>
<circle cx="409.2" cy="413.8" r="7.9" fill="url(#grd)"/>
<circle cx="421.2" cy="423.5" r="7.9" fill="url(#grd)"/>
<circle cx="433.3" cy="433.3" r="7.9" fill="url(#grd)"/>
<circle cx="417" cy="421" r="7.5" fill="url(#gy)"/>
<polygon points="499.6,343.9 499.3,343.8 499.1,343.6 498.8,343.5 498.5,343.4 498.2,343.4 498.0,343.3 497.7,343.3 497.4,343.4 428.1,351.9 427.8,352.0 427.5,352.1 427.2,352.2 426.9,352.3 426.7,352.5 426.4,352.7 426.2,352.9 426.0,353.1 425.9,353.4 425.7,353.7 420.6,365.0 404.9,399.6 404.8,399.8 404.7,400.1 404.7,400.4 404.7,400.7 404.7,401.0 404.7,401.3 404.8,401.6 404.9,401.9 405.0,402.2 405.2,402.5 405.3,402.7 405.5,402.9 405.8,403.1 417.8,412.8 442.3,432.5 442.5,432.7 442.8,432.9 443.0,433.0 443.3,433.1 443.6,433.1 443.9,433.2 444.2,433.2 444.5,433.2 498.0,427.4 516.1,425.4 516.3,425.4 516.6,425.3 516.9,425.2 517.2,425.1 517.4,424.9 517.6,424.8 517.8,424.6 518.0,424.3 518.2,424.1 518.4,423.9 518.5,423.6 538.8,376.0 538.9,375.7 539.0,375.4 539.0,375.2 539.0,374.9 539.0,374.6 539.0,374.3 538.9,374.0 538.8,373.8 538.7,373.5 538.6,373.2 538.4,373.0 538.3,372.8 538.1,372.6 537.8,372.4 524.9,362.8" fill="#6a1010"/>
<circle cx="497.8" cy="346.3" r="7.7" fill="url(#gr)"/>
<circle cx="480.3" cy="348.5" r="7.7" fill="url(#gr)"/>
<circle cx="462.9" cy="350.6" r="7.7" fill="url(#gr)"/>
<circle cx="445.6" cy="352.8" r="7.7" fill="url(#gr)"/>
<circle cx="428.5" cy="354.9" r="7.7" fill="url(#gr)"/>
<circle cx="510.4" cy="355.7" r="7.9" fill="url(#gr)"/>
<circle cx="492.7" cy="357.9" r="7.9" fill="url(#gr)"/>
<circle cx="475.2" cy="360.0" r="7.9" fill="url(#gr)"/>
<circle cx="457.8" cy="362.1" r="7.9" fill="url(#gr)"/>
<circle cx="440.5" cy="364.2" r="7.9" fill="url(#gr)"/>
<circle cx="423.3" cy="366.3" r="7.9" fill="url(#gr)"/>
<circle cx="523.1" cy="365.2" r="8.1" fill="url(#gr)"/>
<circle cx="505.3" cy="367.3" r="8.1" fill="url(#gr)"/>
<circle cx="487.6" cy="369.4" r="8.1" fill="url(#gr)"/>
<circle cx="452.6" cy="373.6" r="8.1" fill="url(#gr)"/>
<circle cx="435.3" cy="375.7" r="8.1" fill="url(#gr)"/>
<circle cx="418.1" cy="377.7" r="8.1" fill="url(#gr)"/>
<circle cx="536.0" cy="374.8" r="8.3" fill="url(#gr)"/>
<circle cx="518.1" cy="376.9" r="8.3" fill="url(#gr)"/>
<circle cx="500.3" cy="379.0" r="8.3" fill="url(#gr)"/>
<circle cx="482.5" cy="381.1" r="8.3" fill="url(#gr)"/>
<circle cx="465.0" cy="383.1" r="8.3" fill="url(#gr)"/>
<circle cx="447.5" cy="385.2" r="8.3" fill="url(#gr)"/>
<circle cx="430.1" cy="387.2" r="8.3" fill="url(#gr)"/>
<circle cx="412.9" cy="389.2" r="8.3" fill="url(#gr)"/>
<circle cx="531.0" cy="386.6" r="8.5" fill="url(#gr)"/>
<circle cx="513.0" cy="388.7" r="8.5" fill="url(#gr)"/>
<circle cx="495.2" cy="390.7" r="8.5" fill="url(#gr)"/>
<circle cx="477.4" cy="392.8" r="8.5" fill="url(#gr)"/>
<circle cx="459.8" cy="394.8" r="8.5" fill="url(#gr)"/>
<circle cx="442.3" cy="396.8" r="8.5" fill="url(#gr)"/>
<circle cx="424.9" cy="398.8" r="8.5" fill="url(#gr)"/>
<circle cx="407.7" cy="400.8" r="8.5" fill="url(#gr)"/>
<circle cx="525.9" cy="398.5" r="8.7" fill="url(#gr)"/>
<circle cx="507.9" cy="400.5" r="8.7" fill="url(#gr)"/>
<circle cx="490.0" cy="402.5" r="8.7" fill="url(#gr)"/>
<circle cx="472.3" cy="404.5" r="8.7" fill="url(#gr)"/>
<circle cx="454.6" cy="406.5" r="8.7" fill="url(#gr)"/>
<circle cx="437.1" cy="408.5" r="8.7" fill="url(#gr)"/>
<circle cx="419.7" cy="410.5" r="8.7" fill="url(#gr)"/>
<circle cx="520.9" cy="410.4" r="8.9" fill="url(#gr)"/>
<circle cx="502.8" cy="412.4" r="8.9" fill="url(#gr)"/>
<circle cx="484.9" cy="414.4" r="8.9" fill="url(#gr)"/>
<circle cx="467.1" cy="416.4" r="8.9" fill="url(#gr)"/>
<circle cx="449.4" cy="418.3" r="8.9" fill="url(#gr)"/>
<circle cx="431.8" cy="420.3" r="8.9" fill="url(#gr)"/>
<circle cx="515.7" cy="422.4" r="9.1" fill="url(#gr)"/>
<circle cx="497.7" cy="424.4" r="9.1" fill="url(#gr)"/>
<circle cx="479.7" cy="426.3" r="9.1" fill="url(#gr)"/>
<circle cx="461.9" cy="428.3" r="9.1" fill="url(#gr)"/>
<circle cx="444.2" cy="430.2" r="9.1" fill="url(#gr)"/>
<circle cx="470.4" cy="377.5" r="4.8" fill="url(#gh)"/>
<circle cx="482.5" cy="381.1" r="8.3" fill="url(#gr)"/>
<circle cx="533" cy="388.5" r="7.3" fill="url(#gy)"/>
<circle cx="524.5" cy="408.5" r="7.6" fill="url(#gy)"/>
<circle cx="481.5" cy="425" r="8.0" fill="url(#gy)"/>
<text x="3" y="343.5" font-size="15.5" fill="#000" font-weight="normal" text-anchor="start" style='font-family:"Liberation Serif",serif'  textLength="20.3" lengthAdjust="spacingAndGlyphs">(g)</text>
<text x="75" y="331.5" font-size="7.2" fill="#111" font-weight="normal" text-anchor="middle" style='font-family:"Liberation Sans",sans-serif' >Cu</text>
<text x="275.5" y="331.5" font-size="7.2" fill="#111" font-weight="normal" text-anchor="middle" style='font-family:"Liberation Sans",sans-serif'  textLength="67" lengthAdjust="spacingAndGlyphs">Cu with Cu vacancy</text>
<text x="472.2" y="327.3" font-size="7.2" fill="#111" font-weight="normal" text-anchor="middle" style='font-family:"Liberation Sans",sans-serif'  textLength="67" lengthAdjust="spacingAndGlyphs">Cu with Cu vacancy</text>
<text x="471.8" y="336.2" font-size="7.2" fill="#111" font-weight="normal" text-anchor="middle" style='font-family:"Liberation Sans",sans-serif'  textLength="58.3" lengthAdjust="spacingAndGlyphs">and subsurface S</text>
<ellipse cx="275.7" cy="380.4" rx="17" ry="8.8" fill="none" stroke="#fff" stroke-width="1.7"/>
<text x="271.2" y="398.7" font-size="7.4" fill="#fff" font-weight="normal" text-anchor="middle" style='font-family:"Liberation Sans",sans-serif' >Cu vacancy</text>
<ellipse cx="471.4" cy="380.4" rx="17" ry="8.8" fill="none" stroke="#fff" stroke-width="1.7"/>
<text x="466.9" y="398.7" font-size="7.4" fill="#fff" font-weight="normal" text-anchor="middle" style='font-family:"Liberation Sans",sans-serif' >Cu vacancy</text>
<text x="499" y="440" font-size="6.3" fill="#b8a000" font-weight="normal" text-anchor="middle" style='font-family:"Liberation Sans",sans-serif' >Cu<tspan font-size="4.5" dy="1.5">2</tspan><tspan dy="-1.5">S</tspan></text>
<radialGradient id="bo" cx="0.4" cy="0.35" r="0.7"><stop offset="0" stop-color="#ff9090"/><stop offset="0.5" stop-color="#e81010"/><stop offset="1" stop-color="#900000"/></radialGradient>
<radialGradient id="bc" cx="0.4" cy="0.35" r="0.7"><stop offset="0" stop-color="#e8e8e8"/><stop offset="0.5" stop-color="#9a9a9a"/><stop offset="1" stop-color="#505050"/></radialGradient>
<radialGradient id="bh" cx="0.4" cy="0.35" r="0.7"><stop offset="0" stop-color="#ffffff"/><stop offset="0.55" stop-color="#f0f0f0"/><stop offset="0.85" stop-color="#c0c0c0"/><stop offset="1" stop-color="#808080"/></radialGradient>
<radialGradient id="bigs" cx="0.45" cy="0.45" r="0.58"><stop offset="0" stop-color="#fbb8b4"/><stop offset="0.7" stop-color="#f69c9a"/><stop offset="1" stop-color="#ee7c7c"/></radialGradient>
<radialGradient id="core" cx="0.55" cy="0.65" r="0.7"><stop offset="0" stop-color="#fff4d0"/><stop offset="0.6" stop-color="#fbe0a8"/><stop offset="1" stop-color="#f6c080"/></radialGradient>
<radialGradient id="yl" cx="0.4" cy="0.35" r="0.7"><stop offset="0" stop-color="#ffffa0"/><stop offset="0.5" stop-color="#f0e000"/><stop offset="1" stop-color="#a09000"/></radialGradient>
<radialGradient id="rd" cx="0.4" cy="0.35" r="0.7"><stop offset="0" stop-color="#e04040"/><stop offset="0.5" stop-color="#a01010"/><stop offset="1" stop-color="#500000"/></radialGradient>
<text x="2.5" y="477.5" font-size="15" fill="#000" font-weight="normal" text-anchor="start" style='font-family:"Liberation Serif",serif' >(h)</text>
<text x="24" y="476.5" font-size="5.8" fill="#222" font-weight="normal" text-anchor="start" style='font-family:"Liberation Sans",sans-serif' >CO<tspan font-size="4" dy="1.5">2</tspan></text>
<line x1="12.7" y1="495.8" x2="22.9" y2="488.2" stroke="#7a7a7a" stroke-width="2.2"/>
<line x1="22.9" y1="488.2" x2="33.0" y2="481.8" stroke="#7a7a7a" stroke-width="2.2"/>
<circle cx="12.7" cy="495.8" r="2.9" fill="url(#bo)"/>
<circle cx="22.9" cy="488.2" r="3.3" fill="url(#bc)"/>
<circle cx="33.0" cy="481.8" r="2.9" fill="url(#bo)"/>
<line x1="21.6" y1="523.8" x2="28.0" y2="511.0" stroke="#7a7a7a" stroke-width="2.2"/>
<line x1="28.0" y1="511.0" x2="34.4" y2="502.2" stroke="#7a7a7a" stroke-width="2.2"/>
<circle cx="21.6" cy="523.8" r="2.9" fill="url(#bo)"/>
<circle cx="28.0" cy="511.0" r="3.3" fill="url(#bc)"/>
<circle cx="34.4" cy="502.2" r="2.9" fill="url(#bo)"/>
<path d="M39.5,494 Q48,511 76.5,511" fill="none" stroke="#1a1a1a" stroke-width="1.3"/>
<circle cx="126.4" cy="514.2" r="44.2" fill="url(#bigs)"/>
<path d="M95.4,524.5 C95,503 103,485 124.5,470.1 A44.2,44.2 0 0 1 168.9,526.7 Z" fill="#f05a44"/>
<path d="M97.8,522.2 C97.8,504 105,487.5 125,472.6 A41.8,41.8 0 0 1 166.6,523.8 Z" fill="#f89a6a"/>
<path d="M100.2,520.2 C100.2,505 107,489.5 125.6,475.2 A39.3,39.3 0 0 1 164.6,521.2 Z" fill="url(#core)"/>
<path d="M95.4,524.5 L168.9,526.7 L168.7,529.5 L95.7,527.6 Z" fill="#f3847a"/>
<circle cx="94.2" cy="493.2" r="2.6" fill="none" stroke="#f07a7a" stroke-width="0.9"/>
<circle cx="108.2" cy="532.6" r="2.6" fill="none" stroke="#f07a7a" stroke-width="0.9"/>
<circle cx="129.8" cy="532.6" r="2.6" fill="none" stroke="#f07a7a" stroke-width="0.9"/>
<path d="M136,549.5 Q139,552 142,548.5" fill="none" stroke="#e02020" stroke-width="1"/>
<path d="M84,521 Q83.5,526 84.5,530" fill="none" stroke="#e02020" stroke-width="1"/>
<text x="127" y="467.5" font-size="5.4" fill="#222" font-weight="normal" text-anchor="middle" style='font-family:"Liberation Sans",sans-serif' >Electrocatalyst</text>
<text x="131.5" y="503.5" font-size="5.6" fill="#222" font-weight="normal" text-anchor="middle" style='font-family:"Liberation Sans",sans-serif' >Cu<tspan font-size="3.6" dy="1.2">2</tspan><tspan dy="-1.2">S core</tspan></text>
<text x="131" y="544.5" font-size="5.6" fill="#222" font-weight="normal" text-anchor="middle" style='font-family:"Liberation Sans",sans-serif' >Cu-V shell</text>
<path d="M177,511.5 Q203,512 216,502" fill="none" stroke="#1a1a1a" stroke-width="1.3"/>
<path d="M219.5,499 L213.2,500.7 L216.6,504.6 Z" fill="#1a1a1a"/>
<line x1="222.0" y1="490.5" x2="229.0" y2="494.8" stroke="#7a7a7a" stroke-width="1.9"/>
<line x1="225.6" y1="497.8" x2="229.0" y2="494.8" stroke="#7a7a7a" stroke-width="1.9"/>
<line x1="229.0" y1="494.8" x2="230.3" y2="502.3" stroke="#7a7a7a" stroke-width="1.9"/>
<line x1="229.0" y1="494.8" x2="238.6" y2="490.5" stroke="#7a7a7a" stroke-width="1.9"/>
<line x1="238.6" y1="490.5" x2="238.6" y2="481.5" stroke="#7a7a7a" stroke-width="1.9"/>
<line x1="238.6" y1="490.5" x2="242.0" y2="486.5" stroke="#7a7a7a" stroke-width="1.9"/>
<line x1="238.6" y1="490.5" x2="248.0" y2="495.2" stroke="#7a7a7a" stroke-width="1.9"/>
<line x1="248.0" y1="495.2" x2="245.2" y2="501.5" stroke="#7a7a7a" stroke-width="1.9"/>
<line x1="248.0" y1="495.2" x2="251.8" y2="501.5" stroke="#7a7a7a" stroke-width="1.9"/>
<line x1="248.0" y1="495.2" x2="256.8" y2="490.0" stroke="#7a7a7a" stroke-width="1.9"/>
<line x1="256.8" y1="490.0" x2="263.4" y2="495.2" stroke="#7a7a7a" stroke-width="1.9"/>
<circle cx="222.0" cy="490.5" r="2.9" fill="url(#bh)"/>
<circle cx="225.6" cy="497.8" r="2.9" fill="url(#bh)"/>
<circle cx="229.0" cy="494.8" r="2.6" fill="url(#bc)"/>
<circle cx="230.3" cy="502.3" r="2.9" fill="url(#bh)"/>
<circle cx="238.6" cy="490.5" r="2.6" fill="url(#bc)"/>
<circle cx="238.6" cy="481.5" r="2.9" fill="url(#bh)"/>
<circle cx="242.0" cy="486.5" r="2.9" fill="url(#bh)"/>
<circle cx="248.0" cy="495.2" r="2.6" fill="url(#bc)"/>
<circle cx="245.2" cy="501.5" r="2.9" fill="url(#bh)"/>
<circle cx="251.8" cy="501.5" r="2.9" fill="url(#bh)"/>
<circle cx="256.8" cy="490.0" r="3.2" fill="url(#bo)"/>
<circle cx="263.4" cy="495.2" r="2.9" fill="url(#bh)"/>
<line x1="226.7" y1="520.0" x2="231.5" y2="525.6" stroke="#7a7a7a" stroke-width="1.9"/>
<line x1="225.6" y1="527.3" x2="231.5" y2="525.6" stroke="#7a7a7a" stroke-width="1.9"/>
<line x1="231.5" y1="525.6" x2="233.8" y2="533.8" stroke="#7a7a7a" stroke-width="1.9"/>
<line x1="231.5" y1="525.6" x2="239.7" y2="521.2" stroke="#7a7a7a" stroke-width="1.9"/>
<line x1="239.7" y1="521.2" x2="238.6" y2="514.3" stroke="#7a7a7a" stroke-width="1.9"/>
<line x1="239.7" y1="521.2" x2="245.7" y2="513.3" stroke="#7a7a7a" stroke-width="1.9"/>
<line x1="239.7" y1="521.2" x2="250.4" y2="527.1" stroke="#7a7a7a" stroke-width="1.9"/>
<line x1="250.4" y1="527.1" x2="258.7" y2="524.7" stroke="#7a7a7a" stroke-width="1.9"/>
<circle cx="226.7" cy="520.0" r="2.9" fill="url(#bh)"/>
<circle cx="225.6" cy="527.3" r="2.9" fill="url(#bh)"/>
<circle cx="231.5" cy="525.6" r="2.6" fill="url(#bc)"/>
<circle cx="233.8" cy="533.8" r="2.9" fill="url(#bh)"/>
<circle cx="239.7" cy="521.2" r="2.6" fill="url(#bc)"/>
<circle cx="238.6" cy="514.3" r="2.9" fill="url(#bh)"/>
<circle cx="245.7" cy="513.3" r="2.9" fill="url(#bh)"/>
<circle cx="250.4" cy="527.1" r="3.2" fill="url(#bo)"/>
<circle cx="258.7" cy="524.7" r="2.9" fill="url(#bh)"/>
<text x="250.4" y="480" font-size="5.9" fill="#222" font-weight="normal" text-anchor="start" style='font-family:"Liberation Sans",sans-serif'  textLength="39" lengthAdjust="spacingAndGlyphs">CH<tspan font-size="3.6" dy="1.2">3</tspan><tspan dy="-1.2">CH</tspan><tspan font-size="3.6" dy="1.2">2</tspan><tspan dy="-1.2">CH</tspan><tspan font-size="3.6" dy="1.2">2</tspan><tspan dy="-1.2">OH</tspan></text>
<text x="258.6" y="516" font-size="5.9" fill="#222" font-weight="normal" text-anchor="start" style='font-family:"Liberation Sans",sans-serif'  textLength="29.6" lengthAdjust="spacingAndGlyphs">CH<tspan font-size="3.6" dy="1.2">3</tspan><tspan dy="-1.2">CH</tspan><tspan font-size="3.6" dy="1.2">2</tspan><tspan dy="-1.2">OH</tspan></text>
<text x="2.5" y="549.2" font-size="5.9" fill="#222" font-weight="normal" text-anchor="start" style='font-family:"Liberation Sans",sans-serif'  textLength="47" lengthAdjust="spacingAndGlyphs">V-Cu: vacancy Cu</text>
<circle cx="38.8" cy="585.7" r="32.699999999999996" fill="#a01414"/>
<circle cx="38.4" cy="554.7" r="1.35" fill="#ecdc00" stroke="#b0a000" stroke-width="0.3"/>
<circle cx="41.9" cy="555.8" r="1.35" fill="#ecdc00" stroke="#b0a000" stroke-width="0.3"/>
<circle cx="28.3" cy="556.4" r="1.35" fill="#ecdc00" stroke="#b0a000" stroke-width="0.3"/>
<circle cx="37.0" cy="556.6" r="1.6" fill="#b01818" stroke="#700a0a" stroke-width="0.3"/>
<circle cx="45.9" cy="556.8" r="1.35" fill="#ecdc00" stroke="#b0a000" stroke-width="0.3"/>
<circle cx="32.0" cy="557.3" r="1.35" fill="#ecdc00" stroke="#b0a000" stroke-width="0.3"/>
<circle cx="49.6" cy="557.7" r="1.35" fill="#ecdc00" stroke="#b0a000" stroke-width="0.3"/>
<circle cx="40.5" cy="557.7" r="1.6" fill="#b01818" stroke="#700a0a" stroke-width="0.3"/>
<circle cx="35.9" cy="558.2" r="1.35" fill="#ecdc00" stroke="#b0a000" stroke-width="0.3"/>
<circle cx="53.3" cy="558.3" r="1.35" fill="#ecdc00" stroke="#b0a000" stroke-width="0.3"/>
<circle cx="26.9" cy="558.3" r="1.6" fill="#b01818" stroke="#700a0a" stroke-width="0.3"/>
<circle cx="22.2" cy="558.5" r="1.35" fill="#ecdc00" stroke="#b0a000" stroke-width="0.3"/>
<circle cx="44.5" cy="558.7" r="1.6" fill="#b01818" stroke="#700a0a" stroke-width="0.3"/>
<circle cx="39.8" cy="559.0" r="1.6" fill="#ffffff" stroke="#b0b0b0" stroke-width="0.3"/>
<circle cx="30.6" cy="559.2" r="1.6" fill="#b01818" stroke="#700a0a" stroke-width="0.3"/>
<circle cx="57.4" cy="559.2" r="1.35" fill="#ecdc00" stroke="#b0a000" stroke-width="0.3"/>
<circle cx="25.8" cy="559.4" r="1.35" fill="#ecdc00" stroke="#b0a000" stroke-width="0.3"/>
<circle cx="48.2" cy="559.6" r="1.6" fill="#b01818" stroke="#700a0a" stroke-width="0.3"/>
<circle cx="43.6" cy="560.0" r="1.35" fill="#ecdc00" stroke="#b0a000" stroke-width="0.3"/>
<circle cx="34.5" cy="560.1" r="1.6" fill="#b01818" stroke="#700a0a" stroke-width="0.3"/>
<circle cx="51.9" cy="560.2" r="1.6" fill="#b01818" stroke="#700a0a" stroke-width="0.3"/>
<circle cx="20.8" cy="560.4" r="1.6" fill="#b01818" stroke="#700a0a" stroke-width="0.3"/>
<circle cx="29.8" cy="560.5" r="1.35" fill="#ecdc00" stroke="#b0a000" stroke-width="0.3"/>
<circle cx="47.2" cy="560.7" r="1.35" fill="#ecdc00" stroke="#b0a000" stroke-width="0.3"/>
<circle cx="38.4" cy="560.9" r="1.6" fill="#b01818" stroke="#700a0a" stroke-width="0.3"/>
<circle cx="56.0" cy="561.1" r="1.6" fill="#b01818" stroke="#700a0a" stroke-width="0.3"/>
<circle cx="33.7" cy="561.2" r="1.35" fill="#ecdc00" stroke="#b0a000" stroke-width="0.3"/>
<circle cx="24.4" cy="561.3" r="1.6" fill="#b01818" stroke="#700a0a" stroke-width="0.3"/>
<circle cx="51.1" cy="561.7" r="1.35" fill="#ecdc00" stroke="#b0a000" stroke-width="0.3"/>
<circle cx="19.8" cy="561.9" r="1.35" fill="#ecdc00" stroke="#b0a000" stroke-width="0.3"/>
<circle cx="42.2" cy="561.9" r="1.6" fill="#b01818" stroke="#700a0a" stroke-width="0.3"/>
<circle cx="37.5" cy="562.2" r="1.35" fill="#ecdc00" stroke="#b0a000" stroke-width="0.3"/>
<circle cx="28.4" cy="562.4" r="1.6" fill="#b01818" stroke="#700a0a" stroke-width="0.3"/>
<circle cx="45.8" cy="562.6" r="1.6" fill="#b01818" stroke="#700a0a" stroke-width="0.3"/>
<circle cx="54.9" cy="562.6" r="1.35" fill="#ecdc00" stroke="#b0a000" stroke-width="0.3"/>
<circle cx="23.7" cy="562.9" r="1.35" fill="#ecdc00" stroke="#b0a000" stroke-width="0.3"/>
<circle cx="32.3" cy="563.1" r="1.6" fill="#b01818" stroke="#700a0a" stroke-width="0.3"/>
<circle cx="41.2" cy="563.1" r="1.35" fill="#ecdc00" stroke="#b0a000" stroke-width="0.3"/>
<circle cx="49.7" cy="563.6" r="1.6" fill="#b01818" stroke="#700a0a" stroke-width="0.3"/>
<circle cx="58.6" cy="563.7" r="1.35" fill="#ecdc00" stroke="#b0a000" stroke-width="0.3"/>
<circle cx="18.4" cy="563.8" r="1.6" fill="#b01818" stroke="#700a0a" stroke-width="0.3"/>
<circle cx="27.3" cy="563.9" r="1.35" fill="#ecdc00" stroke="#b0a000" stroke-width="0.3"/>
<circle cx="36.1" cy="564.1" r="1.6" fill="#b01818" stroke="#700a0a" stroke-width="0.3"/>
<circle cx="44.9" cy="564.2" r="1.35" fill="#ecdc00" stroke="#b0a000" stroke-width="0.3"/>
<circle cx="62.5" cy="564.4" r="1.35" fill="#ecdc00" stroke="#b0a000" stroke-width="0.3"/>
<circle cx="53.5" cy="564.5" r="1.6" fill="#b01818" stroke="#700a0a" stroke-width="0.3"/>
<circle cx="22.3" cy="564.8" r="1.6" fill="#b01818" stroke="#700a0a" stroke-width="0.3"/>
<circle cx="31.5" cy="564.8" r="1.6" fill="#ffffff" stroke="#b0b0b0" stroke-width="0.3"/>
<circle cx="39.8" cy="565.0" r="1.6" fill="#b01818" stroke="#700a0a" stroke-width="0.3"/>
<circle cx="48.7" cy="565.2" r="1.35" fill="#ecdc00" stroke="#b0a000" stroke-width="0.3"/>
<circle cx="17.5" cy="565.5" r="1.35" fill="#ecdc00" stroke="#b0a000" stroke-width="0.3"/>
<circle cx="35.1" cy="565.6" r="1.35" fill="#ecdc00" stroke="#b0a000" stroke-width="0.3"/>
<circle cx="57.2" cy="565.6" r="1.6" fill="#b01818" stroke="#700a0a" stroke-width="0.3"/>
<circle cx="25.9" cy="565.8" r="1.6" fill="#b01818" stroke="#700a0a" stroke-width="0.3"/>
<circle cx="52.7" cy="566.1" r="1.35" fill="#ecdc00" stroke="#b0a000" stroke-width="0.3"/>
<circle cx="43.5" cy="566.1" r="1.6" fill="#b01818" stroke="#700a0a" stroke-width="0.3"/>
<circle cx="21.5" cy="566.3" r="1.35" fill="#ecdc00" stroke="#b0a000" stroke-width="0.3"/>
<circle cx="61.1" cy="566.3" r="1.6" fill="#b01818" stroke="#700a0a" stroke-width="0.3"/>
<circle cx="38.9" cy="566.4" r="1.35" fill="#ecdc00" stroke="#b0a000" stroke-width="0.3"/>
<circle cx="30.1" cy="566.7" r="1.6" fill="#b01818" stroke="#700a0a" stroke-width="0.3"/>
<circle cx="56.3" cy="566.9" r="1.35" fill="#ecdc00" stroke="#b0a000" stroke-width="0.3"/>
<circle cx="25.4" cy="567.0" r="1.35" fill="#ecdc00" stroke="#b0a000" stroke-width="0.3"/>
<circle cx="47.3" cy="567.1" r="1.6" fill="#b01818" stroke="#700a0a" stroke-width="0.3"/>
<circle cx="16.1" cy="567.4" r="1.6" fill="#b01818" stroke="#700a0a" stroke-width="0.3"/>
<circle cx="33.7" cy="567.5" r="1.6" fill="#b01818" stroke="#700a0a" stroke-width="0.3"/>
<circle cx="42.6" cy="567.5" r="1.35" fill="#ecdc00" stroke="#b0a000" stroke-width="0.3"/>
<circle cx="60.0" cy="567.8" r="1.35" fill="#ecdc00" stroke="#b0a000" stroke-width="0.3"/>
<circle cx="51.3" cy="568.0" r="1.6" fill="#b01818" stroke="#700a0a" stroke-width="0.3"/>
<circle cx="29.1" cy="568.1" r="1.35" fill="#ecdc00" stroke="#b0a000" stroke-width="0.3"/>
<circle cx="46.4" cy="568.1" r="1.35" fill="#ecdc00" stroke="#b0a000" stroke-width="0.3"/>
<circle cx="20.1" cy="568.2" r="1.6" fill="#b01818" stroke="#700a0a" stroke-width="0.3"/>
<circle cx="37.5" cy="568.3" r="1.6" fill="#b01818" stroke="#700a0a" stroke-width="0.3"/>
<circle cx="63.8" cy="568.4" r="1.35" fill="#ecdc00" stroke="#b0a000" stroke-width="0.3"/>
<circle cx="15.4" cy="568.6" r="1.35" fill="#ecdc00" stroke="#b0a000" stroke-width="0.3"/>
<circle cx="32.8" cy="568.7" r="1.35" fill="#ecdc00" stroke="#b0a000" stroke-width="0.3"/>
<circle cx="54.9" cy="568.8" r="1.6" fill="#b01818" stroke="#700a0a" stroke-width="0.3"/>
<circle cx="24.0" cy="568.9" r="1.6" fill="#b01818" stroke="#700a0a" stroke-width="0.3"/>
<circle cx="50.5" cy="569.3" r="1.35" fill="#ecdc00" stroke="#b0a000" stroke-width="0.3"/>
<circle cx="41.2" cy="569.4" r="1.6" fill="#b01818" stroke="#700a0a" stroke-width="0.3"/>
<circle cx="58.6" cy="569.7" r="1.6" fill="#b01818" stroke="#700a0a" stroke-width="0.3"/>
<circle cx="18.9" cy="569.7" r="1.35" fill="#ecdc00" stroke="#b0a000" stroke-width="0.3"/>
<circle cx="36.4" cy="569.8" r="1.35" fill="#ecdc00" stroke="#b0a000" stroke-width="0.3"/>
<circle cx="27.7" cy="570.0" r="1.6" fill="#b01818" stroke="#700a0a" stroke-width="0.3"/>
<circle cx="45.0" cy="570.0" r="1.6" fill="#b01818" stroke="#700a0a" stroke-width="0.3"/>
<circle cx="54.0" cy="570.0" r="1.6" fill="#ffffff" stroke="#b0b0b0" stroke-width="0.3"/>
<circle cx="22.9" cy="570.2" r="1.35" fill="#ecdc00" stroke="#b0a000" stroke-width="0.3"/>
<circle cx="62.4" cy="570.3" r="1.6" fill="#b01818" stroke="#700a0a" stroke-width="0.3"/>
<circle cx="14.0" cy="570.5" r="1.6" fill="#b01818" stroke="#700a0a" stroke-width="0.3"/>
<circle cx="31.4" cy="570.6" r="1.6" fill="#b01818" stroke="#700a0a" stroke-width="0.3"/>
<circle cx="40.3" cy="570.8" r="1.35" fill="#ecdc00" stroke="#b0a000" stroke-width="0.3"/>
<circle cx="57.9" cy="571.0" r="1.35" fill="#ecdc00" stroke="#b0a000" stroke-width="0.3"/>
<circle cx="49.1" cy="571.2" r="1.6" fill="#b01818" stroke="#700a0a" stroke-width="0.3"/>
<circle cx="26.8" cy="571.4" r="1.35" fill="#ecdc00" stroke="#b0a000" stroke-width="0.3"/>
<circle cx="17.5" cy="571.6" r="1.6" fill="#b01818" stroke="#700a0a" stroke-width="0.3"/>
<circle cx="35.0" cy="571.7" r="1.6" fill="#b01818" stroke="#700a0a" stroke-width="0.3"/>
<circle cx="44.3" cy="571.7" r="1.35" fill="#ecdc00" stroke="#b0a000" stroke-width="0.3"/>
<circle cx="61.7" cy="571.9" r="1.35" fill="#ecdc00" stroke="#b0a000" stroke-width="0.3"/>
<circle cx="52.6" cy="571.9" r="1.6" fill="#b01818" stroke="#700a0a" stroke-width="0.3"/>
<circle cx="13.0" cy="572.0" r="1.35" fill="#ecdc00" stroke="#b0a000" stroke-width="0.3"/>
<circle cx="21.5" cy="572.1" r="1.6" fill="#b01818" stroke="#700a0a" stroke-width="0.3"/>
<circle cx="30.5" cy="572.2" r="1.35" fill="#ecdc00" stroke="#b0a000" stroke-width="0.3"/>
<circle cx="48.1" cy="572.5" r="1.35" fill="#ecdc00" stroke="#b0a000" stroke-width="0.3"/>
<circle cx="65.6" cy="572.6" r="1.35" fill="#ecdc00" stroke="#b0a000" stroke-width="0.3"/>
<circle cx="38.9" cy="572.7" r="1.6" fill="#b01818" stroke="#700a0a" stroke-width="0.3"/>
<circle cx="16.7" cy="572.9" r="1.35" fill="#ecdc00" stroke="#b0a000" stroke-width="0.3"/>
<circle cx="56.5" cy="572.9" r="1.6" fill="#b01818" stroke="#700a0a" stroke-width="0.3"/>
<circle cx="34.4" cy="573.1" r="1.35" fill="#ecdc00" stroke="#b0a000" stroke-width="0.3"/>
<circle cx="51.7" cy="573.3" r="1.35" fill="#ecdc00" stroke="#b0a000" stroke-width="0.3"/>
<circle cx="25.4" cy="573.3" r="1.6" fill="#b01818" stroke="#700a0a" stroke-width="0.3"/>
<circle cx="42.9" cy="573.6" r="1.6" fill="#b01818" stroke="#700a0a" stroke-width="0.3"/>
<circle cx="60.3" cy="573.8" r="1.6" fill="#b01818" stroke="#700a0a" stroke-width="0.3"/>
<circle cx="20.7" cy="573.9" r="1.35" fill="#ecdc00" stroke="#b0a000" stroke-width="0.3"/>
<circle cx="11.6" cy="573.9" r="1.6" fill="#b01818" stroke="#700a0a" stroke-width="0.3"/>
<circle cx="37.9" cy="574.0" r="1.35" fill="#ecdc00" stroke="#b0a000" stroke-width="0.3"/>
<circle cx="29.1" cy="574.1" r="1.6" fill="#b01818" stroke="#700a0a" stroke-width="0.3"/>
<circle cx="46.7" cy="574.4" r="1.6" fill="#b01818" stroke="#700a0a" stroke-width="0.3"/>
<circle cx="55.4" cy="574.5" r="1.35" fill="#ecdc00" stroke="#b0a000" stroke-width="0.3"/>
<circle cx="64.2" cy="574.5" r="1.6" fill="#b01818" stroke="#700a0a" stroke-width="0.3"/>
<circle cx="24.4" cy="574.8" r="1.35" fill="#ecdc00" stroke="#b0a000" stroke-width="0.3"/>
<circle cx="15.3" cy="574.8" r="1.6" fill="#b01818" stroke="#700a0a" stroke-width="0.3"/>
<circle cx="41.9" cy="574.9" r="1.35" fill="#ecdc00" stroke="#b0a000" stroke-width="0.3"/>
<circle cx="33.0" cy="575.0" r="1.6" fill="#b01818" stroke="#700a0a" stroke-width="0.3"/>
<circle cx="59.3" cy="575.1" r="1.35" fill="#ecdc00" stroke="#b0a000" stroke-width="0.3"/>
<circle cx="10.8" cy="575.2" r="1.35" fill="#ecdc00" stroke="#b0a000" stroke-width="0.3"/>
<circle cx="50.3" cy="575.2" r="1.6" fill="#b01818" stroke="#700a0a" stroke-width="0.3"/>
<circle cx="28.2" cy="575.3" r="1.35" fill="#ecdc00" stroke="#b0a000" stroke-width="0.3"/>
<circle cx="19.3" cy="575.8" r="1.6" fill="#b01818" stroke="#700a0a" stroke-width="0.3"/>
<circle cx="45.9" cy="575.9" r="1.6" fill="#ffffff" stroke="#b0b0b0" stroke-width="0.3"/>
<circle cx="36.5" cy="575.9" r="1.6" fill="#b01818" stroke="#700a0a" stroke-width="0.3"/>
<circle cx="14.6" cy="576.1" r="1.35" fill="#ecdc00" stroke="#b0a000" stroke-width="0.3"/>
<circle cx="32.0" cy="576.2" r="1.35" fill="#ecdc00" stroke="#b0a000" stroke-width="0.3"/>
<circle cx="63.1" cy="576.3" r="1.35" fill="#ecdc00" stroke="#b0a000" stroke-width="0.3"/>
<circle cx="54.0" cy="576.4" r="1.6" fill="#b01818" stroke="#700a0a" stroke-width="0.3"/>
<circle cx="23.0" cy="576.7" r="1.6" fill="#b01818" stroke="#700a0a" stroke-width="0.3"/>
<circle cx="49.7" cy="576.7" r="1.35" fill="#ecdc00" stroke="#b0a000" stroke-width="0.3"/>
<circle cx="40.5" cy="576.8" r="1.6" fill="#b01818" stroke="#700a0a" stroke-width="0.3"/>
<circle cx="57.9" cy="577.0" r="1.6" fill="#b01818" stroke="#700a0a" stroke-width="0.3"/>
<circle cx="66.9" cy="577.0" r="1.35" fill="#ecdc00" stroke="#b0a000" stroke-width="0.3"/>
<circle cx="9.4" cy="577.1" r="1.6" fill="#b01818" stroke="#700a0a" stroke-width="0.3"/>
<circle cx="18.5" cy="577.1" r="1.35" fill="#ecdc00" stroke="#b0a000" stroke-width="0.3"/>
<circle cx="26.8" cy="577.2" r="1.6" fill="#b01818" stroke="#700a0a" stroke-width="0.3"/>
<circle cx="35.9" cy="577.5" r="1.35" fill="#ecdc00" stroke="#b0a000" stroke-width="0.3"/>
<circle cx="53.4" cy="577.5" r="1.35" fill="#ecdc00" stroke="#b0a000" stroke-width="0.3"/>
<circle cx="44.5" cy="577.8" r="1.6" fill="#b01818" stroke="#700a0a" stroke-width="0.3"/>
<circle cx="13.2" cy="578.0" r="1.6" fill="#b01818" stroke="#700a0a" stroke-width="0.3"/>
<circle cx="22.2" cy="578.0" r="1.35" fill="#ecdc00" stroke="#b0a000" stroke-width="0.3"/>
<circle cx="39.8" cy="578.1" r="1.35" fill="#ecdc00" stroke="#b0a000" stroke-width="0.3"/>
<circle cx="30.6" cy="578.1" r="1.6" fill="#b01818" stroke="#700a0a" stroke-width="0.3"/>
<circle cx="61.7" cy="578.2" r="1.6" fill="#b01818" stroke="#700a0a" stroke-width="0.3"/>
<circle cx="8.3" cy="578.5" r="1.6" fill="#ffffff" stroke="#b0b0b0" stroke-width="0.3"/>
<circle cx="57.0" cy="578.6" r="1.35" fill="#ecdc00" stroke="#b0a000" stroke-width="0.3"/>
<circle cx="48.3" cy="578.6" r="1.6" fill="#b01818" stroke="#700a0a" stroke-width="0.3"/>
<circle cx="26.0" cy="578.8" r="1.35" fill="#ecdc00" stroke="#b0a000" stroke-width="0.3"/>
<circle cx="65.5" cy="578.9" r="1.6" fill="#b01818" stroke="#700a0a" stroke-width="0.3"/>
<circle cx="17.1" cy="579.0" r="1.6" fill="#b01818" stroke="#700a0a" stroke-width="0.3"/>
<circle cx="43.6" cy="579.2" r="1.35" fill="#ecdc00" stroke="#b0a000" stroke-width="0.3"/>
<circle cx="12.1" cy="579.3" r="1.35" fill="#ecdc00" stroke="#b0a000" stroke-width="0.3"/>
<circle cx="34.5" cy="579.4" r="1.6" fill="#b01818" stroke="#700a0a" stroke-width="0.3"/>
<circle cx="52.0" cy="579.4" r="1.6" fill="#b01818" stroke="#700a0a" stroke-width="0.3"/>
<circle cx="61.0" cy="579.5" r="1.35" fill="#ecdc00" stroke="#b0a000" stroke-width="0.3"/>
<circle cx="29.7" cy="579.8" r="1.35" fill="#ecdc00" stroke="#b0a000" stroke-width="0.3"/>
<circle cx="47.0" cy="579.9" r="1.35" fill="#ecdc00" stroke="#b0a000" stroke-width="0.3"/>
<circle cx="20.8" cy="579.9" r="1.6" fill="#b01818" stroke="#700a0a" stroke-width="0.3"/>
<circle cx="38.4" cy="580.0" r="1.6" fill="#b01818" stroke="#700a0a" stroke-width="0.3"/>
<circle cx="16.0" cy="580.2" r="1.35" fill="#ecdc00" stroke="#b0a000" stroke-width="0.3"/>
<circle cx="64.8" cy="580.3" r="1.35" fill="#ecdc00" stroke="#b0a000" stroke-width="0.3"/>
<circle cx="6.9" cy="580.4" r="1.6" fill="#b01818" stroke="#700a0a" stroke-width="0.3"/>
<circle cx="55.6" cy="580.5" r="1.6" fill="#b01818" stroke="#700a0a" stroke-width="0.3"/>
<circle cx="33.3" cy="580.6" r="1.35" fill="#ecdc00" stroke="#b0a000" stroke-width="0.3"/>
<circle cx="24.6" cy="580.7" r="1.6" fill="#b01818" stroke="#700a0a" stroke-width="0.3"/>
<circle cx="19.9" cy="581.0" r="1.35" fill="#ecdc00" stroke="#b0a000" stroke-width="0.3"/>
<circle cx="50.8" cy="581.1" r="1.35" fill="#ecdc00" stroke="#b0a000" stroke-width="0.3"/>
<circle cx="42.2" cy="581.1" r="1.6" fill="#b01818" stroke="#700a0a" stroke-width="0.3"/>
<circle cx="10.7" cy="581.2" r="1.6" fill="#b01818" stroke="#700a0a" stroke-width="0.3"/>
<circle cx="68.4" cy="581.3" r="1.35" fill="#ecdc00" stroke="#b0a000" stroke-width="0.3"/>
<circle cx="59.6" cy="581.4" r="1.6" fill="#b01818" stroke="#700a0a" stroke-width="0.3"/>
<circle cx="37.3" cy="581.6" r="1.35" fill="#ecdc00" stroke="#b0a000" stroke-width="0.3"/>
<circle cx="28.3" cy="581.7" r="1.6" fill="#b01818" stroke="#700a0a" stroke-width="0.3"/>
<circle cx="45.6" cy="581.8" r="1.6" fill="#b01818" stroke="#700a0a" stroke-width="0.3"/>
<circle cx="54.7" cy="581.9" r="1.35" fill="#ecdc00" stroke="#b0a000" stroke-width="0.3"/>
<circle cx="14.6" cy="582.1" r="1.6" fill="#b01818" stroke="#700a0a" stroke-width="0.3"/>
<circle cx="23.4" cy="582.2" r="1.35" fill="#ecdc00" stroke="#b0a000" stroke-width="0.3"/>
<circle cx="63.4" cy="582.2" r="1.6" fill="#b01818" stroke="#700a0a" stroke-width="0.3"/>
<circle cx="41.1" cy="582.4" r="1.35" fill="#ecdc00" stroke="#b0a000" stroke-width="0.3"/>
<circle cx="31.9" cy="582.5" r="1.6" fill="#b01818" stroke="#700a0a" stroke-width="0.3"/>
<circle cx="9.8" cy="582.6" r="1.35" fill="#ecdc00" stroke="#b0a000" stroke-width="0.3"/>
<circle cx="58.6" cy="582.8" r="1.35" fill="#ecdc00" stroke="#b0a000" stroke-width="0.3"/>
<circle cx="18.5" cy="582.9" r="1.6" fill="#b01818" stroke="#700a0a" stroke-width="0.3"/>
<circle cx="49.4" cy="583.0" r="1.6" fill="#b01818" stroke="#700a0a" stroke-width="0.3"/>
<circle cx="27.5" cy="583.0" r="1.35" fill="#ecdc00" stroke="#b0a000" stroke-width="0.3"/>
<circle cx="67.0" cy="583.2" r="1.6" fill="#b01818" stroke="#700a0a" stroke-width="0.3"/>
<circle cx="44.8" cy="583.3" r="1.35" fill="#ecdc00" stroke="#b0a000" stroke-width="0.3"/>
<circle cx="35.9" cy="583.5" r="1.6" fill="#b01818" stroke="#700a0a" stroke-width="0.3"/>
<circle cx="13.7" cy="583.6" r="1.35" fill="#ecdc00" stroke="#b0a000" stroke-width="0.3"/>
<circle cx="62.2" cy="583.8" r="1.35" fill="#ecdc00" stroke="#b0a000" stroke-width="0.3"/>
<circle cx="53.3" cy="583.8" r="1.6" fill="#b01818" stroke="#700a0a" stroke-width="0.3"/>
<circle cx="31.2" cy="583.8" r="1.35" fill="#ecdc00" stroke="#b0a000" stroke-width="0.3"/>
<circle cx="22.0" cy="584.1" r="1.6" fill="#b01818" stroke="#700a0a" stroke-width="0.3"/>
<circle cx="48.8" cy="584.2" r="1.35" fill="#ecdc00" stroke="#b0a000" stroke-width="0.3"/>
<circle cx="39.7" cy="584.3" r="1.6" fill="#b01818" stroke="#700a0a" stroke-width="0.3"/>
<circle cx="17.6" cy="584.4" r="1.35" fill="#ecdc00" stroke="#b0a000" stroke-width="0.3"/>
<circle cx="66.4" cy="584.4" r="1.35" fill="#ecdc00" stroke="#b0a000" stroke-width="0.3"/>
<circle cx="8.4" cy="584.5" r="1.6" fill="#b01818" stroke="#700a0a" stroke-width="0.3"/>
<circle cx="57.2" cy="584.7" r="1.6" fill="#b01818" stroke="#700a0a" stroke-width="0.3"/>
<circle cx="34.9" cy="584.8" r="1.6" fill="#ffffff" stroke="#b0b0b0" stroke-width="0.3"/>
<circle cx="26.1" cy="584.9" r="1.6" fill="#b01818" stroke="#700a0a" stroke-width="0.3"/>
<circle cx="52.5" cy="585.0" r="1.35" fill="#ecdc00" stroke="#b0a000" stroke-width="0.3"/>
<circle cx="43.4" cy="585.2" r="1.6" fill="#b01818" stroke="#700a0a" stroke-width="0.3"/>
<circle cx="21.4" cy="585.3" r="1.35" fill="#ecdc00" stroke="#b0a000" stroke-width="0.3"/>
<circle cx="69.8" cy="585.3" r="1.35" fill="#ecdc00" stroke="#b0a000" stroke-width="0.3"/>
<circle cx="12.3" cy="585.5" r="1.6" fill="#b01818" stroke="#700a0a" stroke-width="0.3"/>
<circle cx="38.6" cy="585.6" r="1.35" fill="#ecdc00" stroke="#b0a000" stroke-width="0.3"/>
<circle cx="60.8" cy="585.7" r="1.6" fill="#b01818" stroke="#700a0a" stroke-width="0.3"/>
<circle cx="29.8" cy="585.7" r="1.6" fill="#b01818" stroke="#700a0a" stroke-width="0.3"/>
<circle cx="56.4" cy="585.8" r="1.6" fill="#ffffff" stroke="#b0b0b0" stroke-width="0.3"/>
<circle cx="7.5" cy="586.0" r="1.35" fill="#ecdc00" stroke="#b0a000" stroke-width="0.3"/>
<circle cx="47.4" cy="586.1" r="1.6" fill="#b01818" stroke="#700a0a" stroke-width="0.3"/>
<circle cx="16.2" cy="586.3" r="1.6" fill="#b01818" stroke="#700a0a" stroke-width="0.3"/>
<circle cx="24.9" cy="586.3" r="1.35" fill="#ecdc00" stroke="#b0a000" stroke-width="0.3"/>
<circle cx="65.0" cy="586.3" r="1.6" fill="#b01818" stroke="#700a0a" stroke-width="0.3"/>
<circle cx="42.6" cy="586.5" r="1.35" fill="#ecdc00" stroke="#b0a000" stroke-width="0.3"/>
<circle cx="33.5" cy="586.7" r="1.6" fill="#b01818" stroke="#700a0a" stroke-width="0.3"/>
<circle cx="51.1" cy="586.9" r="1.6" fill="#b01818" stroke="#700a0a" stroke-width="0.3"/>
<circle cx="60.1" cy="586.9" r="1.35" fill="#ecdc00" stroke="#b0a000" stroke-width="0.3"/>
<circle cx="11.2" cy="587.0" r="1.35" fill="#ecdc00" stroke="#b0a000" stroke-width="0.3"/>
<circle cx="20.0" cy="587.2" r="1.6" fill="#b01818" stroke="#700a0a" stroke-width="0.3"/>
<circle cx="68.4" cy="587.2" r="1.6" fill="#b01818" stroke="#700a0a" stroke-width="0.3"/>
<circle cx="29.1" cy="587.4" r="1.35" fill="#ecdc00" stroke="#b0a000" stroke-width="0.3"/>
<circle cx="37.2" cy="587.5" r="1.6" fill="#b01818" stroke="#700a0a" stroke-width="0.3"/>
<circle cx="46.2" cy="587.6" r="1.35" fill="#ecdc00" stroke="#b0a000" stroke-width="0.3"/>
<circle cx="55.0" cy="587.7" r="1.6" fill="#b01818" stroke="#700a0a" stroke-width="0.3"/>
<circle cx="15.2" cy="587.8" r="1.35" fill="#ecdc00" stroke="#b0a000" stroke-width="0.3"/>
<circle cx="64.1" cy="587.8" r="1.35" fill="#ecdc00" stroke="#b0a000" stroke-width="0.3"/>
<circle cx="32.5" cy="588.2" r="1.35" fill="#ecdc00" stroke="#b0a000" stroke-width="0.3"/>
<circle cx="23.5" cy="588.2" r="1.6" fill="#b01818" stroke="#700a0a" stroke-width="0.3"/>
<circle cx="50.1" cy="588.3" r="1.35" fill="#ecdc00" stroke="#b0a000" stroke-width="0.3"/>
<circle cx="41.2" cy="588.4" r="1.6" fill="#b01818" stroke="#700a0a" stroke-width="0.3"/>
<circle cx="19.1" cy="588.8" r="1.35" fill="#ecdc00" stroke="#b0a000" stroke-width="0.3"/>
<circle cx="58.7" cy="588.8" r="1.6" fill="#b01818" stroke="#700a0a" stroke-width="0.3"/>
<circle cx="67.6" cy="588.9" r="1.35" fill="#ecdc00" stroke="#b0a000" stroke-width="0.3"/>
<circle cx="9.8" cy="588.9" r="1.6" fill="#b01818" stroke="#700a0a" stroke-width="0.3"/>
<circle cx="36.6" cy="589.2" r="1.35" fill="#ecdc00" stroke="#b0a000" stroke-width="0.3"/>
<circle cx="27.7" cy="589.3" r="1.6" fill="#b01818" stroke="#700a0a" stroke-width="0.3"/>
<circle cx="54.1" cy="589.3" r="1.35" fill="#ecdc00" stroke="#b0a000" stroke-width="0.3"/>
<circle cx="44.8" cy="589.5" r="1.6" fill="#b01818" stroke="#700a0a" stroke-width="0.3"/>
<circle cx="13.8" cy="589.7" r="1.6" fill="#b01818" stroke="#700a0a" stroke-width="0.3"/>
<circle cx="23.0" cy="589.7" r="1.35" fill="#ecdc00" stroke="#b0a000" stroke-width="0.3"/>
<circle cx="40.3" cy="589.7" r="1.35" fill="#ecdc00" stroke="#b0a000" stroke-width="0.3"/>
<circle cx="62.7" cy="589.7" r="1.6" fill="#b01818" stroke="#700a0a" stroke-width="0.3"/>
<circle cx="57.9" cy="590.0" r="1.35" fill="#ecdc00" stroke="#b0a000" stroke-width="0.3"/>
<circle cx="31.1" cy="590.1" r="1.6" fill="#b01818" stroke="#700a0a" stroke-width="0.3"/>
<circle cx="48.7" cy="590.2" r="1.6" fill="#b01818" stroke="#700a0a" stroke-width="0.3"/>
<circle cx="9.0" cy="590.2" r="1.35" fill="#ecdc00" stroke="#b0a000" stroke-width="0.3"/>
<circle cx="26.5" cy="590.6" r="1.35" fill="#ecdc00" stroke="#b0a000" stroke-width="0.3"/>
<circle cx="17.7" cy="590.7" r="1.6" fill="#b01818" stroke="#700a0a" stroke-width="0.3"/>
<circle cx="66.2" cy="590.8" r="1.6" fill="#b01818" stroke="#700a0a" stroke-width="0.3"/>
<circle cx="12.8" cy="590.9" r="1.35" fill="#ecdc00" stroke="#b0a000" stroke-width="0.3"/>
<circle cx="43.9" cy="590.9" r="1.35" fill="#ecdc00" stroke="#b0a000" stroke-width="0.3"/>
<circle cx="35.2" cy="591.1" r="1.6" fill="#b01818" stroke="#700a0a" stroke-width="0.3"/>
<circle cx="61.8" cy="591.2" r="1.35" fill="#ecdc00" stroke="#b0a000" stroke-width="0.3"/>
<circle cx="52.7" cy="591.2" r="1.6" fill="#b01818" stroke="#700a0a" stroke-width="0.3"/>
<circle cx="30.4" cy="591.6" r="1.35" fill="#ecdc00" stroke="#b0a000" stroke-width="0.3"/>
<circle cx="47.7" cy="591.6" r="1.35" fill="#ecdc00" stroke="#b0a000" stroke-width="0.3"/>
<circle cx="21.6" cy="591.6" r="1.6" fill="#b01818" stroke="#700a0a" stroke-width="0.3"/>
<circle cx="38.9" cy="591.6" r="1.6" fill="#b01818" stroke="#700a0a" stroke-width="0.3"/>
<circle cx="65.3" cy="591.9" r="1.35" fill="#ecdc00" stroke="#b0a000" stroke-width="0.3"/>
<circle cx="56.5" cy="591.9" r="1.6" fill="#b01818" stroke="#700a0a" stroke-width="0.3"/>
<circle cx="16.6" cy="592.0" r="1.35" fill="#ecdc00" stroke="#b0a000" stroke-width="0.3"/>
<circle cx="7.6" cy="592.1" r="1.6" fill="#b01818" stroke="#700a0a" stroke-width="0.3"/>
<circle cx="34.4" cy="592.3" r="1.35" fill="#ecdc00" stroke="#b0a000" stroke-width="0.3"/>
<circle cx="25.1" cy="592.5" r="1.6" fill="#b01818" stroke="#700a0a" stroke-width="0.3"/>
<circle cx="69.3" cy="592.7" r="1.35" fill="#ecdc00" stroke="#b0a000" stroke-width="0.3"/>
<circle cx="51.7" cy="592.8" r="1.35" fill="#ecdc00" stroke="#b0a000" stroke-width="0.3"/>
<circle cx="11.4" cy="592.8" r="1.6" fill="#b01818" stroke="#700a0a" stroke-width="0.3"/>
<circle cx="42.5" cy="592.8" r="1.6" fill="#b01818" stroke="#700a0a" stroke-width="0.3"/>
<circle cx="20.5" cy="593.0" r="1.35" fill="#ecdc00" stroke="#b0a000" stroke-width="0.3"/>
<circle cx="60.4" cy="593.1" r="1.6" fill="#b01818" stroke="#700a0a" stroke-width="0.3"/>
<circle cx="38.1" cy="593.2" r="1.35" fill="#ecdc00" stroke="#b0a000" stroke-width="0.3"/>
<circle cx="29.0" cy="593.5" r="1.6" fill="#b01818" stroke="#700a0a" stroke-width="0.3"/>
<circle cx="46.3" cy="593.5" r="1.6" fill="#b01818" stroke="#700a0a" stroke-width="0.3"/>
<circle cx="55.6" cy="593.5" r="1.35" fill="#ecdc00" stroke="#b0a000" stroke-width="0.3"/>
<circle cx="24.3" cy="593.7" r="1.35" fill="#ecdc00" stroke="#b0a000" stroke-width="0.3"/>
<circle cx="63.9" cy="593.8" r="1.6" fill="#b01818" stroke="#700a0a" stroke-width="0.3"/>
<circle cx="15.2" cy="593.9" r="1.6" fill="#b01818" stroke="#700a0a" stroke-width="0.3"/>
<circle cx="42.0" cy="594.0" r="1.35" fill="#ecdc00" stroke="#b0a000" stroke-width="0.3"/>
<circle cx="33.0" cy="594.2" r="1.6" fill="#b01818" stroke="#700a0a" stroke-width="0.3"/>
<circle cx="10.6" cy="594.3" r="1.35" fill="#ecdc00" stroke="#b0a000" stroke-width="0.3"/>
<circle cx="59.1" cy="594.3" r="1.35" fill="#ecdc00" stroke="#b0a000" stroke-width="0.3"/>
<circle cx="28.1" cy="594.5" r="1.35" fill="#ecdc00" stroke="#b0a000" stroke-width="0.3"/>
<circle cx="67.9" cy="594.6" r="1.6" fill="#b01818" stroke="#700a0a" stroke-width="0.3"/>
<circle cx="50.3" cy="594.7" r="1.6" fill="#b01818" stroke="#700a0a" stroke-width="0.3"/>
<circle cx="19.1" cy="594.9" r="1.6" fill="#b01818" stroke="#700a0a" stroke-width="0.3"/>
<circle cx="45.5" cy="595.0" r="1.35" fill="#ecdc00" stroke="#b0a000" stroke-width="0.3"/>
<circle cx="36.7" cy="595.1" r="1.6" fill="#b01818" stroke="#700a0a" stroke-width="0.3"/>
<circle cx="63.0" cy="595.3" r="1.35" fill="#ecdc00" stroke="#b0a000" stroke-width="0.3"/>
<circle cx="14.6" cy="595.4" r="1.35" fill="#ecdc00" stroke="#b0a000" stroke-width="0.3"/>
<circle cx="54.2" cy="595.4" r="1.6" fill="#b01818" stroke="#700a0a" stroke-width="0.3"/>
<circle cx="31.9" cy="595.6" r="1.35" fill="#ecdc00" stroke="#b0a000" stroke-width="0.3"/>
<circle cx="22.9" cy="595.6" r="1.6" fill="#b01818" stroke="#700a0a" stroke-width="0.3"/>
<circle cx="40.6" cy="595.9" r="1.6" fill="#b01818" stroke="#700a0a" stroke-width="0.3"/>
<circle cx="49.2" cy="596.1" r="1.35" fill="#ecdc00" stroke="#b0a000" stroke-width="0.3"/>
<circle cx="18.0" cy="596.1" r="1.35" fill="#ecdc00" stroke="#b0a000" stroke-width="0.3"/>
<circle cx="9.2" cy="596.2" r="1.6" fill="#b01818" stroke="#700a0a" stroke-width="0.3"/>
<circle cx="57.7" cy="596.2" r="1.6" fill="#b01818" stroke="#700a0a" stroke-width="0.3"/>
<circle cx="66.9" cy="596.2" r="1.35" fill="#ecdc00" stroke="#b0a000" stroke-width="0.3"/>
<circle cx="26.7" cy="596.4" r="1.6" fill="#b01818" stroke="#700a0a" stroke-width="0.3"/>
<circle cx="35.6" cy="596.4" r="1.35" fill="#ecdc00" stroke="#b0a000" stroke-width="0.3"/>
<circle cx="53.4" cy="596.7" r="1.35" fill="#ecdc00" stroke="#b0a000" stroke-width="0.3"/>
<circle cx="44.1" cy="596.9" r="1.6" fill="#b01818" stroke="#700a0a" stroke-width="0.3"/>
<circle cx="61.6" cy="597.2" r="1.6" fill="#b01818" stroke="#700a0a" stroke-width="0.3"/>
<circle cx="21.8" cy="597.3" r="1.35" fill="#ecdc00" stroke="#b0a000" stroke-width="0.3"/>
<circle cx="13.2" cy="597.3" r="1.6" fill="#b01818" stroke="#700a0a" stroke-width="0.3"/>
<circle cx="39.5" cy="597.4" r="1.35" fill="#ecdc00" stroke="#b0a000" stroke-width="0.3"/>
<circle cx="30.5" cy="597.5" r="1.6" fill="#b01818" stroke="#700a0a" stroke-width="0.3"/>
<circle cx="56.9" cy="597.6" r="1.35" fill="#ecdc00" stroke="#b0a000" stroke-width="0.3"/>
<circle cx="47.8" cy="598.0" r="1.6" fill="#b01818" stroke="#700a0a" stroke-width="0.3"/>
<circle cx="16.6" cy="598.0" r="1.6" fill="#b01818" stroke="#700a0a" stroke-width="0.3"/>
<circle cx="43.3" cy="598.1" r="1.6" fill="#ffffff" stroke="#b0b0b0" stroke-width="0.3"/>
<circle cx="65.5" cy="598.1" r="1.6" fill="#b01818" stroke="#700a0a" stroke-width="0.3"/>
<circle cx="25.7" cy="598.2" r="1.35" fill="#ecdc00" stroke="#b0a000" stroke-width="0.3"/>
<circle cx="34.2" cy="598.3" r="1.6" fill="#b01818" stroke="#700a0a" stroke-width="0.3"/>
<circle cx="52.0" cy="598.6" r="1.6" fill="#b01818" stroke="#700a0a" stroke-width="0.3"/>
<circle cx="60.8" cy="598.6" r="1.35" fill="#ecdc00" stroke="#b0a000" stroke-width="0.3"/>
<circle cx="12.2" cy="598.7" r="1.35" fill="#ecdc00" stroke="#b0a000" stroke-width="0.3"/>
<circle cx="29.6" cy="598.8" r="1.35" fill="#ecdc00" stroke="#b0a000" stroke-width="0.3"/>
<circle cx="20.4" cy="599.2" r="1.6" fill="#b01818" stroke="#700a0a" stroke-width="0.3"/>
<circle cx="38.1" cy="599.3" r="1.6" fill="#b01818" stroke="#700a0a" stroke-width="0.3"/>
<circle cx="47.2" cy="599.3" r="1.35" fill="#ecdc00" stroke="#b0a000" stroke-width="0.3"/>
<circle cx="15.9" cy="599.4" r="1.35" fill="#ecdc00" stroke="#b0a000" stroke-width="0.3"/>
<circle cx="55.5" cy="599.5" r="1.6" fill="#b01818" stroke="#700a0a" stroke-width="0.3"/>
<circle cx="64.8" cy="599.6" r="1.35" fill="#ecdc00" stroke="#b0a000" stroke-width="0.3"/>
<circle cx="33.5" cy="599.9" r="1.35" fill="#ecdc00" stroke="#b0a000" stroke-width="0.3"/>
<circle cx="41.9" cy="600.0" r="1.6" fill="#b01818" stroke="#700a0a" stroke-width="0.3"/>
<circle cx="51.0" cy="600.0" r="1.35" fill="#ecdc00" stroke="#b0a000" stroke-width="0.3"/>
<circle cx="24.3" cy="600.1" r="1.6" fill="#b01818" stroke="#700a0a" stroke-width="0.3"/>
<circle cx="59.4" cy="600.5" r="1.6" fill="#b01818" stroke="#700a0a" stroke-width="0.3"/>
<circle cx="19.6" cy="600.5" r="1.35" fill="#ecdc00" stroke="#b0a000" stroke-width="0.3"/>
<circle cx="10.8" cy="600.6" r="1.6" fill="#b01818" stroke="#700a0a" stroke-width="0.3"/>
<circle cx="28.2" cy="600.7" r="1.6" fill="#b01818" stroke="#700a0a" stroke-width="0.3"/>
<circle cx="37.3" cy="600.8" r="1.35" fill="#ecdc00" stroke="#b0a000" stroke-width="0.3"/>
<circle cx="54.6" cy="600.9" r="1.35" fill="#ecdc00" stroke="#b0a000" stroke-width="0.3"/>
<circle cx="45.8" cy="601.2" r="1.6" fill="#b01818" stroke="#700a0a" stroke-width="0.3"/>
<circle cx="23.7" cy="601.3" r="1.35" fill="#ecdc00" stroke="#b0a000" stroke-width="0.3"/>
<circle cx="14.5" cy="601.3" r="1.6" fill="#b01818" stroke="#700a0a" stroke-width="0.3"/>
<circle cx="63.4" cy="601.5" r="1.6" fill="#b01818" stroke="#700a0a" stroke-width="0.3"/>
<circle cx="41.2" cy="601.5" r="1.35" fill="#ecdc00" stroke="#b0a000" stroke-width="0.3"/>
<circle cx="58.7" cy="601.7" r="1.35" fill="#ecdc00" stroke="#b0a000" stroke-width="0.3"/>
<circle cx="32.1" cy="601.8" r="1.6" fill="#b01818" stroke="#700a0a" stroke-width="0.3"/>
<circle cx="49.6" cy="601.9" r="1.6" fill="#b01818" stroke="#700a0a" stroke-width="0.3"/>
<circle cx="27.1" cy="602.2" r="1.35" fill="#ecdc00" stroke="#b0a000" stroke-width="0.3"/>
<circle cx="44.9" cy="602.4" r="1.35" fill="#ecdc00" stroke="#b0a000" stroke-width="0.3"/>
<circle cx="18.2" cy="602.4" r="1.6" fill="#b01818" stroke="#700a0a" stroke-width="0.3"/>
<circle cx="35.9" cy="602.7" r="1.6" fill="#b01818" stroke="#700a0a" stroke-width="0.3"/>
<circle cx="53.2" cy="602.8" r="1.6" fill="#b01818" stroke="#700a0a" stroke-width="0.3"/>
<circle cx="13.6" cy="602.8" r="1.35" fill="#ecdc00" stroke="#b0a000" stroke-width="0.3"/>
<circle cx="62.1" cy="602.9" r="1.35" fill="#ecdc00" stroke="#b0a000" stroke-width="0.3"/>
<circle cx="31.2" cy="602.9" r="1.35" fill="#ecdc00" stroke="#b0a000" stroke-width="0.3"/>
<circle cx="22.3" cy="603.2" r="1.6" fill="#b01818" stroke="#700a0a" stroke-width="0.3"/>
<circle cx="39.8" cy="603.4" r="1.6" fill="#b01818" stroke="#700a0a" stroke-width="0.3"/>
<circle cx="48.7" cy="603.5" r="1.35" fill="#ecdc00" stroke="#b0a000" stroke-width="0.3"/>
<circle cx="57.3" cy="603.6" r="1.6" fill="#b01818" stroke="#700a0a" stroke-width="0.3"/>
<circle cx="17.5" cy="603.8" r="1.35" fill="#ecdc00" stroke="#b0a000" stroke-width="0.3"/>
<circle cx="34.8" cy="603.9" r="1.35" fill="#ecdc00" stroke="#b0a000" stroke-width="0.3"/>
<circle cx="25.7" cy="604.1" r="1.6" fill="#b01818" stroke="#700a0a" stroke-width="0.3"/>
<circle cx="43.5" cy="604.3" r="1.6" fill="#b01818" stroke="#700a0a" stroke-width="0.3"/>
<circle cx="52.4" cy="604.4" r="1.35" fill="#ecdc00" stroke="#b0a000" stroke-width="0.3"/>
<circle cx="38.6" cy="604.7" r="1.35" fill="#ecdc00" stroke="#b0a000" stroke-width="0.3"/>
<circle cx="21.2" cy="604.8" r="1.35" fill="#ecdc00" stroke="#b0a000" stroke-width="0.3"/>
<circle cx="60.7" cy="604.8" r="1.6" fill="#b01818" stroke="#700a0a" stroke-width="0.3"/>
<circle cx="29.8" cy="604.8" r="1.6" fill="#b01818" stroke="#700a0a" stroke-width="0.3"/>
<circle cx="56.2" cy="605.2" r="1.35" fill="#ecdc00" stroke="#b0a000" stroke-width="0.3"/>
<circle cx="47.3" cy="605.4" r="1.6" fill="#b01818" stroke="#700a0a" stroke-width="0.3"/>
<circle cx="25.0" cy="605.7" r="1.35" fill="#ecdc00" stroke="#b0a000" stroke-width="0.3"/>
<circle cx="42.5" cy="605.7" r="1.35" fill="#ecdc00" stroke="#b0a000" stroke-width="0.3"/>
<circle cx="16.1" cy="605.7" r="1.6" fill="#b01818" stroke="#700a0a" stroke-width="0.3"/>
<circle cx="33.4" cy="605.8" r="1.6" fill="#b01818" stroke="#700a0a" stroke-width="0.3"/>
<circle cx="60.1" cy="606.0" r="1.35" fill="#ecdc00" stroke="#b0a000" stroke-width="0.3"/>
<circle cx="51.0" cy="606.3" r="1.6" fill="#b01818" stroke="#700a0a" stroke-width="0.3"/>
<circle cx="28.9" cy="606.3" r="1.35" fill="#ecdc00" stroke="#b0a000" stroke-width="0.3"/>
<circle cx="37.2" cy="606.6" r="1.6" fill="#b01818" stroke="#700a0a" stroke-width="0.3"/>
<circle cx="19.8" cy="606.7" r="1.6" fill="#b01818" stroke="#700a0a" stroke-width="0.3"/>
<circle cx="46.4" cy="606.7" r="1.35" fill="#ecdc00" stroke="#b0a000" stroke-width="0.3"/>
<circle cx="15.1" cy="606.9" r="1.35" fill="#ecdc00" stroke="#b0a000" stroke-width="0.3"/>
<circle cx="54.8" cy="607.1" r="1.6" fill="#b01818" stroke="#700a0a" stroke-width="0.3"/>
<circle cx="32.6" cy="607.2" r="1.35" fill="#ecdc00" stroke="#b0a000" stroke-width="0.3"/>
<circle cx="23.6" cy="607.6" r="1.6" fill="#b01818" stroke="#700a0a" stroke-width="0.3"/>
<circle cx="41.1" cy="607.6" r="1.6" fill="#b01818" stroke="#700a0a" stroke-width="0.3"/>
<circle cx="50.1" cy="607.6" r="1.35" fill="#ecdc00" stroke="#b0a000" stroke-width="0.3"/>
<circle cx="58.7" cy="607.9" r="1.6" fill="#b01818" stroke="#700a0a" stroke-width="0.3"/>
<circle cx="36.4" cy="608.1" r="1.35" fill="#ecdc00" stroke="#b0a000" stroke-width="0.3"/>
<circle cx="18.8" cy="608.1" r="1.35" fill="#ecdc00" stroke="#b0a000" stroke-width="0.3"/>
<circle cx="27.5" cy="608.2" r="1.6" fill="#b01818" stroke="#700a0a" stroke-width="0.3"/>
<circle cx="53.9" cy="608.3" r="1.35" fill="#ecdc00" stroke="#b0a000" stroke-width="0.3"/>
<circle cx="45.0" cy="608.6" r="1.6" fill="#b01818" stroke="#700a0a" stroke-width="0.3"/>
<circle cx="40.2" cy="609.0" r="1.35" fill="#ecdc00" stroke="#b0a000" stroke-width="0.3"/>
<circle cx="22.6" cy="609.0" r="1.35" fill="#ecdc00" stroke="#b0a000" stroke-width="0.3"/>
<circle cx="31.2" cy="609.1" r="1.6" fill="#b01818" stroke="#700a0a" stroke-width="0.3"/>
<circle cx="57.7" cy="609.4" r="1.35" fill="#ecdc00" stroke="#b0a000" stroke-width="0.3"/>
<circle cx="48.7" cy="609.5" r="1.6" fill="#b01818" stroke="#700a0a" stroke-width="0.3"/>
<circle cx="26.4" cy="609.5" r="1.35" fill="#ecdc00" stroke="#b0a000" stroke-width="0.3"/>
<circle cx="43.9" cy="609.8" r="1.35" fill="#ecdc00" stroke="#b0a000" stroke-width="0.3"/>
<circle cx="35.0" cy="610.0" r="1.6" fill="#b01818" stroke="#700a0a" stroke-width="0.3"/>
<circle cx="17.4" cy="610.0" r="1.6" fill="#b01818" stroke="#700a0a" stroke-width="0.3"/>
<circle cx="52.5" cy="610.2" r="1.6" fill="#b01818" stroke="#700a0a" stroke-width="0.3"/>
<circle cx="30.2" cy="610.7" r="1.35" fill="#ecdc00" stroke="#b0a000" stroke-width="0.3"/>
<circle cx="38.8" cy="610.9" r="1.6" fill="#b01818" stroke="#700a0a" stroke-width="0.3"/>
<circle cx="21.2" cy="610.9" r="1.6" fill="#b01818" stroke="#700a0a" stroke-width="0.3"/>
<circle cx="47.8" cy="611.0" r="1.35" fill="#ecdc00" stroke="#b0a000" stroke-width="0.3"/>
<circle cx="56.3" cy="611.3" r="1.6" fill="#b01818" stroke="#700a0a" stroke-width="0.3"/>
<circle cx="25.0" cy="611.4" r="1.6" fill="#b01818" stroke="#700a0a" stroke-width="0.3"/>
<circle cx="34.3" cy="611.5" r="1.35" fill="#ecdc00" stroke="#b0a000" stroke-width="0.3"/>
<circle cx="42.5" cy="611.7" r="1.6" fill="#b01818" stroke="#700a0a" stroke-width="0.3"/>
<circle cx="51.8" cy="611.8" r="1.35" fill="#ecdc00" stroke="#b0a000" stroke-width="0.3"/>
<circle cx="37.9" cy="612.6" r="1.35" fill="#ecdc00" stroke="#b0a000" stroke-width="0.3"/>
<circle cx="28.8" cy="612.6" r="1.6" fill="#b01818" stroke="#700a0a" stroke-width="0.3"/>
<circle cx="55.6" cy="612.7" r="1.35" fill="#ecdc00" stroke="#b0a000" stroke-width="0.3"/>
<circle cx="24.2" cy="612.8" r="1.35" fill="#ecdc00" stroke="#b0a000" stroke-width="0.3"/>
<circle cx="46.4" cy="612.9" r="1.6" fill="#b01818" stroke="#700a0a" stroke-width="0.3"/>
<circle cx="41.6" cy="613.2" r="1.35" fill="#ecdc00" stroke="#b0a000" stroke-width="0.3"/>
<circle cx="32.9" cy="613.4" r="1.6" fill="#b01818" stroke="#700a0a" stroke-width="0.3"/>
<circle cx="50.4" cy="613.7" r="1.6" fill="#b01818" stroke="#700a0a" stroke-width="0.3"/>
<circle cx="28.1" cy="613.9" r="1.35" fill="#ecdc00" stroke="#b0a000" stroke-width="0.3"/>
<circle cx="45.3" cy="614.1" r="1.35" fill="#ecdc00" stroke="#b0a000" stroke-width="0.3"/>
<circle cx="36.5" cy="614.5" r="1.6" fill="#b01818" stroke="#700a0a" stroke-width="0.3"/>
<circle cx="31.8" cy="614.9" r="1.35" fill="#ecdc00" stroke="#b0a000" stroke-width="0.3"/>
<circle cx="49.5" cy="615.0" r="1.35" fill="#ecdc00" stroke="#b0a000" stroke-width="0.3"/>
<circle cx="40.2" cy="615.1" r="1.6" fill="#b01818" stroke="#700a0a" stroke-width="0.3"/>
<circle cx="35.7" cy="615.6" r="1.35" fill="#ecdc00" stroke="#b0a000" stroke-width="0.3"/>
<circle cx="26.7" cy="615.8" r="1.6" fill="#b01818" stroke="#700a0a" stroke-width="0.3"/>
<circle cx="43.9" cy="616.0" r="1.6" fill="#b01818" stroke="#700a0a" stroke-width="0.3"/>
<circle cx="39.5" cy="616.6" r="1.35" fill="#ecdc00" stroke="#b0a000" stroke-width="0.3"/>
<circle cx="30.4" cy="616.8" r="1.6" fill="#b01818" stroke="#700a0a" stroke-width="0.3"/>
<circle cx="34.3" cy="617.5" r="1.6" fill="#b01818" stroke="#700a0a" stroke-width="0.3"/>
<circle cx="216.3" cy="585.4" r="32.4" fill="#a01414"/>
<circle cx="215.7" cy="554.6" r="1.6" fill="#b01818" stroke="#700a0a" stroke-width="0.3"/>
<circle cx="219.5" cy="555.2" r="1.6" fill="#b01818" stroke="#700a0a" stroke-width="0.3"/>
<circle cx="214.5" cy="556.1" r="1.6" fill="#b01818" stroke="#700a0a" stroke-width="0.3"/>
<circle cx="205.6" cy="556.1" r="1.6" fill="#b01818" stroke="#700a0a" stroke-width="0.3"/>
<circle cx="223.3" cy="556.3" r="1.6" fill="#b01818" stroke="#700a0a" stroke-width="0.3"/>
<circle cx="218.3" cy="556.7" r="1.6" fill="#b01818" stroke="#700a0a" stroke-width="0.3"/>
<circle cx="209.7" cy="556.9" r="1.6" fill="#b01818" stroke="#700a0a" stroke-width="0.3"/>
<circle cx="227.1" cy="557.2" r="1.6" fill="#b01818" stroke="#700a0a" stroke-width="0.3"/>
<circle cx="204.4" cy="557.6" r="1.6" fill="#b01818" stroke="#700a0a" stroke-width="0.3"/>
<circle cx="222.1" cy="557.8" r="1.6" fill="#b01818" stroke="#700a0a" stroke-width="0.3"/>
<circle cx="213.3" cy="557.8" r="1.6" fill="#b01818" stroke="#700a0a" stroke-width="0.3"/>
<circle cx="230.8" cy="558.0" r="1.6" fill="#b01818" stroke="#700a0a" stroke-width="0.3"/>
<circle cx="199.5" cy="558.2" r="1.6" fill="#b01818" stroke="#700a0a" stroke-width="0.3"/>
<circle cx="208.5" cy="558.4" r="1.6" fill="#b01818" stroke="#700a0a" stroke-width="0.3"/>
<circle cx="217.2" cy="558.6" r="1.6" fill="#b01818" stroke="#700a0a" stroke-width="0.3"/>
<circle cx="225.9" cy="558.7" r="1.6" fill="#b01818" stroke="#700a0a" stroke-width="0.3"/>
<circle cx="234.5" cy="559.2" r="1.6" fill="#ffffff" stroke="#b0b0b0" stroke-width="0.3"/>
<circle cx="203.4" cy="559.2" r="1.6" fill="#b01818" stroke="#700a0a" stroke-width="0.3"/>
<circle cx="212.1" cy="559.3" r="1.6" fill="#b01818" stroke="#700a0a" stroke-width="0.3"/>
<circle cx="229.6" cy="559.5" r="1.6" fill="#b01818" stroke="#700a0a" stroke-width="0.3"/>
<circle cx="220.9" cy="559.5" r="1.6" fill="#b01818" stroke="#700a0a" stroke-width="0.3"/>
<circle cx="198.3" cy="559.7" r="1.6" fill="#b01818" stroke="#700a0a" stroke-width="0.3"/>
<circle cx="216.0" cy="560.1" r="1.6" fill="#b01818" stroke="#700a0a" stroke-width="0.3"/>
<circle cx="207.2" cy="560.2" r="1.35" fill="#ecdc00" stroke="#b0a000" stroke-width="0.3"/>
<circle cx="224.7" cy="560.3" r="1.6" fill="#b01818" stroke="#700a0a" stroke-width="0.3"/>
<circle cx="202.2" cy="560.7" r="1.6" fill="#b01818" stroke="#700a0a" stroke-width="0.3"/>
<circle cx="219.7" cy="561.0" r="1.6" fill="#b01818" stroke="#700a0a" stroke-width="0.3"/>
<circle cx="211.0" cy="561.1" r="1.35" fill="#ecdc00" stroke="#b0a000" stroke-width="0.3"/>
<circle cx="228.6" cy="561.5" r="1.35" fill="#ecdc00" stroke="#b0a000" stroke-width="0.3"/>
<circle cx="206.0" cy="561.7" r="1.6" fill="#b01818" stroke="#700a0a" stroke-width="0.3"/>
<circle cx="197.3" cy="561.7" r="1.6" fill="#b01818" stroke="#700a0a" stroke-width="0.3"/>
<circle cx="223.5" cy="561.8" r="1.6" fill="#b01818" stroke="#700a0a" stroke-width="0.3"/>
<circle cx="215.0" cy="562.1" r="1.35" fill="#ecdc00" stroke="#b0a000" stroke-width="0.3"/>
<circle cx="232.3" cy="562.3" r="1.6" fill="#b01818" stroke="#700a0a" stroke-width="0.3"/>
<circle cx="201.1" cy="562.5" r="1.6" fill="#ffffff" stroke="#b0b0b0" stroke-width="0.3"/>
<circle cx="209.8" cy="562.6" r="1.6" fill="#b01818" stroke="#700a0a" stroke-width="0.3"/>
<circle cx="218.8" cy="562.9" r="1.35" fill="#ecdc00" stroke="#b0a000" stroke-width="0.3"/>
<circle cx="227.4" cy="563.0" r="1.6" fill="#b01818" stroke="#700a0a" stroke-width="0.3"/>
<circle cx="196.1" cy="563.2" r="1.6" fill="#b01818" stroke="#700a0a" stroke-width="0.3"/>
<circle cx="205.2" cy="563.3" r="1.6" fill="#b01818" stroke="#700a0a" stroke-width="0.3"/>
<circle cx="236.4" cy="563.3" r="1.6" fill="#b01818" stroke="#700a0a" stroke-width="0.3"/>
<circle cx="213.8" cy="563.6" r="1.6" fill="#b01818" stroke="#700a0a" stroke-width="0.3"/>
<circle cx="222.4" cy="563.7" r="1.35" fill="#ecdc00" stroke="#b0a000" stroke-width="0.3"/>
<circle cx="231.1" cy="563.8" r="1.6" fill="#b01818" stroke="#700a0a" stroke-width="0.3"/>
<circle cx="240.0" cy="564.0" r="1.6" fill="#b01818" stroke="#700a0a" stroke-width="0.3"/>
<circle cx="217.6" cy="564.4" r="1.6" fill="#b01818" stroke="#700a0a" stroke-width="0.3"/>
<circle cx="208.8" cy="564.4" r="1.6" fill="#b01818" stroke="#700a0a" stroke-width="0.3"/>
<circle cx="226.3" cy="564.7" r="1.35" fill="#ecdc00" stroke="#b0a000" stroke-width="0.3"/>
<circle cx="204.0" cy="564.8" r="1.6" fill="#b01818" stroke="#700a0a" stroke-width="0.3"/>
<circle cx="235.2" cy="564.8" r="1.6" fill="#b01818" stroke="#700a0a" stroke-width="0.3"/>
<circle cx="195.2" cy="564.9" r="1.6" fill="#b01818" stroke="#700a0a" stroke-width="0.3"/>
<circle cx="221.2" cy="565.2" r="1.6" fill="#b01818" stroke="#700a0a" stroke-width="0.3"/>
<circle cx="212.5" cy="565.4" r="1.35" fill="#ecdc00" stroke="#b0a000" stroke-width="0.3"/>
<circle cx="238.8" cy="565.5" r="1.6" fill="#b01818" stroke="#700a0a" stroke-width="0.3"/>
<circle cx="230.3" cy="565.5" r="1.6" fill="#b01818" stroke="#700a0a" stroke-width="0.3"/>
<circle cx="199.0" cy="565.9" r="1.35" fill="#ecdc00" stroke="#b0a000" stroke-width="0.3"/>
<circle cx="207.6" cy="565.9" r="1.6" fill="#b01818" stroke="#700a0a" stroke-width="0.3"/>
<circle cx="216.6" cy="566.1" r="1.35" fill="#ecdc00" stroke="#b0a000" stroke-width="0.3"/>
<circle cx="225.1" cy="566.2" r="1.6" fill="#b01818" stroke="#700a0a" stroke-width="0.3"/>
<circle cx="194.0" cy="566.4" r="1.6" fill="#b01818" stroke="#700a0a" stroke-width="0.3"/>
<circle cx="234.0" cy="566.5" r="1.6" fill="#b01818" stroke="#700a0a" stroke-width="0.3"/>
<circle cx="202.7" cy="566.6" r="1.6" fill="#b01818" stroke="#700a0a" stroke-width="0.3"/>
<circle cx="211.3" cy="566.9" r="1.6" fill="#b01818" stroke="#700a0a" stroke-width="0.3"/>
<circle cx="229.1" cy="567.0" r="1.6" fill="#b01818" stroke="#700a0a" stroke-width="0.3"/>
<circle cx="220.1" cy="567.2" r="1.6" fill="#b01818" stroke="#700a0a" stroke-width="0.3"/>
<circle cx="237.6" cy="567.3" r="1.6" fill="#b01818" stroke="#700a0a" stroke-width="0.3"/>
<circle cx="197.8" cy="567.4" r="1.6" fill="#b01818" stroke="#700a0a" stroke-width="0.3"/>
<circle cx="215.4" cy="567.6" r="1.6" fill="#b01818" stroke="#700a0a" stroke-width="0.3"/>
<circle cx="206.4" cy="567.8" r="1.35" fill="#ecdc00" stroke="#b0a000" stroke-width="0.3"/>
<circle cx="224.0" cy="567.9" r="1.35" fill="#ecdc00" stroke="#b0a000" stroke-width="0.3"/>
<circle cx="232.8" cy="568.0" r="1.6" fill="#b01818" stroke="#700a0a" stroke-width="0.3"/>
<circle cx="201.5" cy="568.1" r="1.6" fill="#b01818" stroke="#700a0a" stroke-width="0.3"/>
<circle cx="241.4" cy="568.3" r="1.6" fill="#ffffff" stroke="#b0b0b0" stroke-width="0.3"/>
<circle cx="192.9" cy="568.5" r="1.6" fill="#b01818" stroke="#700a0a" stroke-width="0.3"/>
<circle cx="218.9" cy="568.7" r="1.6" fill="#b01818" stroke="#700a0a" stroke-width="0.3"/>
<circle cx="210.2" cy="568.7" r="1.35" fill="#ecdc00" stroke="#b0a000" stroke-width="0.3"/>
<circle cx="236.4" cy="568.8" r="1.6" fill="#b01818" stroke="#700a0a" stroke-width="0.3"/>
<circle cx="227.9" cy="568.9" r="1.6" fill="#b01818" stroke="#700a0a" stroke-width="0.3"/>
<circle cx="196.8" cy="569.2" r="1.6" fill="#b01818" stroke="#700a0a" stroke-width="0.3"/>
<circle cx="205.2" cy="569.3" r="1.6" fill="#b01818" stroke="#700a0a" stroke-width="0.3"/>
<circle cx="214.2" cy="569.4" r="1.35" fill="#ecdc00" stroke="#b0a000" stroke-width="0.3"/>
<circle cx="222.8" cy="569.4" r="1.6" fill="#b01818" stroke="#700a0a" stroke-width="0.3"/>
<circle cx="231.7" cy="569.7" r="1.35" fill="#ecdc00" stroke="#b0a000" stroke-width="0.3"/>
<circle cx="191.7" cy="570.0" r="1.6" fill="#b01818" stroke="#700a0a" stroke-width="0.3"/>
<circle cx="200.4" cy="570.2" r="1.35" fill="#ecdc00" stroke="#b0a000" stroke-width="0.3"/>
<circle cx="209.0" cy="570.2" r="1.6" fill="#b01818" stroke="#700a0a" stroke-width="0.3"/>
<circle cx="226.7" cy="570.4" r="1.6" fill="#b01818" stroke="#700a0a" stroke-width="0.3"/>
<circle cx="217.9" cy="570.6" r="1.35" fill="#ecdc00" stroke="#b0a000" stroke-width="0.3"/>
<circle cx="235.2" cy="570.6" r="1.35" fill="#ecdc00" stroke="#b0a000" stroke-width="0.3"/>
<circle cx="195.6" cy="570.7" r="1.6" fill="#b01818" stroke="#700a0a" stroke-width="0.3"/>
<circle cx="213.0" cy="570.9" r="1.6" fill="#b01818" stroke="#700a0a" stroke-width="0.3"/>
<circle cx="204.4" cy="571.1" r="1.35" fill="#ecdc00" stroke="#b0a000" stroke-width="0.3"/>
<circle cx="221.9" cy="571.2" r="1.6" fill="#b01818" stroke="#700a0a" stroke-width="0.3"/>
<circle cx="230.5" cy="571.2" r="1.6" fill="#b01818" stroke="#700a0a" stroke-width="0.3"/>
<circle cx="190.6" cy="571.5" r="1.6" fill="#b01818" stroke="#700a0a" stroke-width="0.3"/>
<circle cx="239.2" cy="571.7" r="1.6" fill="#b01818" stroke="#700a0a" stroke-width="0.3"/>
<circle cx="199.2" cy="571.7" r="1.6" fill="#b01818" stroke="#700a0a" stroke-width="0.3"/>
<circle cx="208.1" cy="572.0" r="1.35" fill="#ecdc00" stroke="#b0a000" stroke-width="0.3"/>
<circle cx="216.7" cy="572.1" r="1.6" fill="#b01818" stroke="#700a0a" stroke-width="0.3"/>
<circle cx="234.0" cy="572.1" r="1.6" fill="#b01818" stroke="#700a0a" stroke-width="0.3"/>
<circle cx="225.7" cy="572.2" r="1.35" fill="#ecdc00" stroke="#b0a000" stroke-width="0.3"/>
<circle cx="203.2" cy="572.6" r="1.6" fill="#b01818" stroke="#700a0a" stroke-width="0.3"/>
<circle cx="242.9" cy="572.6" r="1.6" fill="#b01818" stroke="#700a0a" stroke-width="0.3"/>
<circle cx="211.8" cy="572.6" r="1.35" fill="#ecdc00" stroke="#b0a000" stroke-width="0.3"/>
<circle cx="194.2" cy="572.7" r="1.35" fill="#ecdc00" stroke="#b0a000" stroke-width="0.3"/>
<circle cx="220.7" cy="572.7" r="1.6" fill="#b01818" stroke="#700a0a" stroke-width="0.3"/>
<circle cx="229.5" cy="573.0" r="1.35" fill="#ecdc00" stroke="#b0a000" stroke-width="0.3"/>
<circle cx="189.4" cy="573.0" r="1.6" fill="#b01818" stroke="#700a0a" stroke-width="0.3"/>
<circle cx="238.0" cy="573.2" r="1.6" fill="#b01818" stroke="#700a0a" stroke-width="0.3"/>
<circle cx="198.1" cy="573.3" r="1.35" fill="#ecdc00" stroke="#b0a000" stroke-width="0.3"/>
<circle cx="206.9" cy="573.5" r="1.6" fill="#b01818" stroke="#700a0a" stroke-width="0.3"/>
<circle cx="215.8" cy="573.6" r="1.35" fill="#ecdc00" stroke="#b0a000" stroke-width="0.3"/>
<circle cx="224.5" cy="573.7" r="1.6" fill="#b01818" stroke="#700a0a" stroke-width="0.3"/>
<circle cx="241.7" cy="574.1" r="1.6" fill="#b01818" stroke="#700a0a" stroke-width="0.3"/>
<circle cx="210.6" cy="574.1" r="1.6" fill="#b01818" stroke="#700a0a" stroke-width="0.3"/>
<circle cx="193.0" cy="574.2" r="1.6" fill="#b01818" stroke="#700a0a" stroke-width="0.3"/>
<circle cx="233.2" cy="574.2" r="1.35" fill="#ecdc00" stroke="#b0a000" stroke-width="0.3"/>
<circle cx="202.0" cy="574.3" r="1.35" fill="#ecdc00" stroke="#b0a000" stroke-width="0.3"/>
<circle cx="228.3" cy="574.5" r="1.6" fill="#b01818" stroke="#700a0a" stroke-width="0.3"/>
<circle cx="219.4" cy="574.5" r="1.35" fill="#ecdc00" stroke="#b0a000" stroke-width="0.3"/>
<circle cx="236.9" cy="574.8" r="1.35" fill="#ecdc00" stroke="#b0a000" stroke-width="0.3"/>
<circle cx="196.9" cy="574.8" r="1.6" fill="#b01818" stroke="#700a0a" stroke-width="0.3"/>
<circle cx="188.1" cy="574.8" r="1.6" fill="#b01818" stroke="#700a0a" stroke-width="0.3"/>
<circle cx="214.6" cy="575.1" r="1.6" fill="#b01818" stroke="#700a0a" stroke-width="0.3"/>
<circle cx="205.6" cy="575.2" r="1.35" fill="#ecdc00" stroke="#b0a000" stroke-width="0.3"/>
<circle cx="223.2" cy="575.5" r="1.35" fill="#ecdc00" stroke="#b0a000" stroke-width="0.3"/>
<circle cx="232.0" cy="575.7" r="1.6" fill="#b01818" stroke="#700a0a" stroke-width="0.3"/>
<circle cx="192.1" cy="575.7" r="1.35" fill="#ecdc00" stroke="#b0a000" stroke-width="0.3"/>
<circle cx="200.8" cy="575.8" r="1.6" fill="#b01818" stroke="#700a0a" stroke-width="0.3"/>
<circle cx="240.5" cy="575.9" r="1.35" fill="#ecdc00" stroke="#b0a000" stroke-width="0.3"/>
<circle cx="218.2" cy="576.0" r="1.6" fill="#b01818" stroke="#700a0a" stroke-width="0.3"/>
<circle cx="209.7" cy="576.2" r="1.35" fill="#ecdc00" stroke="#b0a000" stroke-width="0.3"/>
<circle cx="235.7" cy="576.3" r="1.6" fill="#b01818" stroke="#700a0a" stroke-width="0.3"/>
<circle cx="186.9" cy="576.3" r="1.6" fill="#b01818" stroke="#700a0a" stroke-width="0.3"/>
<circle cx="227.0" cy="576.6" r="1.35" fill="#ecdc00" stroke="#b0a000" stroke-width="0.3"/>
<circle cx="204.4" cy="576.7" r="1.6" fill="#b01818" stroke="#700a0a" stroke-width="0.3"/>
<circle cx="244.5" cy="576.8" r="1.6" fill="#b01818" stroke="#700a0a" stroke-width="0.3"/>
<circle cx="195.8" cy="576.9" r="1.35" fill="#ecdc00" stroke="#b0a000" stroke-width="0.3"/>
<circle cx="213.4" cy="577.0" r="1.35" fill="#ecdc00" stroke="#b0a000" stroke-width="0.3"/>
<circle cx="222.0" cy="577.0" r="1.6" fill="#b01818" stroke="#700a0a" stroke-width="0.3"/>
<circle cx="190.9" cy="577.2" r="1.6" fill="#b01818" stroke="#700a0a" stroke-width="0.3"/>
<circle cx="230.9" cy="577.2" r="1.6" fill="#b01818" stroke="#700a0a" stroke-width="0.3"/>
<circle cx="239.3" cy="577.4" r="1.6" fill="#b01818" stroke="#700a0a" stroke-width="0.3"/>
<circle cx="199.8" cy="577.5" r="1.35" fill="#ecdc00" stroke="#b0a000" stroke-width="0.3"/>
<circle cx="208.5" cy="577.7" r="1.6" fill="#b01818" stroke="#700a0a" stroke-width="0.3"/>
<circle cx="217.1" cy="577.8" r="1.35" fill="#ecdc00" stroke="#b0a000" stroke-width="0.3"/>
<circle cx="225.8" cy="578.1" r="1.6" fill="#b01818" stroke="#700a0a" stroke-width="0.3"/>
<circle cx="234.7" cy="578.2" r="1.35" fill="#ecdc00" stroke="#b0a000" stroke-width="0.3"/>
<circle cx="186.0" cy="578.2" r="1.6" fill="#ffffff" stroke="#b0b0b0" stroke-width="0.3"/>
<circle cx="243.3" cy="578.3" r="1.6" fill="#b01818" stroke="#700a0a" stroke-width="0.3"/>
<circle cx="194.6" cy="578.4" r="1.6" fill="#b01818" stroke="#700a0a" stroke-width="0.3"/>
<circle cx="212.2" cy="578.5" r="1.6" fill="#b01818" stroke="#700a0a" stroke-width="0.3"/>
<circle cx="203.3" cy="578.6" r="1.35" fill="#ecdc00" stroke="#b0a000" stroke-width="0.3"/>
<circle cx="229.7" cy="578.7" r="1.6" fill="#b01818" stroke="#700a0a" stroke-width="0.3"/>
<circle cx="198.6" cy="579.0" r="1.6" fill="#b01818" stroke="#700a0a" stroke-width="0.3"/>
<circle cx="221.1" cy="579.0" r="1.6" fill="#b01818" stroke="#700a0a" stroke-width="0.3"/>
<circle cx="207.2" cy="579.2" r="1.35" fill="#ecdc00" stroke="#b0a000" stroke-width="0.3"/>
<circle cx="238.5" cy="579.3" r="1.35" fill="#ecdc00" stroke="#b0a000" stroke-width="0.3"/>
<circle cx="189.5" cy="579.3" r="1.6" fill="#b01818" stroke="#700a0a" stroke-width="0.3"/>
<circle cx="215.9" cy="579.3" r="1.6" fill="#b01818" stroke="#700a0a" stroke-width="0.3"/>
<circle cx="233.5" cy="579.7" r="1.6" fill="#b01818" stroke="#700a0a" stroke-width="0.3"/>
<circle cx="224.6" cy="579.8" r="1.6" fill="#b01818" stroke="#700a0a" stroke-width="0.3"/>
<circle cx="202.1" cy="580.1" r="1.6" fill="#b01818" stroke="#700a0a" stroke-width="0.3"/>
<circle cx="193.4" cy="580.1" r="1.35" fill="#ecdc00" stroke="#b0a000" stroke-width="0.3"/>
<circle cx="242.1" cy="580.1" r="1.6" fill="#b01818" stroke="#700a0a" stroke-width="0.3"/>
<circle cx="210.9" cy="580.2" r="1.35" fill="#ecdc00" stroke="#b0a000" stroke-width="0.3"/>
<circle cx="228.4" cy="580.5" r="1.6" fill="#b01818" stroke="#700a0a" stroke-width="0.3"/>
<circle cx="219.9" cy="580.5" r="1.6" fill="#b01818" stroke="#700a0a" stroke-width="0.3"/>
<circle cx="197.5" cy="580.7" r="1.35" fill="#ecdc00" stroke="#b0a000" stroke-width="0.3"/>
<circle cx="206.0" cy="580.7" r="1.6" fill="#b01818" stroke="#700a0a" stroke-width="0.3"/>
<circle cx="237.3" cy="580.8" r="1.6" fill="#b01818" stroke="#700a0a" stroke-width="0.3"/>
<circle cx="188.3" cy="580.8" r="1.6" fill="#b01818" stroke="#700a0a" stroke-width="0.3"/>
<circle cx="246.0" cy="581.0" r="1.6" fill="#b01818" stroke="#700a0a" stroke-width="0.3"/>
<circle cx="214.7" cy="581.1" r="1.6" fill="#b01818" stroke="#700a0a" stroke-width="0.3"/>
<circle cx="223.4" cy="581.3" r="1.6" fill="#b01818" stroke="#700a0a" stroke-width="0.3"/>
<circle cx="232.2" cy="581.5" r="1.35" fill="#ecdc00" stroke="#b0a000" stroke-width="0.3"/>
<circle cx="192.2" cy="581.6" r="1.6" fill="#b01818" stroke="#700a0a" stroke-width="0.3"/>
<circle cx="240.9" cy="581.6" r="1.6" fill="#b01818" stroke="#700a0a" stroke-width="0.3"/>
<circle cx="209.7" cy="581.7" r="1.6" fill="#b01818" stroke="#700a0a" stroke-width="0.3"/>
<circle cx="201.0" cy="581.7" r="1.35" fill="#ecdc00" stroke="#b0a000" stroke-width="0.3"/>
<circle cx="227.2" cy="582.0" r="1.6" fill="#b01818" stroke="#700a0a" stroke-width="0.3"/>
<circle cx="196.3" cy="582.2" r="1.6" fill="#b01818" stroke="#700a0a" stroke-width="0.3"/>
<circle cx="218.8" cy="582.3" r="1.35" fill="#ecdc00" stroke="#b0a000" stroke-width="0.3"/>
<circle cx="187.3" cy="582.5" r="1.6" fill="#b01818" stroke="#700a0a" stroke-width="0.3"/>
<circle cx="244.8" cy="582.5" r="1.6" fill="#b01818" stroke="#700a0a" stroke-width="0.3"/>
<circle cx="236.3" cy="582.5" r="1.35" fill="#ecdc00" stroke="#b0a000" stroke-width="0.3"/>
<circle cx="213.5" cy="582.6" r="1.6" fill="#b01818" stroke="#700a0a" stroke-width="0.3"/>
<circle cx="204.9" cy="582.8" r="1.35" fill="#ecdc00" stroke="#b0a000" stroke-width="0.3"/>
<circle cx="222.6" cy="583.0" r="1.35" fill="#ecdc00" stroke="#b0a000" stroke-width="0.3"/>
<circle cx="231.0" cy="583.0" r="1.6" fill="#b01818" stroke="#700a0a" stroke-width="0.3"/>
<circle cx="191.1" cy="583.2" r="1.35" fill="#ecdc00" stroke="#b0a000" stroke-width="0.3"/>
<circle cx="199.8" cy="583.2" r="1.6" fill="#b01818" stroke="#700a0a" stroke-width="0.3"/>
<circle cx="239.9" cy="583.3" r="1.35" fill="#ecdc00" stroke="#b0a000" stroke-width="0.3"/>
<circle cx="217.6" cy="583.8" r="1.6" fill="#b01818" stroke="#700a0a" stroke-width="0.3"/>
<circle cx="226.2" cy="583.8" r="1.6" fill="#b01818" stroke="#700a0a" stroke-width="0.3"/>
<circle cx="208.8" cy="583.8" r="1.35" fill="#ecdc00" stroke="#b0a000" stroke-width="0.3"/>
<circle cx="186.1" cy="584.0" r="1.6" fill="#b01818" stroke="#700a0a" stroke-width="0.3"/>
<circle cx="235.1" cy="584.0" r="1.6" fill="#b01818" stroke="#700a0a" stroke-width="0.3"/>
<circle cx="243.8" cy="584.0" r="1.6" fill="#b01818" stroke="#700a0a" stroke-width="0.3"/>
<circle cx="195.1" cy="584.2" r="1.35" fill="#ecdc00" stroke="#b0a000" stroke-width="0.3"/>
<circle cx="203.7" cy="584.3" r="1.6" fill="#b01818" stroke="#700a0a" stroke-width="0.3"/>
<circle cx="212.6" cy="584.4" r="1.6" fill="#b01818" stroke="#700a0a" stroke-width="0.3"/>
<circle cx="221.4" cy="584.5" r="1.6" fill="#b01818" stroke="#700a0a" stroke-width="0.3"/>
<circle cx="189.9" cy="584.7" r="1.6" fill="#b01818" stroke="#700a0a" stroke-width="0.3"/>
<circle cx="229.8" cy="584.7" r="1.6" fill="#b01818" stroke="#700a0a" stroke-width="0.3"/>
<circle cx="238.7" cy="584.8" r="1.6" fill="#b01818" stroke="#700a0a" stroke-width="0.3"/>
<circle cx="247.4" cy="585.0" r="1.6" fill="#b01818" stroke="#700a0a" stroke-width="0.3"/>
<circle cx="198.6" cy="585.3" r="1.35" fill="#ecdc00" stroke="#b0a000" stroke-width="0.3"/>
<circle cx="225.0" cy="585.3" r="1.6" fill="#b01818" stroke="#700a0a" stroke-width="0.3"/>
<circle cx="207.6" cy="585.3" r="1.6" fill="#b01818" stroke="#700a0a" stroke-width="0.3"/>
<circle cx="216.4" cy="585.3" r="1.6" fill="#b01818" stroke="#700a0a" stroke-width="0.3"/>
<circle cx="242.6" cy="585.5" r="1.6" fill="#b01818" stroke="#700a0a" stroke-width="0.3"/>
<circle cx="185.2" cy="585.6" r="1.6" fill="#b01818" stroke="#700a0a" stroke-width="0.3"/>
<circle cx="193.9" cy="585.7" r="1.6" fill="#b01818" stroke="#700a0a" stroke-width="0.3"/>
<circle cx="233.8" cy="585.8" r="1.35" fill="#ecdc00" stroke="#b0a000" stroke-width="0.3"/>
<circle cx="211.4" cy="585.9" r="1.6" fill="#b01818" stroke="#700a0a" stroke-width="0.3"/>
<circle cx="202.8" cy="586.1" r="1.6" fill="#b01818" stroke="#700a0a" stroke-width="0.3"/>
<circle cx="220.2" cy="586.2" r="1.35" fill="#ecdc00" stroke="#b0a000" stroke-width="0.3"/>
<circle cx="228.6" cy="586.2" r="1.6" fill="#b01818" stroke="#700a0a" stroke-width="0.3"/>
<circle cx="246.2" cy="586.5" r="1.6" fill="#b01818" stroke="#700a0a" stroke-width="0.3"/>
<circle cx="188.8" cy="586.5" r="1.6" fill="#b01818" stroke="#700a0a" stroke-width="0.3"/>
<circle cx="237.7" cy="586.6" r="1.35" fill="#ecdc00" stroke="#b0a000" stroke-width="0.3"/>
<circle cx="197.4" cy="586.8" r="1.6" fill="#b01818" stroke="#700a0a" stroke-width="0.3"/>
<circle cx="215.2" cy="586.8" r="1.6" fill="#b01818" stroke="#700a0a" stroke-width="0.3"/>
<circle cx="206.3" cy="586.9" r="1.6" fill="#b01818" stroke="#700a0a" stroke-width="0.3"/>
<circle cx="224.0" cy="587.1" r="1.35" fill="#ecdc00" stroke="#b0a000" stroke-width="0.3"/>
<circle cx="232.6" cy="587.3" r="1.6" fill="#b01818" stroke="#700a0a" stroke-width="0.3"/>
<circle cx="241.2" cy="587.3" r="1.6" fill="#b01818" stroke="#700a0a" stroke-width="0.3"/>
<circle cx="192.6" cy="587.5" r="1.6" fill="#b01818" stroke="#700a0a" stroke-width="0.3"/>
<circle cx="201.6" cy="587.6" r="1.6" fill="#b01818" stroke="#700a0a" stroke-width="0.3"/>
<circle cx="219.0" cy="587.7" r="1.6" fill="#b01818" stroke="#700a0a" stroke-width="0.3"/>
<circle cx="210.4" cy="587.8" r="1.35" fill="#ecdc00" stroke="#b0a000" stroke-width="0.3"/>
<circle cx="187.6" cy="588.0" r="1.6" fill="#b01818" stroke="#700a0a" stroke-width="0.3"/>
<circle cx="227.8" cy="588.0" r="1.35" fill="#ecdc00" stroke="#b0a000" stroke-width="0.3"/>
<circle cx="236.5" cy="588.1" r="1.6" fill="#b01818" stroke="#700a0a" stroke-width="0.3"/>
<circle cx="196.7" cy="588.2" r="1.6" fill="#b01818" stroke="#700a0a" stroke-width="0.3"/>
<circle cx="205.1" cy="588.4" r="1.6" fill="#b01818" stroke="#700a0a" stroke-width="0.3"/>
<circle cx="245.4" cy="588.4" r="1.6" fill="#b01818" stroke="#700a0a" stroke-width="0.3"/>
<circle cx="222.8" cy="588.6" r="1.6" fill="#b01818" stroke="#700a0a" stroke-width="0.3"/>
<circle cx="214.0" cy="588.7" r="1.35" fill="#ecdc00" stroke="#b0a000" stroke-width="0.3"/>
<circle cx="240.0" cy="588.8" r="1.6" fill="#b01818" stroke="#700a0a" stroke-width="0.3"/>
<circle cx="191.4" cy="589.0" r="1.6" fill="#b01818" stroke="#700a0a" stroke-width="0.3"/>
<circle cx="231.4" cy="589.1" r="1.35" fill="#ecdc00" stroke="#b0a000" stroke-width="0.3"/>
<circle cx="200.2" cy="589.2" r="1.6" fill="#b01818" stroke="#700a0a" stroke-width="0.3"/>
<circle cx="209.2" cy="589.3" r="1.6" fill="#b01818" stroke="#700a0a" stroke-width="0.3"/>
<circle cx="226.6" cy="589.5" r="1.6" fill="#b01818" stroke="#700a0a" stroke-width="0.3"/>
<circle cx="195.5" cy="589.7" r="1.6" fill="#b01818" stroke="#700a0a" stroke-width="0.3"/>
<circle cx="217.7" cy="589.7" r="1.6" fill="#b01818" stroke="#700a0a" stroke-width="0.3"/>
<circle cx="235.2" cy="589.8" r="1.35" fill="#ecdc00" stroke="#b0a000" stroke-width="0.3"/>
<circle cx="244.2" cy="589.9" r="1.6" fill="#b01818" stroke="#700a0a" stroke-width="0.3"/>
<circle cx="186.7" cy="590.1" r="1.6" fill="#b01818" stroke="#700a0a" stroke-width="0.3"/>
<circle cx="212.8" cy="590.2" r="1.6" fill="#b01818" stroke="#700a0a" stroke-width="0.3"/>
<circle cx="204.0" cy="590.3" r="1.35" fill="#ecdc00" stroke="#b0a000" stroke-width="0.3"/>
<circle cx="230.2" cy="590.6" r="1.6" fill="#b01818" stroke="#700a0a" stroke-width="0.3"/>
<circle cx="190.6" cy="590.7" r="1.35" fill="#ecdc00" stroke="#b0a000" stroke-width="0.3"/>
<circle cx="199.0" cy="590.7" r="1.6" fill="#b01818" stroke="#700a0a" stroke-width="0.3"/>
<circle cx="221.5" cy="590.7" r="1.35" fill="#ecdc00" stroke="#b0a000" stroke-width="0.3"/>
<circle cx="239.1" cy="590.8" r="1.6" fill="#b01818" stroke="#700a0a" stroke-width="0.3"/>
<circle cx="216.5" cy="591.2" r="1.6" fill="#b01818" stroke="#700a0a" stroke-width="0.3"/>
<circle cx="207.8" cy="591.3" r="1.35" fill="#ecdc00" stroke="#b0a000" stroke-width="0.3"/>
<circle cx="234.0" cy="591.3" r="1.6" fill="#b01818" stroke="#700a0a" stroke-width="0.3"/>
<circle cx="225.5" cy="591.4" r="1.6" fill="#b01818" stroke="#700a0a" stroke-width="0.3"/>
<circle cx="194.1" cy="591.6" r="1.35" fill="#ecdc00" stroke="#b0a000" stroke-width="0.3"/>
<circle cx="185.5" cy="591.6" r="1.6" fill="#b01818" stroke="#700a0a" stroke-width="0.3"/>
<circle cx="242.7" cy="591.7" r="1.35" fill="#ecdc00" stroke="#b0a000" stroke-width="0.3"/>
<circle cx="202.8" cy="591.8" r="1.6" fill="#b01818" stroke="#700a0a" stroke-width="0.3"/>
<circle cx="211.7" cy="591.9" r="1.35" fill="#ecdc00" stroke="#b0a000" stroke-width="0.3"/>
<circle cx="189.4" cy="592.2" r="1.6" fill="#b01818" stroke="#700a0a" stroke-width="0.3"/>
<circle cx="220.3" cy="592.2" r="1.6" fill="#b01818" stroke="#700a0a" stroke-width="0.3"/>
<circle cx="229.0" cy="592.3" r="1.35" fill="#ecdc00" stroke="#b0a000" stroke-width="0.3"/>
<circle cx="237.9" cy="592.3" r="1.6" fill="#b01818" stroke="#700a0a" stroke-width="0.3"/>
<circle cx="197.9" cy="592.6" r="1.35" fill="#ecdc00" stroke="#b0a000" stroke-width="0.3"/>
<circle cx="206.6" cy="592.8" r="1.6" fill="#b01818" stroke="#700a0a" stroke-width="0.3"/>
<circle cx="246.8" cy="592.8" r="1.6" fill="#b01818" stroke="#700a0a" stroke-width="0.3"/>
<circle cx="224.3" cy="592.9" r="1.6" fill="#b01818" stroke="#700a0a" stroke-width="0.3"/>
<circle cx="215.5" cy="593.0" r="1.6" fill="#b01818" stroke="#700a0a" stroke-width="0.3"/>
<circle cx="192.9" cy="593.1" r="1.6" fill="#b01818" stroke="#700a0a" stroke-width="0.3"/>
<circle cx="232.9" cy="593.1" r="1.35" fill="#ecdc00" stroke="#b0a000" stroke-width="0.3"/>
<circle cx="241.5" cy="593.2" r="1.6" fill="#b01818" stroke="#700a0a" stroke-width="0.3"/>
<circle cx="201.7" cy="593.3" r="1.35" fill="#ecdc00" stroke="#b0a000" stroke-width="0.3"/>
<circle cx="210.5" cy="593.4" r="1.6" fill="#b01818" stroke="#700a0a" stroke-width="0.3"/>
<circle cx="227.8" cy="593.8" r="1.6" fill="#b01818" stroke="#700a0a" stroke-width="0.3"/>
<circle cx="219.3" cy="593.9" r="1.35" fill="#ecdc00" stroke="#b0a000" stroke-width="0.3"/>
<circle cx="236.8" cy="593.9" r="1.35" fill="#ecdc00" stroke="#b0a000" stroke-width="0.3"/>
<circle cx="187.9" cy="594.1" r="1.6" fill="#b01818" stroke="#700a0a" stroke-width="0.3"/>
<circle cx="196.7" cy="594.1" r="1.6" fill="#b01818" stroke="#700a0a" stroke-width="0.3"/>
<circle cx="245.6" cy="594.3" r="1.6" fill="#b01818" stroke="#700a0a" stroke-width="0.3"/>
<circle cx="205.6" cy="594.4" r="1.35" fill="#ecdc00" stroke="#b0a000" stroke-width="0.3"/>
<circle cx="214.3" cy="594.5" r="1.6" fill="#b01818" stroke="#700a0a" stroke-width="0.3"/>
<circle cx="231.7" cy="594.6" r="1.6" fill="#b01818" stroke="#700a0a" stroke-width="0.3"/>
<circle cx="223.1" cy="594.7" r="1.35" fill="#ecdc00" stroke="#b0a000" stroke-width="0.3"/>
<circle cx="200.5" cy="594.8" r="1.6" fill="#b01818" stroke="#700a0a" stroke-width="0.3"/>
<circle cx="192.1" cy="594.8" r="1.6" fill="#ffffff" stroke="#b0b0b0" stroke-width="0.3"/>
<circle cx="240.5" cy="595.1" r="1.35" fill="#ecdc00" stroke="#b0a000" stroke-width="0.3"/>
<circle cx="209.3" cy="595.2" r="1.35" fill="#ecdc00" stroke="#b0a000" stroke-width="0.3"/>
<circle cx="218.1" cy="595.4" r="1.6" fill="#b01818" stroke="#700a0a" stroke-width="0.3"/>
<circle cx="235.6" cy="595.4" r="1.6" fill="#b01818" stroke="#700a0a" stroke-width="0.3"/>
<circle cx="186.7" cy="595.6" r="1.6" fill="#b01818" stroke="#700a0a" stroke-width="0.3"/>
<circle cx="227.0" cy="595.7" r="1.35" fill="#ecdc00" stroke="#b0a000" stroke-width="0.3"/>
<circle cx="244.5" cy="595.7" r="1.6" fill="#b01818" stroke="#700a0a" stroke-width="0.3"/>
<circle cx="204.4" cy="595.9" r="1.6" fill="#b01818" stroke="#700a0a" stroke-width="0.3"/>
<circle cx="195.7" cy="596.0" r="1.35" fill="#ecdc00" stroke="#b0a000" stroke-width="0.3"/>
<circle cx="213.0" cy="596.2" r="1.6" fill="#b01818" stroke="#700a0a" stroke-width="0.3"/>
<circle cx="221.9" cy="596.2" r="1.6" fill="#b01818" stroke="#700a0a" stroke-width="0.3"/>
<circle cx="239.3" cy="596.6" r="1.6" fill="#b01818" stroke="#700a0a" stroke-width="0.3"/>
<circle cx="230.5" cy="596.6" r="1.35" fill="#ecdc00" stroke="#b0a000" stroke-width="0.3"/>
<circle cx="208.1" cy="596.7" r="1.6" fill="#b01818" stroke="#700a0a" stroke-width="0.3"/>
<circle cx="199.7" cy="596.8" r="1.35" fill="#ecdc00" stroke="#b0a000" stroke-width="0.3"/>
<circle cx="225.8" cy="597.2" r="1.6" fill="#b01818" stroke="#700a0a" stroke-width="0.3"/>
<circle cx="243.3" cy="597.2" r="1.6" fill="#b01818" stroke="#700a0a" stroke-width="0.3"/>
<circle cx="216.9" cy="597.3" r="1.35" fill="#ecdc00" stroke="#b0a000" stroke-width="0.3"/>
<circle cx="194.5" cy="597.5" r="1.6" fill="#b01818" stroke="#700a0a" stroke-width="0.3"/>
<circle cx="234.6" cy="597.5" r="1.35" fill="#ecdc00" stroke="#b0a000" stroke-width="0.3"/>
<circle cx="211.8" cy="597.7" r="1.6" fill="#b01818" stroke="#700a0a" stroke-width="0.3"/>
<circle cx="203.3" cy="597.8" r="1.35" fill="#ecdc00" stroke="#b0a000" stroke-width="0.3"/>
<circle cx="220.6" cy="597.8" r="1.35" fill="#ecdc00" stroke="#b0a000" stroke-width="0.3"/>
<circle cx="229.3" cy="598.1" r="1.6" fill="#b01818" stroke="#700a0a" stroke-width="0.3"/>
<circle cx="189.7" cy="598.3" r="1.6" fill="#b01818" stroke="#700a0a" stroke-width="0.3"/>
<circle cx="198.5" cy="598.3" r="1.6" fill="#b01818" stroke="#700a0a" stroke-width="0.3"/>
<circle cx="238.3" cy="598.5" r="1.35" fill="#ecdc00" stroke="#b0a000" stroke-width="0.3"/>
<circle cx="206.9" cy="598.6" r="1.35" fill="#ecdc00" stroke="#b0a000" stroke-width="0.3"/>
<circle cx="224.5" cy="598.7" r="1.35" fill="#ecdc00" stroke="#b0a000" stroke-width="0.3"/>
<circle cx="215.7" cy="598.8" r="1.6" fill="#b01818" stroke="#700a0a" stroke-width="0.3"/>
<circle cx="233.4" cy="599.0" r="1.6" fill="#b01818" stroke="#700a0a" stroke-width="0.3"/>
<circle cx="193.5" cy="599.2" r="1.35" fill="#ecdc00" stroke="#b0a000" stroke-width="0.3"/>
<circle cx="241.9" cy="599.3" r="1.6" fill="#b01818" stroke="#700a0a" stroke-width="0.3"/>
<circle cx="202.1" cy="599.3" r="1.6" fill="#b01818" stroke="#700a0a" stroke-width="0.3"/>
<circle cx="219.4" cy="599.3" r="1.6" fill="#b01818" stroke="#700a0a" stroke-width="0.3"/>
<circle cx="210.7" cy="599.6" r="1.35" fill="#ecdc00" stroke="#b0a000" stroke-width="0.3"/>
<circle cx="188.5" cy="599.8" r="1.6" fill="#b01818" stroke="#700a0a" stroke-width="0.3"/>
<circle cx="228.6" cy="599.9" r="1.6" fill="#b01818" stroke="#700a0a" stroke-width="0.3"/>
<circle cx="237.1" cy="600.0" r="1.6" fill="#b01818" stroke="#700a0a" stroke-width="0.3"/>
<circle cx="197.1" cy="600.1" r="1.35" fill="#ecdc00" stroke="#b0a000" stroke-width="0.3"/>
<circle cx="205.7" cy="600.1" r="1.6" fill="#b01818" stroke="#700a0a" stroke-width="0.3"/>
<circle cx="223.3" cy="600.2" r="1.6" fill="#b01818" stroke="#700a0a" stroke-width="0.3"/>
<circle cx="214.8" cy="600.3" r="1.35" fill="#ecdc00" stroke="#b0a000" stroke-width="0.3"/>
<circle cx="232.1" cy="600.5" r="1.35" fill="#ecdc00" stroke="#b0a000" stroke-width="0.3"/>
<circle cx="192.3" cy="600.7" r="1.6" fill="#b01818" stroke="#700a0a" stroke-width="0.3"/>
<circle cx="240.7" cy="600.8" r="1.6" fill="#b01818" stroke="#700a0a" stroke-width="0.3"/>
<circle cx="201.1" cy="600.8" r="1.6" fill="#b01818" stroke="#700a0a" stroke-width="0.3"/>
<circle cx="209.5" cy="601.1" r="1.6" fill="#b01818" stroke="#700a0a" stroke-width="0.3"/>
<circle cx="218.3" cy="601.4" r="1.6" fill="#b01818" stroke="#700a0a" stroke-width="0.3"/>
<circle cx="227.4" cy="601.4" r="1.6" fill="#b01818" stroke="#700a0a" stroke-width="0.3"/>
<circle cx="235.8" cy="601.5" r="1.35" fill="#ecdc00" stroke="#b0a000" stroke-width="0.3"/>
<circle cx="195.9" cy="601.6" r="1.6" fill="#b01818" stroke="#700a0a" stroke-width="0.3"/>
<circle cx="213.6" cy="601.8" r="1.6" fill="#b01818" stroke="#700a0a" stroke-width="0.3"/>
<circle cx="230.9" cy="602.0" r="1.6" fill="#b01818" stroke="#700a0a" stroke-width="0.3"/>
<circle cx="204.7" cy="602.1" r="1.35" fill="#ecdc00" stroke="#b0a000" stroke-width="0.3"/>
<circle cx="222.3" cy="602.2" r="1.35" fill="#ecdc00" stroke="#b0a000" stroke-width="0.3"/>
<circle cx="199.9" cy="602.3" r="1.6" fill="#b01818" stroke="#700a0a" stroke-width="0.3"/>
<circle cx="191.0" cy="602.6" r="1.6" fill="#ffffff" stroke="#b0b0b0" stroke-width="0.3"/>
<circle cx="239.9" cy="602.7" r="1.6" fill="#b01818" stroke="#700a0a" stroke-width="0.3"/>
<circle cx="208.7" cy="602.8" r="1.35" fill="#ecdc00" stroke="#b0a000" stroke-width="0.3"/>
<circle cx="217.1" cy="602.9" r="1.6" fill="#b01818" stroke="#700a0a" stroke-width="0.3"/>
<circle cx="226.1" cy="602.9" r="1.35" fill="#ecdc00" stroke="#b0a000" stroke-width="0.3"/>
<circle cx="234.6" cy="603.0" r="1.6" fill="#b01818" stroke="#700a0a" stroke-width="0.3"/>
<circle cx="195.0" cy="603.3" r="1.6" fill="#b01818" stroke="#700a0a" stroke-width="0.3"/>
<circle cx="203.5" cy="603.6" r="1.6" fill="#b01818" stroke="#700a0a" stroke-width="0.3"/>
<circle cx="221.1" cy="603.7" r="1.6" fill="#b01818" stroke="#700a0a" stroke-width="0.3"/>
<circle cx="212.2" cy="603.8" r="1.35" fill="#ecdc00" stroke="#b0a000" stroke-width="0.3"/>
<circle cx="229.7" cy="603.9" r="1.6" fill="#b01818" stroke="#700a0a" stroke-width="0.3"/>
<circle cx="198.7" cy="604.1" r="1.35" fill="#ecdc00" stroke="#b0a000" stroke-width="0.3"/>
<circle cx="238.7" cy="604.2" r="1.6" fill="#b01818" stroke="#700a0a" stroke-width="0.3"/>
<circle cx="207.5" cy="604.3" r="1.6" fill="#b01818" stroke="#700a0a" stroke-width="0.3"/>
<circle cx="224.9" cy="604.4" r="1.6" fill="#b01818" stroke="#700a0a" stroke-width="0.3"/>
<circle cx="216.2" cy="604.5" r="1.35" fill="#ecdc00" stroke="#b0a000" stroke-width="0.3"/>
<circle cx="193.8" cy="604.8" r="1.6" fill="#b01818" stroke="#700a0a" stroke-width="0.3"/>
<circle cx="233.6" cy="605.1" r="1.6" fill="#b01818" stroke="#700a0a" stroke-width="0.3"/>
<circle cx="202.6" cy="605.1" r="1.6" fill="#b01818" stroke="#700a0a" stroke-width="0.3"/>
<circle cx="211.0" cy="605.3" r="1.6" fill="#b01818" stroke="#700a0a" stroke-width="0.3"/>
<circle cx="228.5" cy="605.4" r="1.6" fill="#b01818" stroke="#700a0a" stroke-width="0.3"/>
<circle cx="220.1" cy="605.5" r="1.35" fill="#ecdc00" stroke="#b0a000" stroke-width="0.3"/>
<circle cx="197.5" cy="605.6" r="1.6" fill="#b01818" stroke="#700a0a" stroke-width="0.3"/>
<circle cx="237.6" cy="605.8" r="1.6" fill="#b01818" stroke="#700a0a" stroke-width="0.3"/>
<circle cx="215.0" cy="606.0" r="1.6" fill="#b01818" stroke="#700a0a" stroke-width="0.3"/>
<circle cx="206.1" cy="606.2" r="1.6" fill="#b01818" stroke="#700a0a" stroke-width="0.3"/>
<circle cx="223.9" cy="606.3" r="1.35" fill="#ecdc00" stroke="#b0a000" stroke-width="0.3"/>
<circle cx="232.4" cy="606.6" r="1.6" fill="#b01818" stroke="#700a0a" stroke-width="0.3"/>
<circle cx="201.4" cy="606.6" r="1.6" fill="#b01818" stroke="#700a0a" stroke-width="0.3"/>
<circle cx="192.8" cy="606.6" r="1.6" fill="#b01818" stroke="#700a0a" stroke-width="0.3"/>
<circle cx="210.0" cy="606.9" r="1.35" fill="#ecdc00" stroke="#b0a000" stroke-width="0.3"/>
<circle cx="218.9" cy="607.0" r="1.6" fill="#b01818" stroke="#700a0a" stroke-width="0.3"/>
<circle cx="227.4" cy="607.3" r="1.35" fill="#ecdc00" stroke="#b0a000" stroke-width="0.3"/>
<circle cx="236.4" cy="607.3" r="1.6" fill="#b01818" stroke="#700a0a" stroke-width="0.3"/>
<circle cx="204.9" cy="607.7" r="1.6" fill="#b01818" stroke="#700a0a" stroke-width="0.3"/>
<circle cx="213.9" cy="607.7" r="1.6" fill="#b01818" stroke="#700a0a" stroke-width="0.3"/>
<circle cx="222.7" cy="607.8" r="1.6" fill="#b01818" stroke="#700a0a" stroke-width="0.3"/>
<circle cx="196.6" cy="607.8" r="1.6" fill="#b01818" stroke="#700a0a" stroke-width="0.3"/>
<circle cx="231.4" cy="608.0" r="1.6" fill="#b01818" stroke="#700a0a" stroke-width="0.3"/>
<circle cx="208.8" cy="608.4" r="1.6" fill="#b01818" stroke="#700a0a" stroke-width="0.3"/>
<circle cx="200.0" cy="608.5" r="1.6" fill="#b01818" stroke="#700a0a" stroke-width="0.3"/>
<circle cx="217.7" cy="608.7" r="1.35" fill="#ecdc00" stroke="#b0a000" stroke-width="0.3"/>
<circle cx="226.2" cy="608.8" r="1.6" fill="#b01818" stroke="#700a0a" stroke-width="0.3"/>
<circle cx="235.3" cy="609.1" r="1.6" fill="#b01818" stroke="#700a0a" stroke-width="0.3"/>
<circle cx="212.7" cy="609.2" r="1.6" fill="#b01818" stroke="#700a0a" stroke-width="0.3"/>
<circle cx="195.4" cy="609.3" r="1.6" fill="#b01818" stroke="#700a0a" stroke-width="0.3"/>
<circle cx="204.2" cy="609.3" r="1.6" fill="#b01818" stroke="#700a0a" stroke-width="0.3"/>
<circle cx="230.2" cy="609.5" r="1.6" fill="#b01818" stroke="#700a0a" stroke-width="0.3"/>
<circle cx="221.7" cy="609.7" r="1.6" fill="#b01818" stroke="#700a0a" stroke-width="0.3"/>
<circle cx="198.8" cy="610.0" r="1.6" fill="#b01818" stroke="#700a0a" stroke-width="0.3"/>
<circle cx="216.5" cy="610.2" r="1.6" fill="#b01818" stroke="#700a0a" stroke-width="0.3"/>
<circle cx="207.7" cy="610.3" r="1.6" fill="#b01818" stroke="#700a0a" stroke-width="0.3"/>
<circle cx="225.3" cy="610.4" r="1.6" fill="#b01818" stroke="#700a0a" stroke-width="0.3"/>
<circle cx="234.1" cy="610.6" r="1.6" fill="#b01818" stroke="#700a0a" stroke-width="0.3"/>
<circle cx="203.0" cy="610.8" r="1.6" fill="#b01818" stroke="#700a0a" stroke-width="0.3"/>
<circle cx="211.4" cy="611.0" r="1.6" fill="#b01818" stroke="#700a0a" stroke-width="0.3"/>
<circle cx="220.5" cy="611.2" r="1.6" fill="#b01818" stroke="#700a0a" stroke-width="0.3"/>
<circle cx="229.0" cy="611.5" r="1.6" fill="#b01818" stroke="#700a0a" stroke-width="0.3"/>
<circle cx="198.0" cy="611.6" r="1.6" fill="#ffffff" stroke="#b0b0b0" stroke-width="0.3"/>
<circle cx="206.5" cy="611.8" r="1.6" fill="#b01818" stroke="#700a0a" stroke-width="0.3"/>
<circle cx="224.1" cy="611.9" r="1.6" fill="#b01818" stroke="#700a0a" stroke-width="0.3"/>
<circle cx="215.3" cy="612.0" r="1.35" fill="#ecdc00" stroke="#b0a000" stroke-width="0.3"/>
<circle cx="210.2" cy="612.5" r="1.6" fill="#b01818" stroke="#700a0a" stroke-width="0.3"/>
<circle cx="232.9" cy="612.6" r="1.6" fill="#b01818" stroke="#700a0a" stroke-width="0.3"/>
<circle cx="201.6" cy="612.7" r="1.6" fill="#ffffff" stroke="#b0b0b0" stroke-width="0.3"/>
<circle cx="227.8" cy="613.0" r="1.6" fill="#b01818" stroke="#700a0a" stroke-width="0.3"/>
<circle cx="219.3" cy="613.1" r="1.6" fill="#b01818" stroke="#700a0a" stroke-width="0.3"/>
<circle cx="214.1" cy="613.5" r="1.6" fill="#b01818" stroke="#700a0a" stroke-width="0.3"/>
<circle cx="205.4" cy="613.8" r="1.6" fill="#ffffff" stroke="#b0b0b0" stroke-width="0.3"/>
<circle cx="222.9" cy="614.1" r="1.6" fill="#b01818" stroke="#700a0a" stroke-width="0.3"/>
<circle cx="218.1" cy="614.6" r="1.6" fill="#b01818" stroke="#700a0a" stroke-width="0.3"/>
<circle cx="226.7" cy="614.6" r="1.6" fill="#ffffff" stroke="#b0b0b0" stroke-width="0.3"/>
<circle cx="209.2" cy="614.7" r="1.6" fill="#ffffff" stroke="#b0b0b0" stroke-width="0.3"/>
<circle cx="213.1" cy="615.5" r="1.6" fill="#b01818" stroke="#700a0a" stroke-width="0.3"/>
<circle cx="221.7" cy="615.6" r="1.6" fill="#b01818" stroke="#700a0a" stroke-width="0.3"/>
<circle cx="217.0" cy="616.4" r="1.6" fill="#b01818" stroke="#700a0a" stroke-width="0.3"/>
<circle cx="211.9" cy="617.0" r="1.6" fill="#b01818" stroke="#700a0a" stroke-width="0.3"/>
<line x1="163.6" y1="544.4" x2="185.5" y2="561.8" stroke="#444" stroke-width="0.8" stroke-dasharray="1.6,1.4"/>
<line x1="83.6" y1="591.6" x2="162" y2="591.6" stroke="#1a1a1a" stroke-width="1.1"/>
<path d="M166,591.6 L160,588.8 L160,594.4 Z" fill="#1a1a1a"/>
<text x="124.2" y="587.8" font-size="6.3" fill="#222" font-weight="normal" text-anchor="middle" style='font-family:"Liberation Sans",sans-serif'  textLength="15.6" lengthAdjust="spacingAndGlyphs">CSVE</text>
<text x="124.5" y="599.5" font-size="5.3" fill="#222" font-weight="normal" text-anchor="middle" style='font-family:"Liberation Sans",sans-serif' >Surface Cu<tspan font-size="3.6" dy="-2">+</tspan><tspan dy="2"> reduction</tspan></text>
<circle cx="268" cy="566.2" r="3.6" fill="#fff" stroke="#999" stroke-width="0.7"/>
<circle cx="268" cy="580.2" r="3.6" fill="url(#yl)"/>
<circle cx="268" cy="597.6" r="3.8" fill="url(#rd)"/>
<text x="276" y="568.5" font-size="6.3" fill="#222" font-weight="normal" text-anchor="start" style='font-family:"Liberation Sans",sans-serif'  textLength="30.5" lengthAdjust="spacingAndGlyphs">Cu vacancy</text>
<text x="276" y="582.5" font-size="6.3" fill="#222" font-weight="normal" text-anchor="start" style='font-family:"Liberation Sans",sans-serif' >S</text>
<text x="276" y="600" font-size="6.3" fill="#222" font-weight="normal" text-anchor="start" style='font-family:"Liberation Sans",sans-serif' >Cu</text>
<linearGradient id="wf" x1="0" y1="0" x2="0" y2="1"><stop offset="0" stop-color="#f4f4f4"/><stop offset="1" stop-color="#e6e6e6"/></linearGradient>
<linearGradient id="wl" x1="0" y1="0" x2="0" y2="1"><stop offset="0" stop-color="#ececec"/><stop offset="1" stop-color="#dedede"/></linearGradient>
<linearGradient id="et" gradientUnits="userSpaceOnUse" x1="420" y1="480" x2="424" y2="506"><stop offset="0" stop-color="#9ccfdb"/><stop offset="0.5" stop-color="#78acc2"/><stop offset="1" stop-color="#5f88a2"/></linearGradient>
<linearGradient id="el" x1="0" y1="0" x2="0" y2="1"><stop offset="0" stop-color="#8fb6c0"/><stop offset="1" stop-color="#7aa2a4"/></linearGradient>
<linearGradient id="ef" x1="0" y1="0" x2="1" y2="0"><stop offset="0" stop-color="#98e2ee"/><stop offset="0.6" stop-color="#a8e4ee"/><stop offset="1" stop-color="#b4e2ea"/></linearGradient>
<radialGradient id="ys" cx="0.45" cy="0.35" r="0.65"><stop offset="0" stop-color="#fdfde0"/><stop offset="0.35" stop-color="#e6e08a"/><stop offset="0.8" stop-color="#c8be50"/><stop offset="1" stop-color="#8a8030"/></radialGradient>
<radialGradient id="gs" cx="0.45" cy="0.35" r="0.65"><stop offset="0" stop-color="#a8c8b8"/><stop offset="0.6" stop-color="#6e9a8a"/><stop offset="1" stop-color="#4a7064"/></radialGradient>
<polygon points="311.0,548.6 362.0,584.0 363.5,617.5 314.0,577.2" fill="url(#wl)"/>
<polygon points="362.0,584.0 542.5,536.0 542.5,559.2 363.5,617.5" fill="url(#wf)"/>
<polygon points="311.0,528.4 362.0,558.0 362.0,584.0 311.0,548.6" fill="#7a7a7a"/>
<polygon points="362.0,558.0 542.5,518.0 542.5,536.0 362.0,584.0" fill="#858585"/>
<filter id="nz" color-interpolation-filters="sRGB" x="0" y="0" width="1" height="1" filterUnits="objectBoundingBox"><feTurbulence type="fractalNoise" baseFrequency="0.45 0.8" numOctaves="2" seed="4"/><feColorMatrix type="matrix" values="0.5 0 0 0 0.28  0.5 0 0 0 0.28  0.5 0 0 0 0.28  0 0 0 0 1"/></filter>
<clipPath id="gdl"><polygon points="311.0,523.7 362.0,552.0 542.5,513.8 542.5,536.0 362.0,584.0 311.0,548.6"/></clipPath>
<g clip-path="url(#gdl)"><rect x="311.0" y="505" width="233.5" height="90" filter="url(#nz)"/></g>
<polygon points="311.0,523.7 362.0,552.0 362.0,584.0 311.0,548.6" fill="#000" opacity="0.08"/>
<line x1="323.6" y1="544" x2="323.6" y2="569" stroke="#3a4a70" stroke-width="1.2" stroke-dasharray="1.2,1.3"/>
<path d="M323.6,541 L321.40000000000003,544.5 L325.8,544.5 Z" fill="#3a4a70"/>
<line x1="346" y1="556.5" x2="346" y2="582" stroke="#3a4a70" stroke-width="1.2" stroke-dasharray="1.2,1.3"/>
<path d="M346,553.5 L343.8,557.0 L348.2,557.0 Z" fill="#3a4a70"/>
<line x1="379.2" y1="563" x2="379.2" y2="593" stroke="#3a4a70" stroke-width="1.2" stroke-dasharray="1.2,1.3"/>
<path d="M379.2,560 L377.0,563.5 L381.4,563.5 Z" fill="#3a4a70"/>
<line x1="404" y1="560" x2="404" y2="589.5" stroke="#3a4a70" stroke-width="1.2" stroke-dasharray="1.2,1.3"/>
<path d="M404,557 L401.8,560.5 L406.2,560.5 Z" fill="#3a4a70"/>
<line x1="515.1" y1="536" x2="515.1" y2="561.5" stroke="#3a4a70" stroke-width="1.2" stroke-dasharray="1.2,1.3"/>
<path d="M515.1,533 L512.9,536.5 L517.3000000000001,536.5 Z" fill="#3a4a70"/>
<line x1="535.8" y1="531.5" x2="535.8" y2="556.5" stroke="#3a4a70" stroke-width="1.2" stroke-dasharray="1.2,1.3"/>
<path d="M535.8,528.5 L533.5999999999999,532.0 L538.0,532.0 Z" fill="#3a4a70"/>
<polygon points="311.0,492.6 476.6,475.8 546.0,485.6 360.5,512.0" fill="url(#et)"/>
<polygon points="311.0,492.6 360.5,512.0 360.5,546.0 311.0,519.1" fill="url(#el)"/>
<polygon points="360.5,512.0 546.0,485.6 546.0,509.0 360.5,546.0" fill="url(#ef)"/>
<circle cx="327" cy="516" r="6" fill="url(#gs)" opacity="0.4"/>
<circle cx="338" cy="514" r="6" fill="url(#gs)" opacity="0.4"/>
<circle cx="348.5" cy="515.5" r="6" fill="url(#gs)" opacity="0.4"/>
<circle cx="334" cy="521" r="6" fill="url(#gs)" opacity="0.4"/>
<circle cx="344" cy="521.5" r="6" fill="url(#gs)" opacity="0.4"/>
<circle cx="354" cy="522" r="6" fill="url(#gs)" opacity="0.4"/>
<circle cx="341" cy="528" r="6" fill="url(#gs)" opacity="0.4"/>
<circle cx="351" cy="529.5" r="6" fill="url(#gs)" opacity="0.4"/>
<clipPath id="eff"><polygon points="360.5,512.0 546.0,485.6 546.0,509.0 360.5,546.0"/></clipPath><g clip-path="url(#eff)" opacity="0.18">
<circle cx="444.6" cy="520.8" r="3.8" fill="none" stroke="#e8fbff" stroke-width="0.8"/>
<circle cx="447.0" cy="517.9" r="3.2" fill="none" stroke="#e8fbff" stroke-width="0.8"/>
<circle cx="395.7" cy="518.2" r="3.3" fill="none" stroke="#e8fbff" stroke-width="0.8"/>
<circle cx="506.7" cy="495.2" r="2.6" fill="none" stroke="#e8fbff" stroke-width="0.8"/>
<circle cx="378.5" cy="534.5" r="3.4" fill="none" stroke="#e8fbff" stroke-width="0.8"/>
<circle cx="369.6" cy="544.0" r="3.9" fill="none" stroke="#e8fbff" stroke-width="0.8"/>
<circle cx="481.3" cy="523.9" r="2.3" fill="none" stroke="#e8fbff" stroke-width="0.8"/>
<circle cx="364.7" cy="519.1" r="2.1" fill="none" stroke="#e8fbff" stroke-width="0.8"/>
<circle cx="396.7" cy="503.3" r="2.1" fill="none" stroke="#e8fbff" stroke-width="0.8"/>
<circle cx="446.7" cy="514.2" r="3.7" fill="none" stroke="#e8fbff" stroke-width="0.8"/>
<circle cx="456.7" cy="525.2" r="3.0" fill="none" stroke="#e8fbff" stroke-width="0.8"/>
<circle cx="482.9" cy="515.2" r="2.6" fill="none" stroke="#e8fbff" stroke-width="0.8"/>
<circle cx="544.1" cy="544.8" r="3.7" fill="none" stroke="#e8fbff" stroke-width="0.8"/>
<circle cx="491.2" cy="507.3" r="2.5" fill="none" stroke="#e8fbff" stroke-width="0.8"/>
<circle cx="414.7" cy="493.9" r="3.5" fill="none" stroke="#e8fbff" stroke-width="0.8"/>
<circle cx="435.1" cy="536.6" r="2.8" fill="none" stroke="#e8fbff" stroke-width="0.8"/>
<circle cx="536.8" cy="536.6" r="2.0" fill="none" stroke="#e8fbff" stroke-width="0.8"/>
<circle cx="400.3" cy="540.1" r="2.9" fill="none" stroke="#e8fbff" stroke-width="0.8"/>
<circle cx="540.9" cy="511.9" r="2.1" fill="none" stroke="#e8fbff" stroke-width="0.8"/>
<circle cx="476.9" cy="532.8" r="2.5" fill="none" stroke="#e8fbff" stroke-width="0.8"/>
<circle cx="377.9" cy="508.3" r="3.9" fill="none" stroke="#e8fbff" stroke-width="0.8"/>
<circle cx="500.3" cy="496.5" r="2.5" fill="none" stroke="#e8fbff" stroke-width="0.8"/>
<circle cx="380.4" cy="493.3" r="3.6" fill="none" stroke="#e8fbff" stroke-width="0.8"/>
<circle cx="394.4" cy="520.8" r="2.9" fill="none" stroke="#e8fbff" stroke-width="0.8"/>
<circle cx="396.8" cy="530.3" r="2.3" fill="none" stroke="#e8fbff" stroke-width="0.8"/>
<circle cx="479.5" cy="496.4" r="2.8" fill="none" stroke="#e8fbff" stroke-width="0.8"/>
<circle cx="400.8" cy="504.8" r="3.9" fill="none" stroke="#e8fbff" stroke-width="0.8"/>
<circle cx="508.6" cy="506.7" r="3.8" fill="none" stroke="#e8fbff" stroke-width="0.8"/>
<circle cx="400.5" cy="511.7" r="3.7" fill="none" stroke="#e8fbff" stroke-width="0.8"/>
<circle cx="479.1" cy="495.5" r="4.0" fill="none" stroke="#e8fbff" stroke-width="0.8"/>
<circle cx="400.9" cy="504.2" r="3.5" fill="none" stroke="#e8fbff" stroke-width="0.8"/>
<circle cx="422.0" cy="506.3" r="2.1" fill="none" stroke="#e8fbff" stroke-width="0.8"/>
<circle cx="378.4" cy="522.1" r="2.5" fill="none" stroke="#e8fbff" stroke-width="0.8"/>
<circle cx="471.7" cy="510.4" r="2.9" fill="none" stroke="#e8fbff" stroke-width="0.8"/>
<circle cx="537.0" cy="516.6" r="3.1" fill="none" stroke="#e8fbff" stroke-width="0.8"/>
<circle cx="520.1" cy="500.1" r="2.3" fill="none" stroke="#e8fbff" stroke-width="0.8"/>
<circle cx="527.8" cy="535.0" r="2.5" fill="none" stroke="#e8fbff" stroke-width="0.8"/>
<circle cx="396.6" cy="530.7" r="3.9" fill="none" stroke="#e8fbff" stroke-width="0.8"/>
<circle cx="397.9" cy="542.3" r="3.8" fill="none" stroke="#e8fbff" stroke-width="0.8"/>
<circle cx="472.1" cy="513.2" r="2.2" fill="none" stroke="#e8fbff" stroke-width="0.8"/>
<circle cx="369.1" cy="542.9" r="2.5" fill="none" stroke="#e8fbff" stroke-width="0.8"/>
<circle cx="490.6" cy="504.1" r="3.6" fill="none" stroke="#e8fbff" stroke-width="0.8"/>
<circle cx="470.9" cy="506.1" r="2.4" fill="none" stroke="#e8fbff" stroke-width="0.8"/>
<circle cx="493.5" cy="493.8" r="2.5" fill="none" stroke="#e8fbff" stroke-width="0.8"/>
<circle cx="464.1" cy="536.9" r="3.2" fill="none" stroke="#e8fbff" stroke-width="0.8"/>
<circle cx="413.1" cy="540.5" r="2.4" fill="none" stroke="#e8fbff" stroke-width="0.8"/>
<circle cx="365.0" cy="504.8" r="2.9" fill="none" stroke="#e8fbff" stroke-width="0.8"/>
<circle cx="373.0" cy="499.7" r="2.7" fill="none" stroke="#e8fbff" stroke-width="0.8"/>
<circle cx="466.4" cy="497.2" r="2.7" fill="none" stroke="#e8fbff" stroke-width="0.8"/>
<circle cx="524.6" cy="543.9" r="3.3" fill="none" stroke="#e8fbff" stroke-width="0.8"/>
<circle cx="488.1" cy="522.1" r="2.3" fill="none" stroke="#e8fbff" stroke-width="0.8"/>
<circle cx="368.4" cy="491.0" r="3.8" fill="none" stroke="#e8fbff" stroke-width="0.8"/>
<circle cx="489.9" cy="543.0" r="2.0" fill="none" stroke="#e8fbff" stroke-width="0.8"/>
<circle cx="478.1" cy="516.5" r="3.5" fill="none" stroke="#e8fbff" stroke-width="0.8"/>
<circle cx="420.2" cy="545.0" r="2.2" fill="none" stroke="#e8fbff" stroke-width="0.8"/>
<circle cx="461.7" cy="530.5" r="3.8" fill="none" stroke="#e8fbff" stroke-width="0.8"/>
<circle cx="496.5" cy="528.7" r="3.6" fill="none" stroke="#e8fbff" stroke-width="0.8"/>
<circle cx="529.0" cy="509.4" r="3.4" fill="none" stroke="#e8fbff" stroke-width="0.8"/>
<circle cx="526.4" cy="537.9" r="2.8" fill="none" stroke="#e8fbff" stroke-width="0.8"/>
<circle cx="506.3" cy="537.5" r="3.1" fill="none" stroke="#e8fbff" stroke-width="0.8"/>
<circle cx="476.1" cy="511.0" r="3.2" fill="none" stroke="#e8fbff" stroke-width="0.8"/>
<circle cx="473.1" cy="494.4" r="3.3" fill="none" stroke="#e8fbff" stroke-width="0.8"/>
<circle cx="543.3" cy="538.4" r="3.5" fill="none" stroke="#e8fbff" stroke-width="0.8"/>
<circle cx="432.9" cy="530.4" r="3.2" fill="none" stroke="#e8fbff" stroke-width="0.8"/>
<circle cx="442.4" cy="536.1" r="2.2" fill="none" stroke="#e8fbff" stroke-width="0.8"/>
<circle cx="498.9" cy="491.6" r="3.2" fill="none" stroke="#e8fbff" stroke-width="0.8"/>
<circle cx="449.8" cy="502.7" r="3.4" fill="none" stroke="#e8fbff" stroke-width="0.8"/>
<circle cx="452.7" cy="523.8" r="3.8" fill="none" stroke="#e8fbff" stroke-width="0.8"/>
<circle cx="408.7" cy="490.6" r="2.6" fill="none" stroke="#e8fbff" stroke-width="0.8"/>
<circle cx="485.8" cy="501.1" r="2.3" fill="none" stroke="#e8fbff" stroke-width="0.8"/>
<circle cx="527.3" cy="526.3" r="2.9" fill="none" stroke="#e8fbff" stroke-width="0.8"/>
<circle cx="524.7" cy="508.0" r="3.3" fill="none" stroke="#e8fbff" stroke-width="0.8"/>
<circle cx="398.2" cy="513.7" r="3.6" fill="none" stroke="#e8fbff" stroke-width="0.8"/>
<circle cx="528.8" cy="538.4" r="2.8" fill="none" stroke="#e8fbff" stroke-width="0.8"/>
<circle cx="468.4" cy="507.4" r="2.3" fill="none" stroke="#e8fbff" stroke-width="0.8"/>
<circle cx="452.6" cy="536.0" r="3.7" fill="none" stroke="#e8fbff" stroke-width="0.8"/>
<circle cx="491.8" cy="542.3" r="2.6" fill="none" stroke="#e8fbff" stroke-width="0.8"/>
<circle cx="392.9" cy="514.8" r="2.6" fill="none" stroke="#e8fbff" stroke-width="0.8"/>
<circle cx="401.1" cy="512.8" r="3.3" fill="none" stroke="#e8fbff" stroke-width="0.8"/>
<circle cx="452.1" cy="507.3" r="3.7" fill="none" stroke="#e8fbff" stroke-width="0.8"/>
<circle cx="541.2" cy="514.9" r="2.1" fill="none" stroke="#e8fbff" stroke-width="0.8"/>
<circle cx="367.7" cy="538.0" r="2.1" fill="none" stroke="#e8fbff" stroke-width="0.8"/>
<circle cx="491.3" cy="521.4" r="2.6" fill="none" stroke="#e8fbff" stroke-width="0.8"/>
<circle cx="506.5" cy="491.1" r="2.3" fill="none" stroke="#e8fbff" stroke-width="0.8"/>
<circle cx="445.0" cy="491.4" r="3.7" fill="none" stroke="#e8fbff" stroke-width="0.8"/>
<circle cx="405.3" cy="497.7" r="2.1" fill="none" stroke="#e8fbff" stroke-width="0.8"/>
<circle cx="476.8" cy="514.6" r="3.3" fill="none" stroke="#e8fbff" stroke-width="0.8"/>
<circle cx="481.5" cy="534.4" r="3.9" fill="none" stroke="#e8fbff" stroke-width="0.8"/>
<circle cx="486.9" cy="501.0" r="3.0" fill="none" stroke="#e8fbff" stroke-width="0.8"/>
<circle cx="394.6" cy="490.6" r="2.9" fill="none" stroke="#e8fbff" stroke-width="0.8"/>
<circle cx="492.3" cy="499.9" r="2.5" fill="none" stroke="#e8fbff" stroke-width="0.8"/>
<circle cx="425.1" cy="528.4" r="3.0" fill="none" stroke="#e8fbff" stroke-width="0.8"/>
<circle cx="474.1" cy="531.6" r="2.8" fill="none" stroke="#e8fbff" stroke-width="0.8"/>
<circle cx="506.5" cy="539.8" r="2.2" fill="none" stroke="#e8fbff" stroke-width="0.8"/>
<circle cx="532.2" cy="529.7" r="2.3" fill="none" stroke="#e8fbff" stroke-width="0.8"/>
<circle cx="444.8" cy="524.4" r="3.8" fill="none" stroke="#e8fbff" stroke-width="0.8"/>
<circle cx="430.8" cy="521.3" r="3.8" fill="none" stroke="#e8fbff" stroke-width="0.8"/>
<circle cx="507.4" cy="541.9" r="2.9" fill="none" stroke="#e8fbff" stroke-width="0.8"/>
<circle cx="480.9" cy="501.3" r="3.4" fill="none" stroke="#e8fbff" stroke-width="0.8"/>
<circle cx="511.3" cy="525.3" r="3.4" fill="none" stroke="#e8fbff" stroke-width="0.8"/>
<circle cx="400.9" cy="539.5" r="4.0" fill="none" stroke="#e8fbff" stroke-width="0.8"/>
<circle cx="540.4" cy="519.5" r="3.6" fill="none" stroke="#e8fbff" stroke-width="0.8"/>
<circle cx="420.5" cy="540.0" r="3.7" fill="none" stroke="#e8fbff" stroke-width="0.8"/>
<circle cx="425.6" cy="494.6" r="2.9" fill="none" stroke="#e8fbff" stroke-width="0.8"/>
<circle cx="462.4" cy="532.3" r="3.0" fill="none" stroke="#e8fbff" stroke-width="0.8"/>
<circle cx="367.2" cy="534.5" r="2.1" fill="none" stroke="#e8fbff" stroke-width="0.8"/>
<circle cx="508.0" cy="499.5" r="2.7" fill="none" stroke="#e8fbff" stroke-width="0.8"/>
<circle cx="505.8" cy="497.7" r="2.3" fill="none" stroke="#e8fbff" stroke-width="0.8"/>
<circle cx="456.3" cy="529.8" r="3.7" fill="none" stroke="#e8fbff" stroke-width="0.8"/>
<circle cx="487.8" cy="542.0" r="3.0" fill="none" stroke="#e8fbff" stroke-width="0.8"/>
<circle cx="535.2" cy="494.7" r="2.4" fill="none" stroke="#e8fbff" stroke-width="0.8"/>
<circle cx="458.1" cy="506.0" r="3.5" fill="none" stroke="#e8fbff" stroke-width="0.8"/>
<circle cx="478.6" cy="518.8" r="3.7" fill="none" stroke="#e8fbff" stroke-width="0.8"/>
<circle cx="464.2" cy="507.1" r="2.8" fill="none" stroke="#e8fbff" stroke-width="0.8"/>
<circle cx="516.3" cy="539.5" r="2.4" fill="none" stroke="#e8fbff" stroke-width="0.8"/>
<circle cx="517.3" cy="543.3" r="3.0" fill="none" stroke="#e8fbff" stroke-width="0.8"/>
<circle cx="466.6" cy="501.1" r="3.1" fill="none" stroke="#e8fbff" stroke-width="0.8"/>
<circle cx="453.8" cy="523.3" r="2.1" fill="none" stroke="#e8fbff" stroke-width="0.8"/>
<circle cx="538.9" cy="518.4" r="2.8" fill="none" stroke="#e8fbff" stroke-width="0.8"/>
<circle cx="508.2" cy="521.0" r="3.0" fill="none" stroke="#e8fbff" stroke-width="0.8"/>
</g>
<circle cx="316.8" cy="524.5" r="6.0" fill="url(#ys)"/>
<circle cx="322.9" cy="528.1" r="6.2" fill="url(#ys)"/>
<circle cx="328.9" cy="531.8" r="6.5" fill="url(#ys)"/>
<circle cx="335.0" cy="535.5" r="6.7" fill="url(#ys)"/>
<circle cx="341.1" cy="539.1" r="6.9" fill="url(#ys)"/>
<circle cx="347.1" cy="542.8" r="7.2" fill="url(#ys)"/>
<circle cx="353.2" cy="546.4" r="7.4" fill="url(#ys)"/>
<circle cx="363.5" cy="551.2" r="9.3" fill="url(#ys)"/>
<circle cx="381.4" cy="547.4" r="9.1" fill="url(#ys)"/>
<circle cx="397.7" cy="544.0" r="8.8" fill="url(#ys)"/>
<circle cx="413.5" cy="540.6" r="8.6" fill="url(#ys)"/>
<circle cx="429.0" cy="537.4" r="8.3" fill="url(#ys)"/>
<circle cx="444.0" cy="534.2" r="8.1" fill="url(#ys)"/>
<circle cx="458.5" cy="531.2" r="7.8" fill="url(#ys)"/>
<circle cx="472.5" cy="528.2" r="7.6" fill="url(#ys)"/>
<circle cx="486.5" cy="525.3" r="7.3" fill="url(#ys)"/>
<circle cx="500.0" cy="522.4" r="7.1" fill="url(#ys)"/>
<circle cx="513.0" cy="519.7" r="6.8" fill="url(#ys)"/>
<circle cx="526.0" cy="516.9" r="6.6" fill="url(#ys)"/>
<circle cx="539.0" cy="514.2" r="6.3" fill="url(#ys)"/>
<text x="311.5" y="478.5" font-size="15" fill="#000" font-weight="normal" text-anchor="start" style='font-family:"Liberation Serif",serif' >(i)</text>
<text x="376.8" y="470" font-size="7.6" fill="#222" font-weight="normal" text-anchor="start" style='font-family:"Liberation Sans",sans-serif'  textLength="89.5" lengthAdjust="spacingAndGlyphs">Cathode flow-cell system</text>
<g transform="rotate(-8.5 444 510)">
<path d="M421,513 L472,513 L472,510 L480,516 L472,522 L472,519 L421,519 Z" fill="#dcdcdc" stroke="#444" stroke-width="0.9"/>
</g>
<text x="425.5" y="508.8" font-size="9" fill="#222" font-weight="normal" text-anchor="start" style='font-family:"Liberation Sans",sans-serif' transform="rotate(-8.5 425.5 508.8)" textLength="43" lengthAdjust="spacingAndGlyphs">Electrolyte</text>
<text x="422.5" y="536" font-size="8" fill="#f01808" font-weight="normal" text-anchor="start" style='font-family:"Liberation Sans",sans-serif' transform="rotate(-9 422.5 536)" textLength="52" lengthAdjust="spacingAndGlyphs">CSVE catalyst</text>
<text x="413.5" y="560" font-size="8" fill="#111" font-weight="normal" text-anchor="start" style='font-family:"Liberation Sans",sans-serif' transform="rotate(-9.5 413.5 560)" textLength="68" lengthAdjust="spacingAndGlyphs">Gas diffusion layey</text>
<text x="449.5" y="576.5" font-size="8.6" fill="#222" font-weight="normal" text-anchor="start" style='font-family:"Liberation Sans",sans-serif' transform="rotate(-10 449.5 576.5)">Co<tspan font-size="5.5" dy="1.5">2</tspan><tspan dy="-1.5"> gas</tspan></text>
</svg>
</body></html>
